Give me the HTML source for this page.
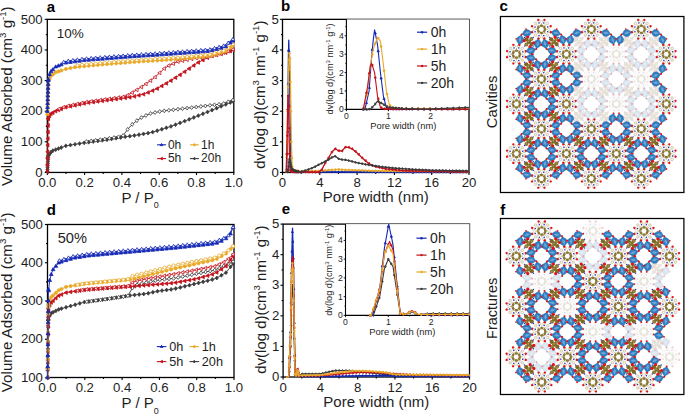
<!DOCTYPE html>
<html><head><meta charset="utf-8"><style>
html,body{margin:0;padding:0;background:#fff;width:685px;height:414px;overflow:hidden}
svg{display:block}
text{font-family:"Liberation Sans", sans-serif}
</style></head><body>
<svg width="685" height="414" viewBox="0 0 685 414" font-family='"Liberation Sans", sans-serif'>
<rect width="685" height="414" fill="#fff"/>
<rect x="47.3" y="19.35" width="186.5" height="153.1" fill="none" stroke="#000" stroke-width="1.3"/>
<line x1="47.30" y1="172.45" x2="47.30" y2="175.04999999999998" stroke="#000" stroke-width="1.105"/>
<line x1="84.60" y1="172.45" x2="84.60" y2="175.04999999999998" stroke="#000" stroke-width="1.105"/>
<line x1="121.90" y1="172.45" x2="121.90" y2="175.04999999999998" stroke="#000" stroke-width="1.105"/>
<line x1="159.20" y1="172.45" x2="159.20" y2="175.04999999999998" stroke="#000" stroke-width="1.105"/>
<line x1="196.50" y1="172.45" x2="196.50" y2="175.04999999999998" stroke="#000" stroke-width="1.105"/>
<line x1="233.80" y1="172.45" x2="233.80" y2="175.04999999999998" stroke="#000" stroke-width="1.105"/>
<line x1="65.95" y1="172.45" x2="65.95" y2="173.95" stroke="#000" stroke-width="1.105"/>
<line x1="103.25" y1="172.45" x2="103.25" y2="173.95" stroke="#000" stroke-width="1.105"/>
<line x1="140.55" y1="172.45" x2="140.55" y2="173.95" stroke="#000" stroke-width="1.105"/>
<line x1="177.85" y1="172.45" x2="177.85" y2="173.95" stroke="#000" stroke-width="1.105"/>
<line x1="215.15" y1="172.45" x2="215.15" y2="173.95" stroke="#000" stroke-width="1.105"/>
<line x1="44.699999999999996" y1="172.45" x2="47.3" y2="172.45" stroke="#000" stroke-width="1.105"/>
<line x1="44.699999999999996" y1="141.83" x2="47.3" y2="141.83" stroke="#000" stroke-width="1.105"/>
<line x1="44.699999999999996" y1="111.21" x2="47.3" y2="111.21" stroke="#000" stroke-width="1.105"/>
<line x1="44.699999999999996" y1="80.59" x2="47.3" y2="80.59" stroke="#000" stroke-width="1.105"/>
<line x1="44.699999999999996" y1="49.97" x2="47.3" y2="49.97" stroke="#000" stroke-width="1.105"/>
<line x1="44.699999999999996" y1="19.35" x2="47.3" y2="19.35" stroke="#000" stroke-width="1.105"/>
<line x1="45.8" y1="157.14" x2="47.3" y2="157.14" stroke="#000" stroke-width="1.105"/>
<line x1="45.8" y1="126.52" x2="47.3" y2="126.52" stroke="#000" stroke-width="1.105"/>
<line x1="45.8" y1="95.90" x2="47.3" y2="95.90" stroke="#000" stroke-width="1.105"/>
<line x1="45.8" y1="65.28" x2="47.3" y2="65.28" stroke="#000" stroke-width="1.105"/>
<line x1="45.8" y1="34.66" x2="47.3" y2="34.66" stroke="#000" stroke-width="1.105"/>
<text x="47.30" y="187.10" font-size="13.2" text-anchor="middle" font-weight="normal" fill="#1e1e1e" >0.0</text>
<text x="84.60" y="187.10" font-size="13.2" text-anchor="middle" font-weight="normal" fill="#1e1e1e" >0.2</text>
<text x="121.90" y="187.10" font-size="13.2" text-anchor="middle" font-weight="normal" fill="#1e1e1e" >0.4</text>
<text x="159.20" y="187.10" font-size="13.2" text-anchor="middle" font-weight="normal" fill="#1e1e1e" >0.6</text>
<text x="196.50" y="187.10" font-size="13.2" text-anchor="middle" font-weight="normal" fill="#1e1e1e" >0.8</text>
<text x="233.80" y="187.10" font-size="13.2" text-anchor="middle" font-weight="normal" fill="#1e1e1e" >1.0</text>
<text x="42.70" y="176.61" font-size="13.2" text-anchor="end" font-weight="normal" fill="#1e1e1e" >0</text>
<text x="42.70" y="145.99" font-size="13.2" text-anchor="end" font-weight="normal" fill="#1e1e1e" >100</text>
<text x="42.70" y="115.37" font-size="13.2" text-anchor="end" font-weight="normal" fill="#1e1e1e" >200</text>
<text x="42.70" y="84.75" font-size="13.2" text-anchor="end" font-weight="normal" fill="#1e1e1e" >300</text>
<text x="42.70" y="54.13" font-size="13.2" text-anchor="end" font-weight="normal" fill="#1e1e1e" >400</text>
<text x="42.70" y="23.51" font-size="13.2" text-anchor="end" font-weight="normal" fill="#1e1e1e" >500</text>
<clipPath id="clipa"><rect x="44.3" y="15.350000000000001" width="192.5" height="160.1"/></clipPath>
<g clip-path="url(#clipa)">
<polyline points="47.39,171.53 47.51,169.54 47.62,167.55 47.73,165.56 47.84,163.57 47.95,161.58 48.06,159.59 48.18,157.60 48.29,155.61 48.42,155.38 49.54,154.00 51.03,152.16 52.89,150.67 55.69,149.63 58.49,148.59 61.29,147.55 65.86,145.85 70.43,145.08 75.00,144.33 79.56,143.58 84.13,142.83 88.70,142.19 93.27,141.56 97.84,140.94 102.41,140.31 106.98,139.69 111.55,138.94 116.12,138.19 120.69,137.44 125.26,136.75 129.83,136.18 134.40,135.47 138.96,134.69 143.53,133.92 148.10,133.14 152.67,132.12 157.24,130.69 161.81,129.25 166.38,127.82 170.95,126.39 175.52,124.66 180.09,122.88 184.66,121.11 189.23,119.34 193.80,117.53 198.37,115.67 202.93,113.82 207.50,111.96 212.07,110.10 216.64,108.21 221.21,106.31 225.78,104.42 230.35,102.50 232.87,101.26" fill="none" stroke="#3c3c3c" stroke-width="0.9" stroke-linejoin="round" />
<polygon points="47.39,169.58 48.95,171.53 47.39,173.48 45.83,171.53" fill="#3c3c3c" stroke="#3c3c3c" stroke-width="0.8"/>
<polygon points="47.51,167.59 49.07,169.54 47.51,171.49 45.95,169.54" fill="#3c3c3c" stroke="#3c3c3c" stroke-width="0.8"/>
<polygon points="47.62,165.60 49.18,167.55 47.62,169.50 46.06,167.55" fill="#3c3c3c" stroke="#3c3c3c" stroke-width="0.8"/>
<polygon points="47.73,163.61 49.29,165.56 47.73,167.51 46.17,165.56" fill="#3c3c3c" stroke="#3c3c3c" stroke-width="0.8"/>
<polygon points="47.84,161.62 49.40,163.57 47.84,165.52 46.28,163.57" fill="#3c3c3c" stroke="#3c3c3c" stroke-width="0.8"/>
<polygon points="47.95,159.63 49.51,161.58 47.95,163.53 46.39,161.58" fill="#3c3c3c" stroke="#3c3c3c" stroke-width="0.8"/>
<polygon points="48.06,157.64 49.62,159.59 48.06,161.54 46.50,159.59" fill="#3c3c3c" stroke="#3c3c3c" stroke-width="0.8"/>
<polygon points="48.18,155.65 49.74,157.60 48.18,159.55 46.62,157.60" fill="#3c3c3c" stroke="#3c3c3c" stroke-width="0.8"/>
<polygon points="48.29,153.66 49.85,155.61 48.29,157.56 46.73,155.61" fill="#3c3c3c" stroke="#3c3c3c" stroke-width="0.8"/>
<polygon points="48.42,153.43 49.98,155.38 48.42,157.33 46.86,155.38" fill="#3c3c3c" stroke="#3c3c3c" stroke-width="0.8"/>
<polygon points="49.54,152.05 51.10,154.00 49.54,155.95 47.98,154.00" fill="#3c3c3c" stroke="#3c3c3c" stroke-width="0.8"/>
<polygon points="51.03,150.21 52.59,152.16 51.03,154.11 49.47,152.16" fill="#3c3c3c" stroke="#3c3c3c" stroke-width="0.8"/>
<polygon points="52.89,148.72 54.45,150.67 52.89,152.62 51.33,150.67" fill="#3c3c3c" stroke="#3c3c3c" stroke-width="0.8"/>
<polygon points="55.69,147.68 57.25,149.63 55.69,151.58 54.13,149.63" fill="#3c3c3c" stroke="#3c3c3c" stroke-width="0.8"/>
<polygon points="58.49,146.64 60.05,148.59 58.49,150.54 56.93,148.59" fill="#3c3c3c" stroke="#3c3c3c" stroke-width="0.8"/>
<polygon points="61.29,145.60 62.85,147.55 61.29,149.50 59.73,147.55" fill="#3c3c3c" stroke="#3c3c3c" stroke-width="0.8"/>
<polygon points="65.86,143.90 67.42,145.85 65.86,147.80 64.30,145.85" fill="#3c3c3c" stroke="#3c3c3c" stroke-width="0.8"/>
<polygon points="70.43,143.13 71.99,145.08 70.43,147.03 68.87,145.08" fill="#3c3c3c" stroke="#3c3c3c" stroke-width="0.8"/>
<polygon points="75.00,142.38 76.56,144.33 75.00,146.28 73.44,144.33" fill="#3c3c3c" stroke="#3c3c3c" stroke-width="0.8"/>
<polygon points="79.56,141.63 81.12,143.58 79.56,145.53 78.00,143.58" fill="#3c3c3c" stroke="#3c3c3c" stroke-width="0.8"/>
<polygon points="84.13,140.88 85.69,142.83 84.13,144.78 82.57,142.83" fill="#3c3c3c" stroke="#3c3c3c" stroke-width="0.8"/>
<polygon points="88.70,140.24 90.26,142.19 88.70,144.14 87.14,142.19" fill="#3c3c3c" stroke="#3c3c3c" stroke-width="0.8"/>
<polygon points="93.27,139.61 94.83,141.56 93.27,143.51 91.71,141.56" fill="#3c3c3c" stroke="#3c3c3c" stroke-width="0.8"/>
<polygon points="97.84,138.99 99.40,140.94 97.84,142.89 96.28,140.94" fill="#3c3c3c" stroke="#3c3c3c" stroke-width="0.8"/>
<polygon points="102.41,138.36 103.97,140.31 102.41,142.26 100.85,140.31" fill="#3c3c3c" stroke="#3c3c3c" stroke-width="0.8"/>
<polygon points="106.98,137.74 108.54,139.69 106.98,141.64 105.42,139.69" fill="#3c3c3c" stroke="#3c3c3c" stroke-width="0.8"/>
<polygon points="111.55,136.99 113.11,138.94 111.55,140.89 109.99,138.94" fill="#3c3c3c" stroke="#3c3c3c" stroke-width="0.8"/>
<polygon points="116.12,136.24 117.68,138.19 116.12,140.14 114.56,138.19" fill="#3c3c3c" stroke="#3c3c3c" stroke-width="0.8"/>
<polygon points="120.69,135.49 122.25,137.44 120.69,139.39 119.13,137.44" fill="#3c3c3c" stroke="#3c3c3c" stroke-width="0.8"/>
<polygon points="125.26,134.80 126.82,136.75 125.26,138.70 123.70,136.75" fill="#3c3c3c" stroke="#3c3c3c" stroke-width="0.8"/>
<polygon points="129.83,134.23 131.39,136.18 129.83,138.13 128.27,136.18" fill="#3c3c3c" stroke="#3c3c3c" stroke-width="0.8"/>
<polygon points="134.40,133.52 135.96,135.47 134.40,137.42 132.84,135.47" fill="#3c3c3c" stroke="#3c3c3c" stroke-width="0.8"/>
<polygon points="138.96,132.74 140.52,134.69 138.96,136.64 137.40,134.69" fill="#3c3c3c" stroke="#3c3c3c" stroke-width="0.8"/>
<polygon points="143.53,131.97 145.09,133.92 143.53,135.87 141.97,133.92" fill="#3c3c3c" stroke="#3c3c3c" stroke-width="0.8"/>
<polygon points="148.10,131.19 149.66,133.14 148.10,135.09 146.54,133.14" fill="#3c3c3c" stroke="#3c3c3c" stroke-width="0.8"/>
<polygon points="152.67,130.17 154.23,132.12 152.67,134.07 151.11,132.12" fill="#3c3c3c" stroke="#3c3c3c" stroke-width="0.8"/>
<polygon points="157.24,128.74 158.80,130.69 157.24,132.64 155.68,130.69" fill="#3c3c3c" stroke="#3c3c3c" stroke-width="0.8"/>
<polygon points="161.81,127.30 163.37,129.25 161.81,131.20 160.25,129.25" fill="#3c3c3c" stroke="#3c3c3c" stroke-width="0.8"/>
<polygon points="166.38,125.87 167.94,127.82 166.38,129.77 164.82,127.82" fill="#3c3c3c" stroke="#3c3c3c" stroke-width="0.8"/>
<polygon points="170.95,124.44 172.51,126.39 170.95,128.34 169.39,126.39" fill="#3c3c3c" stroke="#3c3c3c" stroke-width="0.8"/>
<polygon points="175.52,122.71 177.08,124.66 175.52,126.61 173.96,124.66" fill="#3c3c3c" stroke="#3c3c3c" stroke-width="0.8"/>
<polygon points="180.09,120.93 181.65,122.88 180.09,124.83 178.53,122.88" fill="#3c3c3c" stroke="#3c3c3c" stroke-width="0.8"/>
<polygon points="184.66,119.16 186.22,121.11 184.66,123.06 183.10,121.11" fill="#3c3c3c" stroke="#3c3c3c" stroke-width="0.8"/>
<polygon points="189.23,117.39 190.79,119.34 189.23,121.29 187.67,119.34" fill="#3c3c3c" stroke="#3c3c3c" stroke-width="0.8"/>
<polygon points="193.80,115.58 195.36,117.53 193.80,119.48 192.24,117.53" fill="#3c3c3c" stroke="#3c3c3c" stroke-width="0.8"/>
<polygon points="198.37,113.72 199.93,115.67 198.37,117.62 196.81,115.67" fill="#3c3c3c" stroke="#3c3c3c" stroke-width="0.8"/>
<polygon points="202.93,111.87 204.49,113.82 202.93,115.77 201.37,113.82" fill="#3c3c3c" stroke="#3c3c3c" stroke-width="0.8"/>
<polygon points="207.50,110.01 209.06,111.96 207.50,113.91 205.94,111.96" fill="#3c3c3c" stroke="#3c3c3c" stroke-width="0.8"/>
<polygon points="212.07,108.15 213.63,110.10 212.07,112.05 210.51,110.10" fill="#3c3c3c" stroke="#3c3c3c" stroke-width="0.8"/>
<polygon points="216.64,106.26 218.20,108.21 216.64,110.16 215.08,108.21" fill="#3c3c3c" stroke="#3c3c3c" stroke-width="0.8"/>
<polygon points="221.21,104.36 222.77,106.31 221.21,108.26 219.65,106.31" fill="#3c3c3c" stroke="#3c3c3c" stroke-width="0.8"/>
<polygon points="225.78,102.47 227.34,104.42 225.78,106.37 224.22,104.42" fill="#3c3c3c" stroke="#3c3c3c" stroke-width="0.8"/>
<polygon points="230.35,100.55 231.91,102.50 230.35,104.45 228.79,102.50" fill="#3c3c3c" stroke="#3c3c3c" stroke-width="0.8"/>
<polygon points="232.87,99.31 234.43,101.26 232.87,103.21 231.31,101.26" fill="#3c3c3c" stroke="#3c3c3c" stroke-width="0.8"/>
<polyline points="232.87,100.03 228.20,101.84 223.64,103.49 219.07,104.29 214.50,104.84 209.93,105.38 205.36,105.93 200.79,106.48 196.22,107.03 191.65,107.58 187.08,108.12 182.51,108.66 177.94,109.21 173.37,109.75 168.80,110.29 164.24,110.83 159.67,111.52 155.10,112.52 150.53,113.52 145.96,115.46 141.39,117.56 136.82,120.70 132.25,124.38 127.68,129.38 123.11,135.52 118.54,136.87 113.97,137.62 109.40,138.37 104.84,139.06 100.27,139.69 95.70,140.31 91.13,140.94 86.56,141.56" fill="none" stroke="#3c3c3c" stroke-width="0.9" stroke-linejoin="round" />
<polygon points="232.87,98.08 234.43,100.03 232.87,101.98 231.31,100.03" fill="#fff" stroke="#3c3c3c" stroke-width="0.8"/>
<polygon points="228.20,99.89 229.76,101.84 228.20,103.79 226.64,101.84" fill="#fff" stroke="#3c3c3c" stroke-width="0.8"/>
<polygon points="223.64,101.54 225.20,103.49 223.64,105.44 222.08,103.49" fill="#fff" stroke="#3c3c3c" stroke-width="0.8"/>
<polygon points="219.07,102.34 220.63,104.29 219.07,106.24 217.51,104.29" fill="#fff" stroke="#3c3c3c" stroke-width="0.8"/>
<polygon points="214.50,102.89 216.06,104.84 214.50,106.79 212.94,104.84" fill="#fff" stroke="#3c3c3c" stroke-width="0.8"/>
<polygon points="209.93,103.43 211.49,105.38 209.93,107.33 208.37,105.38" fill="#fff" stroke="#3c3c3c" stroke-width="0.8"/>
<polygon points="205.36,103.98 206.92,105.93 205.36,107.88 203.80,105.93" fill="#fff" stroke="#3c3c3c" stroke-width="0.8"/>
<polygon points="200.79,104.53 202.35,106.48 200.79,108.43 199.23,106.48" fill="#fff" stroke="#3c3c3c" stroke-width="0.8"/>
<polygon points="196.22,105.08 197.78,107.03 196.22,108.98 194.66,107.03" fill="#fff" stroke="#3c3c3c" stroke-width="0.8"/>
<polygon points="191.65,105.63 193.21,107.58 191.65,109.53 190.09,107.58" fill="#fff" stroke="#3c3c3c" stroke-width="0.8"/>
<polygon points="187.08,106.17 188.64,108.12 187.08,110.07 185.52,108.12" fill="#fff" stroke="#3c3c3c" stroke-width="0.8"/>
<polygon points="182.51,106.71 184.07,108.66 182.51,110.61 180.95,108.66" fill="#fff" stroke="#3c3c3c" stroke-width="0.8"/>
<polygon points="177.94,107.26 179.50,109.21 177.94,111.16 176.38,109.21" fill="#fff" stroke="#3c3c3c" stroke-width="0.8"/>
<polygon points="173.37,107.80 174.93,109.75 173.37,111.70 171.81,109.75" fill="#fff" stroke="#3c3c3c" stroke-width="0.8"/>
<polygon points="168.80,108.34 170.36,110.29 168.80,112.24 167.24,110.29" fill="#fff" stroke="#3c3c3c" stroke-width="0.8"/>
<polygon points="164.24,108.88 165.80,110.83 164.24,112.78 162.68,110.83" fill="#fff" stroke="#3c3c3c" stroke-width="0.8"/>
<polygon points="159.67,109.57 161.23,111.52 159.67,113.47 158.11,111.52" fill="#fff" stroke="#3c3c3c" stroke-width="0.8"/>
<polygon points="155.10,110.57 156.66,112.52 155.10,114.47 153.54,112.52" fill="#fff" stroke="#3c3c3c" stroke-width="0.8"/>
<polygon points="150.53,111.57 152.09,113.52 150.53,115.47 148.97,113.52" fill="#fff" stroke="#3c3c3c" stroke-width="0.8"/>
<polygon points="145.96,113.51 147.52,115.46 145.96,117.41 144.40,115.46" fill="#fff" stroke="#3c3c3c" stroke-width="0.8"/>
<polygon points="141.39,115.61 142.95,117.56 141.39,119.51 139.83,117.56" fill="#fff" stroke="#3c3c3c" stroke-width="0.8"/>
<polygon points="136.82,118.75 138.38,120.70 136.82,122.65 135.26,120.70" fill="#fff" stroke="#3c3c3c" stroke-width="0.8"/>
<polygon points="132.25,122.43 133.81,124.38 132.25,126.33 130.69,124.38" fill="#fff" stroke="#3c3c3c" stroke-width="0.8"/>
<polygon points="127.68,127.43 129.24,129.38 127.68,131.33 126.12,129.38" fill="#fff" stroke="#3c3c3c" stroke-width="0.8"/>
<polygon points="123.11,133.57 124.67,135.52 123.11,137.47 121.55,135.52" fill="#fff" stroke="#3c3c3c" stroke-width="0.8"/>
<polygon points="118.54,134.92 120.10,136.87 118.54,138.82 116.98,136.87" fill="#fff" stroke="#3c3c3c" stroke-width="0.8"/>
<polygon points="113.97,135.67 115.53,137.62 113.97,139.57 112.41,137.62" fill="#fff" stroke="#3c3c3c" stroke-width="0.8"/>
<polygon points="109.40,136.42 110.96,138.37 109.40,140.32 107.84,138.37" fill="#fff" stroke="#3c3c3c" stroke-width="0.8"/>
<polygon points="104.84,137.11 106.40,139.06 104.84,141.01 103.28,139.06" fill="#fff" stroke="#3c3c3c" stroke-width="0.8"/>
<polygon points="100.27,137.74 101.83,139.69 100.27,141.64 98.71,139.69" fill="#fff" stroke="#3c3c3c" stroke-width="0.8"/>
<polygon points="95.70,138.36 97.26,140.31 95.70,142.26 94.14,140.31" fill="#fff" stroke="#3c3c3c" stroke-width="0.8"/>
<polygon points="91.13,138.99 92.69,140.94 91.13,142.89 89.57,140.94" fill="#fff" stroke="#3c3c3c" stroke-width="0.8"/>
<polygon points="86.56,139.61 88.12,141.56 86.56,143.51 85.00,141.56" fill="#fff" stroke="#3c3c3c" stroke-width="0.8"/>
<polyline points="47.39,171.53 47.51,164.95 47.62,158.36 47.73,151.78 47.84,145.20 47.95,138.61 48.06,132.03 48.18,125.45 48.29,118.86 48.42,118.41 49.54,115.91 51.03,113.66 52.89,112.64 55.69,111.11 58.49,110.00 61.29,108.96 65.86,107.26 70.43,106.29 75.00,105.34 79.56,104.38 84.13,103.43 88.70,102.65 93.27,102.05 97.84,101.45 102.41,100.85 106.98,100.25 111.55,99.65 116.12,99.05 120.69,98.45 125.26,97.86 129.83,97.30 134.40,96.38 138.96,95.31 143.53,94.24 148.10,92.49 152.67,90.62 157.24,88.58 161.81,85.96 166.38,83.35 170.95,80.59 175.52,77.69 180.09,74.80 184.66,71.74 189.23,68.60 193.80,65.46 198.37,62.45 202.93,60.10 207.50,57.76 212.07,56.09 216.64,54.96 221.21,53.84 225.78,52.60 230.35,51.10 232.87,49.97" fill="none" stroke="#c4121c" stroke-width="0.9" stroke-linejoin="round" />
<polygon points="45.44,171.53 48.56,169.68 48.56,173.38" fill="#c4121c" stroke="#c4121c" stroke-width="0.8"/>
<polygon points="45.56,164.95 48.68,163.10 48.68,166.80" fill="#c4121c" stroke="#c4121c" stroke-width="0.8"/>
<polygon points="45.67,158.36 48.79,156.51 48.79,160.22" fill="#c4121c" stroke="#c4121c" stroke-width="0.8"/>
<polygon points="45.78,151.78 48.90,149.93 48.90,153.63" fill="#c4121c" stroke="#c4121c" stroke-width="0.8"/>
<polygon points="45.89,145.20 49.01,143.35 49.01,147.05" fill="#c4121c" stroke="#c4121c" stroke-width="0.8"/>
<polygon points="46.00,138.61 49.12,136.76 49.12,140.47" fill="#c4121c" stroke="#c4121c" stroke-width="0.8"/>
<polygon points="46.11,132.03 49.23,130.18 49.23,133.88" fill="#c4121c" stroke="#c4121c" stroke-width="0.8"/>
<polygon points="46.23,125.45 49.35,123.60 49.35,127.30" fill="#c4121c" stroke="#c4121c" stroke-width="0.8"/>
<polygon points="46.34,118.86 49.46,117.01 49.46,120.72" fill="#c4121c" stroke="#c4121c" stroke-width="0.8"/>
<polygon points="46.47,118.41 49.59,116.55 49.59,120.26" fill="#c4121c" stroke="#c4121c" stroke-width="0.8"/>
<polygon points="47.59,115.91 50.71,114.05 50.71,117.76" fill="#c4121c" stroke="#c4121c" stroke-width="0.8"/>
<polygon points="49.08,113.66 52.20,111.81 52.20,115.51" fill="#c4121c" stroke="#c4121c" stroke-width="0.8"/>
<polygon points="50.94,112.64 54.06,110.79 54.06,114.49" fill="#c4121c" stroke="#c4121c" stroke-width="0.8"/>
<polygon points="53.74,111.11 56.86,109.26 56.86,112.96" fill="#c4121c" stroke="#c4121c" stroke-width="0.8"/>
<polygon points="56.54,110.00 59.66,108.15 59.66,111.86" fill="#c4121c" stroke="#c4121c" stroke-width="0.8"/>
<polygon points="59.34,108.96 62.46,107.11 62.46,110.82" fill="#c4121c" stroke="#c4121c" stroke-width="0.8"/>
<polygon points="63.91,107.26 67.03,105.41 67.03,109.12" fill="#c4121c" stroke="#c4121c" stroke-width="0.8"/>
<polygon points="68.48,106.29 71.60,104.44 71.60,108.15" fill="#c4121c" stroke="#c4121c" stroke-width="0.8"/>
<polygon points="73.05,105.34 76.17,103.49 76.17,107.19" fill="#c4121c" stroke="#c4121c" stroke-width="0.8"/>
<polygon points="77.61,104.38 80.73,102.53 80.73,106.24" fill="#c4121c" stroke="#c4121c" stroke-width="0.8"/>
<polygon points="82.18,103.43 85.30,101.58 85.30,105.28" fill="#c4121c" stroke="#c4121c" stroke-width="0.8"/>
<polygon points="86.75,102.65 89.87,100.80 89.87,104.50" fill="#c4121c" stroke="#c4121c" stroke-width="0.8"/>
<polygon points="91.32,102.05 94.44,100.20 94.44,103.90" fill="#c4121c" stroke="#c4121c" stroke-width="0.8"/>
<polygon points="95.89,101.45 99.01,99.60 99.01,103.30" fill="#c4121c" stroke="#c4121c" stroke-width="0.8"/>
<polygon points="100.46,100.85 103.58,99.00 103.58,102.70" fill="#c4121c" stroke="#c4121c" stroke-width="0.8"/>
<polygon points="105.03,100.25 108.15,98.40 108.15,102.10" fill="#c4121c" stroke="#c4121c" stroke-width="0.8"/>
<polygon points="109.60,99.65 112.72,97.80 112.72,101.50" fill="#c4121c" stroke="#c4121c" stroke-width="0.8"/>
<polygon points="114.17,99.05 117.29,97.20 117.29,100.90" fill="#c4121c" stroke="#c4121c" stroke-width="0.8"/>
<polygon points="118.74,98.45 121.86,96.60 121.86,100.30" fill="#c4121c" stroke="#c4121c" stroke-width="0.8"/>
<polygon points="123.31,97.86 126.43,96.01 126.43,99.71" fill="#c4121c" stroke="#c4121c" stroke-width="0.8"/>
<polygon points="127.88,97.30 131.00,95.44 131.00,99.15" fill="#c4121c" stroke="#c4121c" stroke-width="0.8"/>
<polygon points="132.45,96.38 135.57,94.53 135.57,98.23" fill="#c4121c" stroke="#c4121c" stroke-width="0.8"/>
<polygon points="137.01,95.31 140.13,93.46 140.13,97.16" fill="#c4121c" stroke="#c4121c" stroke-width="0.8"/>
<polygon points="141.58,94.24 144.70,92.39 144.70,96.09" fill="#c4121c" stroke="#c4121c" stroke-width="0.8"/>
<polygon points="146.15,92.49 149.27,90.64 149.27,94.35" fill="#c4121c" stroke="#c4121c" stroke-width="0.8"/>
<polygon points="150.72,90.62 153.84,88.77 153.84,92.47" fill="#c4121c" stroke="#c4121c" stroke-width="0.8"/>
<polygon points="155.29,88.58 158.41,86.72 158.41,90.43" fill="#c4121c" stroke="#c4121c" stroke-width="0.8"/>
<polygon points="159.86,85.96 162.98,84.11 162.98,87.81" fill="#c4121c" stroke="#c4121c" stroke-width="0.8"/>
<polygon points="164.43,83.35 167.55,81.50 167.55,85.20" fill="#c4121c" stroke="#c4121c" stroke-width="0.8"/>
<polygon points="169.00,80.59 172.12,78.73 172.12,82.44" fill="#c4121c" stroke="#c4121c" stroke-width="0.8"/>
<polygon points="173.57,77.69 176.69,75.84 176.69,79.54" fill="#c4121c" stroke="#c4121c" stroke-width="0.8"/>
<polygon points="178.14,74.80 181.26,72.95 181.26,76.65" fill="#c4121c" stroke="#c4121c" stroke-width="0.8"/>
<polygon points="182.71,71.74 185.83,69.89 185.83,73.59" fill="#c4121c" stroke="#c4121c" stroke-width="0.8"/>
<polygon points="187.28,68.60 190.40,66.75 190.40,70.45" fill="#c4121c" stroke="#c4121c" stroke-width="0.8"/>
<polygon points="191.85,65.46 194.97,63.61 194.97,67.31" fill="#c4121c" stroke="#c4121c" stroke-width="0.8"/>
<polygon points="196.42,62.45 199.53,60.60 199.53,64.30" fill="#c4121c" stroke="#c4121c" stroke-width="0.8"/>
<polygon points="200.98,60.10 204.10,58.25 204.10,61.96" fill="#c4121c" stroke="#c4121c" stroke-width="0.8"/>
<polygon points="205.55,57.76 208.67,55.91 208.67,59.61" fill="#c4121c" stroke="#c4121c" stroke-width="0.8"/>
<polygon points="210.12,56.09 213.24,54.23 213.24,57.94" fill="#c4121c" stroke="#c4121c" stroke-width="0.8"/>
<polygon points="214.69,54.96 217.81,53.11 217.81,56.81" fill="#c4121c" stroke="#c4121c" stroke-width="0.8"/>
<polygon points="219.26,53.84 222.38,51.98 222.38,55.69" fill="#c4121c" stroke="#c4121c" stroke-width="0.8"/>
<polygon points="223.83,52.60 226.95,50.75 226.95,54.46" fill="#c4121c" stroke="#c4121c" stroke-width="0.8"/>
<polygon points="228.40,51.10 231.52,49.25 231.52,52.96" fill="#c4121c" stroke="#c4121c" stroke-width="0.8"/>
<polygon points="230.92,49.97 234.04,48.12 234.04,51.82" fill="#c4121c" stroke="#c4121c" stroke-width="0.8"/>
<polyline points="232.87,49.36 228.20,51.19 223.64,52.61 219.07,53.66 214.50,54.68 209.93,55.51 205.36,56.33 200.79,57.16 196.22,57.99 191.65,58.89 187.08,59.79 182.51,60.69 177.94,61.59 173.37,63.59 168.80,65.61 164.24,68.56 159.67,72.85 155.10,77.13 150.53,80.62 145.96,83.96 141.39,86.99 136.82,89.84 132.25,92.55 127.68,95.18 123.11,96.91 118.54,97.55 113.97,98.19 109.40,98.82 104.84,99.46 100.27,100.10 95.70,100.74 91.13,101.37 86.56,102.01 81.99,102.96 77.42,103.91 72.85,104.87 68.28,105.82 63.71,107.14 59.14,108.84" fill="none" stroke="#c4121c" stroke-width="0.9" stroke-linejoin="round" />
<polygon points="230.92,49.36 234.04,47.51 234.04,51.21" fill="#fff" stroke="#c4121c" stroke-width="0.8"/>
<polygon points="226.25,51.19 229.37,49.34 229.37,53.05" fill="#fff" stroke="#c4121c" stroke-width="0.8"/>
<polygon points="221.69,52.61 224.81,50.76 224.81,54.47" fill="#fff" stroke="#c4121c" stroke-width="0.8"/>
<polygon points="217.12,53.66 220.24,51.81 220.24,55.52" fill="#fff" stroke="#c4121c" stroke-width="0.8"/>
<polygon points="212.55,54.68 215.67,52.83 215.67,56.53" fill="#fff" stroke="#c4121c" stroke-width="0.8"/>
<polygon points="207.98,55.51 211.10,53.65 211.10,57.36" fill="#fff" stroke="#c4121c" stroke-width="0.8"/>
<polygon points="203.41,56.33 206.53,54.48 206.53,58.18" fill="#fff" stroke="#c4121c" stroke-width="0.8"/>
<polygon points="198.84,57.16 201.96,55.30 201.96,59.01" fill="#fff" stroke="#c4121c" stroke-width="0.8"/>
<polygon points="194.27,57.99 197.39,56.13 197.39,59.84" fill="#fff" stroke="#c4121c" stroke-width="0.8"/>
<polygon points="189.70,58.89 192.82,57.03 192.82,60.74" fill="#fff" stroke="#c4121c" stroke-width="0.8"/>
<polygon points="185.13,59.79 188.25,57.93 188.25,61.64" fill="#fff" stroke="#c4121c" stroke-width="0.8"/>
<polygon points="180.56,60.69 183.68,58.83 183.68,62.54" fill="#fff" stroke="#c4121c" stroke-width="0.8"/>
<polygon points="175.99,61.59 179.11,59.73 179.11,63.44" fill="#fff" stroke="#c4121c" stroke-width="0.8"/>
<polygon points="171.42,63.59 174.54,61.74 174.54,65.44" fill="#fff" stroke="#c4121c" stroke-width="0.8"/>
<polygon points="166.85,65.61 169.97,63.76 169.97,67.47" fill="#fff" stroke="#c4121c" stroke-width="0.8"/>
<polygon points="162.29,68.56 165.41,66.71 165.41,70.41" fill="#fff" stroke="#c4121c" stroke-width="0.8"/>
<polygon points="157.72,72.85 160.84,71.00 160.84,74.70" fill="#fff" stroke="#c4121c" stroke-width="0.8"/>
<polygon points="153.15,77.13 156.27,75.28 156.27,78.99" fill="#fff" stroke="#c4121c" stroke-width="0.8"/>
<polygon points="148.58,80.62 151.70,78.77 151.70,82.48" fill="#fff" stroke="#c4121c" stroke-width="0.8"/>
<polygon points="144.01,83.96 147.13,82.11 147.13,85.81" fill="#fff" stroke="#c4121c" stroke-width="0.8"/>
<polygon points="139.44,86.99 142.56,85.13 142.56,88.84" fill="#fff" stroke="#c4121c" stroke-width="0.8"/>
<polygon points="134.87,89.84 137.99,87.98 137.99,91.69" fill="#fff" stroke="#c4121c" stroke-width="0.8"/>
<polygon points="130.30,92.55 133.42,90.70 133.42,94.41" fill="#fff" stroke="#c4121c" stroke-width="0.8"/>
<polygon points="125.73,95.18 128.85,93.33 128.85,97.03" fill="#fff" stroke="#c4121c" stroke-width="0.8"/>
<polygon points="121.16,96.91 124.28,95.06 124.28,98.76" fill="#fff" stroke="#c4121c" stroke-width="0.8"/>
<polygon points="116.59,97.55 119.71,95.69 119.71,99.40" fill="#fff" stroke="#c4121c" stroke-width="0.8"/>
<polygon points="112.02,98.19 115.14,96.33 115.14,100.04" fill="#fff" stroke="#c4121c" stroke-width="0.8"/>
<polygon points="107.45,98.82 110.57,96.97 110.57,100.68" fill="#fff" stroke="#c4121c" stroke-width="0.8"/>
<polygon points="102.89,99.46 106.01,97.61 106.01,101.31" fill="#fff" stroke="#c4121c" stroke-width="0.8"/>
<polygon points="98.32,100.10 101.44,98.25 101.44,101.95" fill="#fff" stroke="#c4121c" stroke-width="0.8"/>
<polygon points="93.75,100.74 96.87,98.88 96.87,102.59" fill="#fff" stroke="#c4121c" stroke-width="0.8"/>
<polygon points="89.18,101.37 92.30,99.52 92.30,103.23" fill="#fff" stroke="#c4121c" stroke-width="0.8"/>
<polygon points="84.61,102.01 87.73,100.16 87.73,103.86" fill="#fff" stroke="#c4121c" stroke-width="0.8"/>
<polygon points="80.04,102.96 83.16,101.11 83.16,104.81" fill="#fff" stroke="#c4121c" stroke-width="0.8"/>
<polygon points="75.47,103.91 78.59,102.06 78.59,105.77" fill="#fff" stroke="#c4121c" stroke-width="0.8"/>
<polygon points="70.90,104.87 74.02,103.02 74.02,106.72" fill="#fff" stroke="#c4121c" stroke-width="0.8"/>
<polygon points="66.33,105.82 69.45,103.97 69.45,107.68" fill="#fff" stroke="#c4121c" stroke-width="0.8"/>
<polygon points="61.76,107.14 64.88,105.29 64.88,109.00" fill="#fff" stroke="#c4121c" stroke-width="0.8"/>
<polygon points="57.19,108.84 60.31,106.99 60.31,110.69" fill="#fff" stroke="#c4121c" stroke-width="0.8"/>
<polyline points="47.39,114.27 47.51,110.64 47.62,107.00 47.73,103.36 47.84,99.73 47.95,96.09 48.06,92.46 48.18,88.82 48.29,85.18 48.42,84.37 49.54,78.88 51.03,75.69 52.89,74.34 55.69,72.32 58.49,71.40 61.29,70.49 65.86,68.99 70.43,68.07 75.00,67.17 79.56,66.69 84.13,66.24 88.70,65.79 93.27,65.34 97.84,64.89 102.41,64.44 106.98,64.07 111.55,63.72 116.12,63.36 120.69,63.01 125.26,62.65 129.83,62.29 134.40,61.94 138.96,61.59 143.53,61.30 148.10,61.02 152.67,60.73 157.24,60.44 161.81,60.16 166.38,59.87 170.95,59.59 175.52,59.30 180.09,58.94 184.66,58.50 189.23,58.06 193.80,57.62 198.37,57.17 202.93,56.73 207.50,56.29 212.07,55.36 216.64,54.04 221.21,52.72 225.78,51.20 230.35,47.56 232.87,45.68" fill="none" stroke="#e8a92a" stroke-width="0.9" stroke-linejoin="round" />
<circle cx="47.39" cy="114.27" r="1.56" fill="#e8a92a" stroke="#e8a92a" stroke-width="0.8"/>
<circle cx="47.51" cy="110.64" r="1.56" fill="#e8a92a" stroke="#e8a92a" stroke-width="0.8"/>
<circle cx="47.62" cy="107.00" r="1.56" fill="#e8a92a" stroke="#e8a92a" stroke-width="0.8"/>
<circle cx="47.73" cy="103.36" r="1.56" fill="#e8a92a" stroke="#e8a92a" stroke-width="0.8"/>
<circle cx="47.84" cy="99.73" r="1.56" fill="#e8a92a" stroke="#e8a92a" stroke-width="0.8"/>
<circle cx="47.95" cy="96.09" r="1.56" fill="#e8a92a" stroke="#e8a92a" stroke-width="0.8"/>
<circle cx="48.06" cy="92.46" r="1.56" fill="#e8a92a" stroke="#e8a92a" stroke-width="0.8"/>
<circle cx="48.18" cy="88.82" r="1.56" fill="#e8a92a" stroke="#e8a92a" stroke-width="0.8"/>
<circle cx="48.29" cy="85.18" r="1.56" fill="#e8a92a" stroke="#e8a92a" stroke-width="0.8"/>
<circle cx="48.42" cy="84.37" r="1.56" fill="#e8a92a" stroke="#e8a92a" stroke-width="0.8"/>
<circle cx="49.54" cy="78.88" r="1.56" fill="#e8a92a" stroke="#e8a92a" stroke-width="0.8"/>
<circle cx="51.03" cy="75.69" r="1.56" fill="#e8a92a" stroke="#e8a92a" stroke-width="0.8"/>
<circle cx="52.89" cy="74.34" r="1.56" fill="#e8a92a" stroke="#e8a92a" stroke-width="0.8"/>
<circle cx="55.69" cy="72.32" r="1.56" fill="#e8a92a" stroke="#e8a92a" stroke-width="0.8"/>
<circle cx="58.49" cy="71.40" r="1.56" fill="#e8a92a" stroke="#e8a92a" stroke-width="0.8"/>
<circle cx="61.29" cy="70.49" r="1.56" fill="#e8a92a" stroke="#e8a92a" stroke-width="0.8"/>
<circle cx="65.86" cy="68.99" r="1.56" fill="#e8a92a" stroke="#e8a92a" stroke-width="0.8"/>
<circle cx="70.43" cy="68.07" r="1.56" fill="#e8a92a" stroke="#e8a92a" stroke-width="0.8"/>
<circle cx="75.00" cy="67.17" r="1.56" fill="#e8a92a" stroke="#e8a92a" stroke-width="0.8"/>
<circle cx="79.56" cy="66.69" r="1.56" fill="#e8a92a" stroke="#e8a92a" stroke-width="0.8"/>
<circle cx="84.13" cy="66.24" r="1.56" fill="#e8a92a" stroke="#e8a92a" stroke-width="0.8"/>
<circle cx="88.70" cy="65.79" r="1.56" fill="#e8a92a" stroke="#e8a92a" stroke-width="0.8"/>
<circle cx="93.27" cy="65.34" r="1.56" fill="#e8a92a" stroke="#e8a92a" stroke-width="0.8"/>
<circle cx="97.84" cy="64.89" r="1.56" fill="#e8a92a" stroke="#e8a92a" stroke-width="0.8"/>
<circle cx="102.41" cy="64.44" r="1.56" fill="#e8a92a" stroke="#e8a92a" stroke-width="0.8"/>
<circle cx="106.98" cy="64.07" r="1.56" fill="#e8a92a" stroke="#e8a92a" stroke-width="0.8"/>
<circle cx="111.55" cy="63.72" r="1.56" fill="#e8a92a" stroke="#e8a92a" stroke-width="0.8"/>
<circle cx="116.12" cy="63.36" r="1.56" fill="#e8a92a" stroke="#e8a92a" stroke-width="0.8"/>
<circle cx="120.69" cy="63.01" r="1.56" fill="#e8a92a" stroke="#e8a92a" stroke-width="0.8"/>
<circle cx="125.26" cy="62.65" r="1.56" fill="#e8a92a" stroke="#e8a92a" stroke-width="0.8"/>
<circle cx="129.83" cy="62.29" r="1.56" fill="#e8a92a" stroke="#e8a92a" stroke-width="0.8"/>
<circle cx="134.40" cy="61.94" r="1.56" fill="#e8a92a" stroke="#e8a92a" stroke-width="0.8"/>
<circle cx="138.96" cy="61.59" r="1.56" fill="#e8a92a" stroke="#e8a92a" stroke-width="0.8"/>
<circle cx="143.53" cy="61.30" r="1.56" fill="#e8a92a" stroke="#e8a92a" stroke-width="0.8"/>
<circle cx="148.10" cy="61.02" r="1.56" fill="#e8a92a" stroke="#e8a92a" stroke-width="0.8"/>
<circle cx="152.67" cy="60.73" r="1.56" fill="#e8a92a" stroke="#e8a92a" stroke-width="0.8"/>
<circle cx="157.24" cy="60.44" r="1.56" fill="#e8a92a" stroke="#e8a92a" stroke-width="0.8"/>
<circle cx="161.81" cy="60.16" r="1.56" fill="#e8a92a" stroke="#e8a92a" stroke-width="0.8"/>
<circle cx="166.38" cy="59.87" r="1.56" fill="#e8a92a" stroke="#e8a92a" stroke-width="0.8"/>
<circle cx="170.95" cy="59.59" r="1.56" fill="#e8a92a" stroke="#e8a92a" stroke-width="0.8"/>
<circle cx="175.52" cy="59.30" r="1.56" fill="#e8a92a" stroke="#e8a92a" stroke-width="0.8"/>
<circle cx="180.09" cy="58.94" r="1.56" fill="#e8a92a" stroke="#e8a92a" stroke-width="0.8"/>
<circle cx="184.66" cy="58.50" r="1.56" fill="#e8a92a" stroke="#e8a92a" stroke-width="0.8"/>
<circle cx="189.23" cy="58.06" r="1.56" fill="#e8a92a" stroke="#e8a92a" stroke-width="0.8"/>
<circle cx="193.80" cy="57.62" r="1.56" fill="#e8a92a" stroke="#e8a92a" stroke-width="0.8"/>
<circle cx="198.37" cy="57.17" r="1.56" fill="#e8a92a" stroke="#e8a92a" stroke-width="0.8"/>
<circle cx="202.93" cy="56.73" r="1.56" fill="#e8a92a" stroke="#e8a92a" stroke-width="0.8"/>
<circle cx="207.50" cy="56.29" r="1.56" fill="#e8a92a" stroke="#e8a92a" stroke-width="0.8"/>
<circle cx="212.07" cy="55.36" r="1.56" fill="#e8a92a" stroke="#e8a92a" stroke-width="0.8"/>
<circle cx="216.64" cy="54.04" r="1.56" fill="#e8a92a" stroke="#e8a92a" stroke-width="0.8"/>
<circle cx="221.21" cy="52.72" r="1.56" fill="#e8a92a" stroke="#e8a92a" stroke-width="0.8"/>
<circle cx="225.78" cy="51.20" r="1.56" fill="#e8a92a" stroke="#e8a92a" stroke-width="0.8"/>
<circle cx="230.35" cy="47.56" r="1.56" fill="#e8a92a" stroke="#e8a92a" stroke-width="0.8"/>
<circle cx="232.87" cy="45.68" r="1.56" fill="#e8a92a" stroke="#e8a92a" stroke-width="0.8"/>
<polyline points="232.87,44.15 228.20,47.74 223.64,50.48 219.07,51.81 214.50,53.13 209.93,54.45 205.36,54.97 200.79,55.41 196.22,55.85 191.65,56.29 187.08,56.73 182.51,57.17 177.94,57.62 173.37,57.90 168.80,58.19 164.24,58.48 159.67,58.76 155.10,59.05 150.53,59.33 145.96,59.62 141.39,59.91 136.82,60.22 132.25,60.57 127.68,60.93 123.11,61.29 118.54,61.64 113.97,62.00 109.40,62.35 104.84,62.71 100.27,63.12 95.70,63.57 91.13,64.02 86.56,64.47 81.99,64.92 77.42,65.37" fill="none" stroke="#e8a92a" stroke-width="0.9" stroke-linejoin="round" />
<circle cx="232.87" cy="44.15" r="1.56" fill="#fff" stroke="#e8a92a" stroke-width="0.8"/>
<circle cx="228.20" cy="47.74" r="1.56" fill="#fff" stroke="#e8a92a" stroke-width="0.8"/>
<circle cx="223.64" cy="50.48" r="1.56" fill="#fff" stroke="#e8a92a" stroke-width="0.8"/>
<circle cx="219.07" cy="51.81" r="1.56" fill="#fff" stroke="#e8a92a" stroke-width="0.8"/>
<circle cx="214.50" cy="53.13" r="1.56" fill="#fff" stroke="#e8a92a" stroke-width="0.8"/>
<circle cx="209.93" cy="54.45" r="1.56" fill="#fff" stroke="#e8a92a" stroke-width="0.8"/>
<circle cx="205.36" cy="54.97" r="1.56" fill="#fff" stroke="#e8a92a" stroke-width="0.8"/>
<circle cx="200.79" cy="55.41" r="1.56" fill="#fff" stroke="#e8a92a" stroke-width="0.8"/>
<circle cx="196.22" cy="55.85" r="1.56" fill="#fff" stroke="#e8a92a" stroke-width="0.8"/>
<circle cx="191.65" cy="56.29" r="1.56" fill="#fff" stroke="#e8a92a" stroke-width="0.8"/>
<circle cx="187.08" cy="56.73" r="1.56" fill="#fff" stroke="#e8a92a" stroke-width="0.8"/>
<circle cx="182.51" cy="57.17" r="1.56" fill="#fff" stroke="#e8a92a" stroke-width="0.8"/>
<circle cx="177.94" cy="57.62" r="1.56" fill="#fff" stroke="#e8a92a" stroke-width="0.8"/>
<circle cx="173.37" cy="57.90" r="1.56" fill="#fff" stroke="#e8a92a" stroke-width="0.8"/>
<circle cx="168.80" cy="58.19" r="1.56" fill="#fff" stroke="#e8a92a" stroke-width="0.8"/>
<circle cx="164.24" cy="58.48" r="1.56" fill="#fff" stroke="#e8a92a" stroke-width="0.8"/>
<circle cx="159.67" cy="58.76" r="1.56" fill="#fff" stroke="#e8a92a" stroke-width="0.8"/>
<circle cx="155.10" cy="59.05" r="1.56" fill="#fff" stroke="#e8a92a" stroke-width="0.8"/>
<circle cx="150.53" cy="59.33" r="1.56" fill="#fff" stroke="#e8a92a" stroke-width="0.8"/>
<circle cx="145.96" cy="59.62" r="1.56" fill="#fff" stroke="#e8a92a" stroke-width="0.8"/>
<circle cx="141.39" cy="59.91" r="1.56" fill="#fff" stroke="#e8a92a" stroke-width="0.8"/>
<circle cx="136.82" cy="60.22" r="1.56" fill="#fff" stroke="#e8a92a" stroke-width="0.8"/>
<circle cx="132.25" cy="60.57" r="1.56" fill="#fff" stroke="#e8a92a" stroke-width="0.8"/>
<circle cx="127.68" cy="60.93" r="1.56" fill="#fff" stroke="#e8a92a" stroke-width="0.8"/>
<circle cx="123.11" cy="61.29" r="1.56" fill="#fff" stroke="#e8a92a" stroke-width="0.8"/>
<circle cx="118.54" cy="61.64" r="1.56" fill="#fff" stroke="#e8a92a" stroke-width="0.8"/>
<circle cx="113.97" cy="62.00" r="1.56" fill="#fff" stroke="#e8a92a" stroke-width="0.8"/>
<circle cx="109.40" cy="62.35" r="1.56" fill="#fff" stroke="#e8a92a" stroke-width="0.8"/>
<circle cx="104.84" cy="62.71" r="1.56" fill="#fff" stroke="#e8a92a" stroke-width="0.8"/>
<circle cx="100.27" cy="63.12" r="1.56" fill="#fff" stroke="#e8a92a" stroke-width="0.8"/>
<circle cx="95.70" cy="63.57" r="1.56" fill="#fff" stroke="#e8a92a" stroke-width="0.8"/>
<circle cx="91.13" cy="64.02" r="1.56" fill="#fff" stroke="#e8a92a" stroke-width="0.8"/>
<circle cx="86.56" cy="64.47" r="1.56" fill="#fff" stroke="#e8a92a" stroke-width="0.8"/>
<circle cx="81.99" cy="64.92" r="1.56" fill="#fff" stroke="#e8a92a" stroke-width="0.8"/>
<circle cx="77.42" cy="65.37" r="1.56" fill="#fff" stroke="#e8a92a" stroke-width="0.8"/>
<polyline points="47.39,111.21 47.51,107.38 47.62,103.55 47.73,99.73 47.84,95.90 47.95,92.07 48.06,88.24 48.18,84.42 48.29,80.59 48.42,79.77 49.54,74.34 51.03,71.40 52.89,69.57 55.69,66.81 58.49,65.73 61.29,64.64 65.86,62.87 70.43,62.24 75.00,61.64 79.56,61.04 84.13,60.44 88.70,60.06 93.27,59.70 97.84,59.34 102.41,58.98 106.98,58.62 111.55,58.26 116.12,57.90 120.69,57.54 125.26,57.18 129.83,56.82 134.40,56.50 138.96,56.20 143.53,55.90 148.10,55.60 152.67,55.30 157.24,55.00 161.81,54.68 166.38,54.35 170.95,54.01 175.52,53.68 180.09,53.35 184.66,53.01 189.23,52.68 193.80,52.34 198.37,52.01 202.93,51.68 207.50,51.34 212.07,50.51 216.64,49.28 221.21,48.04 225.78,46.59 230.35,42.73 232.87,40.78" fill="none" stroke="#1428b4" stroke-width="0.9" stroke-linejoin="round" />
<polygon points="47.39,109.26 45.54,112.38 49.25,112.38" fill="#1428b4" stroke="#1428b4" stroke-width="0.8"/>
<polygon points="47.51,105.43 45.65,108.55 49.36,108.55" fill="#1428b4" stroke="#1428b4" stroke-width="0.8"/>
<polygon points="47.62,101.60 45.76,104.72 49.47,104.72" fill="#1428b4" stroke="#1428b4" stroke-width="0.8"/>
<polygon points="47.73,97.78 45.88,100.90 49.58,100.90" fill="#1428b4" stroke="#1428b4" stroke-width="0.8"/>
<polygon points="47.84,93.95 45.99,97.07 49.69,97.07" fill="#1428b4" stroke="#1428b4" stroke-width="0.8"/>
<polygon points="47.95,90.12 46.10,93.24 49.81,93.24" fill="#1428b4" stroke="#1428b4" stroke-width="0.8"/>
<polygon points="48.06,86.29 46.21,89.41 49.92,89.41" fill="#1428b4" stroke="#1428b4" stroke-width="0.8"/>
<polygon points="48.18,82.47 46.32,85.59 50.03,85.59" fill="#1428b4" stroke="#1428b4" stroke-width="0.8"/>
<polygon points="48.29,78.64 46.44,81.76 50.14,81.76" fill="#1428b4" stroke="#1428b4" stroke-width="0.8"/>
<polygon points="48.42,77.82 46.57,80.94 50.27,80.94" fill="#1428b4" stroke="#1428b4" stroke-width="0.8"/>
<polygon points="49.54,72.39 47.69,75.51 51.39,75.51" fill="#1428b4" stroke="#1428b4" stroke-width="0.8"/>
<polygon points="51.03,69.45 49.18,72.57 52.88,72.57" fill="#1428b4" stroke="#1428b4" stroke-width="0.8"/>
<polygon points="52.89,67.62 51.04,70.74 54.75,70.74" fill="#1428b4" stroke="#1428b4" stroke-width="0.8"/>
<polygon points="55.69,64.86 53.84,67.98 57.54,67.98" fill="#1428b4" stroke="#1428b4" stroke-width="0.8"/>
<polygon points="58.49,63.78 56.64,66.90 60.34,66.90" fill="#1428b4" stroke="#1428b4" stroke-width="0.8"/>
<polygon points="61.29,62.69 59.43,65.81 63.14,65.81" fill="#1428b4" stroke="#1428b4" stroke-width="0.8"/>
<polygon points="65.86,60.92 64.00,64.04 67.71,64.04" fill="#1428b4" stroke="#1428b4" stroke-width="0.8"/>
<polygon points="70.43,60.29 68.57,63.41 72.28,63.41" fill="#1428b4" stroke="#1428b4" stroke-width="0.8"/>
<polygon points="75.00,59.69 73.14,62.81 76.85,62.81" fill="#1428b4" stroke="#1428b4" stroke-width="0.8"/>
<polygon points="79.56,59.09 77.71,62.21 81.42,62.21" fill="#1428b4" stroke="#1428b4" stroke-width="0.8"/>
<polygon points="84.13,58.49 82.28,61.61 85.99,61.61" fill="#1428b4" stroke="#1428b4" stroke-width="0.8"/>
<polygon points="88.70,58.11 86.85,61.23 90.56,61.23" fill="#1428b4" stroke="#1428b4" stroke-width="0.8"/>
<polygon points="93.27,57.75 91.42,60.87 95.12,60.87" fill="#1428b4" stroke="#1428b4" stroke-width="0.8"/>
<polygon points="97.84,57.39 95.99,60.51 99.69,60.51" fill="#1428b4" stroke="#1428b4" stroke-width="0.8"/>
<polygon points="102.41,57.03 100.56,60.15 104.26,60.15" fill="#1428b4" stroke="#1428b4" stroke-width="0.8"/>
<polygon points="106.98,56.67 105.13,59.79 108.83,59.79" fill="#1428b4" stroke="#1428b4" stroke-width="0.8"/>
<polygon points="111.55,56.31 109.70,59.43 113.40,59.43" fill="#1428b4" stroke="#1428b4" stroke-width="0.8"/>
<polygon points="116.12,55.95 114.27,59.07 117.97,59.07" fill="#1428b4" stroke="#1428b4" stroke-width="0.8"/>
<polygon points="120.69,55.59 118.84,58.71 122.54,58.71" fill="#1428b4" stroke="#1428b4" stroke-width="0.8"/>
<polygon points="125.26,55.23 123.40,58.35 127.11,58.35" fill="#1428b4" stroke="#1428b4" stroke-width="0.8"/>
<polygon points="129.83,54.87 127.97,57.99 131.68,57.99" fill="#1428b4" stroke="#1428b4" stroke-width="0.8"/>
<polygon points="134.40,54.55 132.54,57.67 136.25,57.67" fill="#1428b4" stroke="#1428b4" stroke-width="0.8"/>
<polygon points="138.96,54.25 137.11,57.37 140.82,57.37" fill="#1428b4" stroke="#1428b4" stroke-width="0.8"/>
<polygon points="143.53,53.95 141.68,57.07 145.39,57.07" fill="#1428b4" stroke="#1428b4" stroke-width="0.8"/>
<polygon points="148.10,53.65 146.25,56.77 149.96,56.77" fill="#1428b4" stroke="#1428b4" stroke-width="0.8"/>
<polygon points="152.67,53.35 150.82,56.47 154.52,56.47" fill="#1428b4" stroke="#1428b4" stroke-width="0.8"/>
<polygon points="157.24,53.05 155.39,56.17 159.09,56.17" fill="#1428b4" stroke="#1428b4" stroke-width="0.8"/>
<polygon points="161.81,52.73 159.96,55.85 163.66,55.85" fill="#1428b4" stroke="#1428b4" stroke-width="0.8"/>
<polygon points="166.38,52.40 164.53,55.52 168.23,55.52" fill="#1428b4" stroke="#1428b4" stroke-width="0.8"/>
<polygon points="170.95,52.06 169.10,55.18 172.80,55.18" fill="#1428b4" stroke="#1428b4" stroke-width="0.8"/>
<polygon points="175.52,51.73 173.67,54.85 177.37,54.85" fill="#1428b4" stroke="#1428b4" stroke-width="0.8"/>
<polygon points="180.09,51.40 178.24,54.52 181.94,54.52" fill="#1428b4" stroke="#1428b4" stroke-width="0.8"/>
<polygon points="184.66,51.06 182.80,54.18 186.51,54.18" fill="#1428b4" stroke="#1428b4" stroke-width="0.8"/>
<polygon points="189.23,50.73 187.37,53.85 191.08,53.85" fill="#1428b4" stroke="#1428b4" stroke-width="0.8"/>
<polygon points="193.80,50.39 191.94,53.51 195.65,53.51" fill="#1428b4" stroke="#1428b4" stroke-width="0.8"/>
<polygon points="198.37,50.06 196.51,53.18 200.22,53.18" fill="#1428b4" stroke="#1428b4" stroke-width="0.8"/>
<polygon points="202.93,49.73 201.08,52.85 204.79,52.85" fill="#1428b4" stroke="#1428b4" stroke-width="0.8"/>
<polygon points="207.50,49.39 205.65,52.51 209.36,52.51" fill="#1428b4" stroke="#1428b4" stroke-width="0.8"/>
<polygon points="212.07,48.56 210.22,51.68 213.93,51.68" fill="#1428b4" stroke="#1428b4" stroke-width="0.8"/>
<polygon points="216.64,47.33 214.79,50.45 218.49,50.45" fill="#1428b4" stroke="#1428b4" stroke-width="0.8"/>
<polygon points="221.21,46.09 219.36,49.21 223.06,49.21" fill="#1428b4" stroke="#1428b4" stroke-width="0.8"/>
<polygon points="225.78,44.64 223.93,47.76 227.63,47.76" fill="#1428b4" stroke="#1428b4" stroke-width="0.8"/>
<polygon points="230.35,40.78 228.50,43.90 232.20,43.90" fill="#1428b4" stroke="#1428b4" stroke-width="0.8"/>
<polygon points="232.87,38.83 231.02,41.95 234.72,41.95" fill="#1428b4" stroke="#1428b4" stroke-width="0.8"/>
<polyline points="232.87,39.25 228.20,43.01 223.64,45.86 219.07,47.09 214.50,48.33 209.93,49.56 205.36,49.97 200.79,50.30 196.22,50.64 191.65,50.97 187.08,51.30 182.51,51.64 177.94,51.97 173.37,52.30 168.80,52.64 164.24,52.97 159.67,53.30 155.10,53.61 150.53,53.91 145.96,54.21 141.39,54.51 136.82,54.81 132.25,55.11 127.68,55.45 123.11,55.81 118.54,56.17 113.97,56.53 109.40,56.90 104.84,57.26 100.27,57.62 95.70,57.98 91.13,58.34 86.56,58.70 81.99,59.19 77.42,59.79 72.85,60.39 68.28,60.99 63.71,62.17" fill="none" stroke="#1428b4" stroke-width="0.9" stroke-linejoin="round" />
<polygon points="232.87,37.30 231.02,40.42 234.72,40.42" fill="#fff" stroke="#1428b4" stroke-width="0.8"/>
<polygon points="228.20,41.06 226.35,44.18 230.06,44.18" fill="#fff" stroke="#1428b4" stroke-width="0.8"/>
<polygon points="223.64,43.91 221.78,47.03 225.49,47.03" fill="#fff" stroke="#1428b4" stroke-width="0.8"/>
<polygon points="219.07,45.14 217.21,48.26 220.92,48.26" fill="#fff" stroke="#1428b4" stroke-width="0.8"/>
<polygon points="214.50,46.38 212.64,49.50 216.35,49.50" fill="#fff" stroke="#1428b4" stroke-width="0.8"/>
<polygon points="209.93,47.61 208.08,50.73 211.78,50.73" fill="#fff" stroke="#1428b4" stroke-width="0.8"/>
<polygon points="205.36,48.02 203.51,51.14 207.21,51.14" fill="#fff" stroke="#1428b4" stroke-width="0.8"/>
<polygon points="200.79,48.35 198.94,51.47 202.64,51.47" fill="#fff" stroke="#1428b4" stroke-width="0.8"/>
<polygon points="196.22,48.69 194.37,51.81 198.07,51.81" fill="#fff" stroke="#1428b4" stroke-width="0.8"/>
<polygon points="191.65,49.02 189.80,52.14 193.50,52.14" fill="#fff" stroke="#1428b4" stroke-width="0.8"/>
<polygon points="187.08,49.35 185.23,52.47 188.93,52.47" fill="#fff" stroke="#1428b4" stroke-width="0.8"/>
<polygon points="182.51,49.69 180.66,52.81 184.36,52.81" fill="#fff" stroke="#1428b4" stroke-width="0.8"/>
<polygon points="177.94,50.02 176.09,53.14 179.80,53.14" fill="#fff" stroke="#1428b4" stroke-width="0.8"/>
<polygon points="173.37,50.35 171.52,53.47 175.23,53.47" fill="#fff" stroke="#1428b4" stroke-width="0.8"/>
<polygon points="168.80,50.69 166.95,53.81 170.66,53.81" fill="#fff" stroke="#1428b4" stroke-width="0.8"/>
<polygon points="164.24,51.02 162.38,54.14 166.09,54.14" fill="#fff" stroke="#1428b4" stroke-width="0.8"/>
<polygon points="159.67,51.35 157.81,54.47 161.52,54.47" fill="#fff" stroke="#1428b4" stroke-width="0.8"/>
<polygon points="155.10,51.66 153.24,54.78 156.95,54.78" fill="#fff" stroke="#1428b4" stroke-width="0.8"/>
<polygon points="150.53,51.96 148.68,55.08 152.38,55.08" fill="#fff" stroke="#1428b4" stroke-width="0.8"/>
<polygon points="145.96,52.26 144.11,55.38 147.81,55.38" fill="#fff" stroke="#1428b4" stroke-width="0.8"/>
<polygon points="141.39,52.56 139.54,55.68 143.24,55.68" fill="#fff" stroke="#1428b4" stroke-width="0.8"/>
<polygon points="136.82,52.86 134.97,55.98 138.67,55.98" fill="#fff" stroke="#1428b4" stroke-width="0.8"/>
<polygon points="132.25,53.16 130.40,56.28 134.10,56.28" fill="#fff" stroke="#1428b4" stroke-width="0.8"/>
<polygon points="127.68,53.50 125.83,56.62 129.53,56.62" fill="#fff" stroke="#1428b4" stroke-width="0.8"/>
<polygon points="123.11,53.86 121.26,56.98 124.96,56.98" fill="#fff" stroke="#1428b4" stroke-width="0.8"/>
<polygon points="118.54,54.22 116.69,57.34 120.40,57.34" fill="#fff" stroke="#1428b4" stroke-width="0.8"/>
<polygon points="113.97,54.58 112.12,57.70 115.83,57.70" fill="#fff" stroke="#1428b4" stroke-width="0.8"/>
<polygon points="109.40,54.95 107.55,58.07 111.26,58.07" fill="#fff" stroke="#1428b4" stroke-width="0.8"/>
<polygon points="104.84,55.31 102.98,58.43 106.69,58.43" fill="#fff" stroke="#1428b4" stroke-width="0.8"/>
<polygon points="100.27,55.67 98.41,58.79 102.12,58.79" fill="#fff" stroke="#1428b4" stroke-width="0.8"/>
<polygon points="95.70,56.03 93.84,59.15 97.55,59.15" fill="#fff" stroke="#1428b4" stroke-width="0.8"/>
<polygon points="91.13,56.39 89.27,59.51 92.98,59.51" fill="#fff" stroke="#1428b4" stroke-width="0.8"/>
<polygon points="86.56,56.75 84.71,59.87 88.41,59.87" fill="#fff" stroke="#1428b4" stroke-width="0.8"/>
<polygon points="81.99,57.24 80.14,60.36 83.84,60.36" fill="#fff" stroke="#1428b4" stroke-width="0.8"/>
<polygon points="77.42,57.84 75.57,60.96 79.27,60.96" fill="#fff" stroke="#1428b4" stroke-width="0.8"/>
<polygon points="72.85,58.44 71.00,61.56 74.70,61.56" fill="#fff" stroke="#1428b4" stroke-width="0.8"/>
<polygon points="68.28,59.04 66.43,62.16 70.13,62.16" fill="#fff" stroke="#1428b4" stroke-width="0.8"/>
<polygon points="63.71,60.22 61.86,63.34 65.56,63.34" fill="#fff" stroke="#1428b4" stroke-width="0.8"/>
</g>
<line x1="157.10" y1="144.80" x2="166.00" y2="144.80" stroke="#1428b4" stroke-width="1.1"/>
<polygon points="161.55,143.40 160.22,145.64 162.88,145.64" fill="#1428b4" stroke="#1428b4" stroke-width="0.8"/>
<text x="167.90" y="148.90" font-size="12.0" text-anchor="start" font-weight="normal" fill="#1e1e1e" >0h</text>
<line x1="190.00" y1="144.80" x2="198.90" y2="144.80" stroke="#e8a92a" stroke-width="1.1"/>
<circle cx="194.45" cy="144.80" r="1.12" fill="#e8a92a" stroke="#e8a92a" stroke-width="0.8"/>
<text x="201.10" y="148.90" font-size="12.0" text-anchor="start" font-weight="normal" fill="#1e1e1e" >1h</text>
<line x1="157.10" y1="158.60" x2="166.00" y2="158.60" stroke="#c4121c" stroke-width="1.1"/>
<polygon points="160.15,158.60 162.39,157.27 162.39,159.93" fill="#c4121c" stroke="#c4121c" stroke-width="0.8"/>
<text x="167.90" y="162.40" font-size="12.0" text-anchor="start" font-weight="normal" fill="#1e1e1e" >5h</text>
<line x1="190.00" y1="158.60" x2="198.90" y2="158.60" stroke="#3c3c3c" stroke-width="1.1"/>
<polygon points="194.45,157.20 195.57,158.60 194.45,160.00 193.33,158.60" fill="#3c3c3c" stroke="#3c3c3c" stroke-width="0.8"/>
<text x="201.10" y="162.40" font-size="12.0" text-anchor="start" font-weight="normal" fill="#1e1e1e" >20h</text>
<text x="56.80" y="38.30" font-size="13.5" text-anchor="start" font-weight="normal" fill="#1e1e1e" >10%</text>
<text x="46.80" y="11.60" font-size="15.0" text-anchor="start" font-weight="bold" fill="#000" >a</text>
<text x="0" y="0" font-size="15.15" text-anchor="middle" fill="#1e1e1e" transform="translate(11.8,96.2) rotate(-90)">Volume Adsorbed (cm<tspan font-size="9.6" dy="-5.6">3</tspan><tspan dy="5.6"> g</tspan><tspan font-size="9.6" dy="-5.6">-1</tspan><tspan dy="5.6">)</tspan></text>
<text x="140.05" y="203.25" font-size="15" text-anchor="middle" fill="#1e1e1e">P / P<tspan font-size="9" dy="5.2">0</tspan></text>
<rect x="47.5" y="224.5" width="186.5" height="153.0" fill="none" stroke="#000" stroke-width="1.3"/>
<line x1="47.50" y1="377.5" x2="47.50" y2="380.1" stroke="#000" stroke-width="1.105"/>
<line x1="84.80" y1="377.5" x2="84.80" y2="380.1" stroke="#000" stroke-width="1.105"/>
<line x1="122.10" y1="377.5" x2="122.10" y2="380.1" stroke="#000" stroke-width="1.105"/>
<line x1="159.40" y1="377.5" x2="159.40" y2="380.1" stroke="#000" stroke-width="1.105"/>
<line x1="196.70" y1="377.5" x2="196.70" y2="380.1" stroke="#000" stroke-width="1.105"/>
<line x1="234.00" y1="377.5" x2="234.00" y2="380.1" stroke="#000" stroke-width="1.105"/>
<line x1="66.15" y1="377.5" x2="66.15" y2="379.0" stroke="#000" stroke-width="1.105"/>
<line x1="103.45" y1="377.5" x2="103.45" y2="379.0" stroke="#000" stroke-width="1.105"/>
<line x1="140.75" y1="377.5" x2="140.75" y2="379.0" stroke="#000" stroke-width="1.105"/>
<line x1="178.05" y1="377.5" x2="178.05" y2="379.0" stroke="#000" stroke-width="1.105"/>
<line x1="215.35" y1="377.5" x2="215.35" y2="379.0" stroke="#000" stroke-width="1.105"/>
<line x1="44.9" y1="377.50" x2="47.5" y2="377.50" stroke="#000" stroke-width="1.105"/>
<line x1="44.9" y1="339.25" x2="47.5" y2="339.25" stroke="#000" stroke-width="1.105"/>
<line x1="44.9" y1="301.00" x2="47.5" y2="301.00" stroke="#000" stroke-width="1.105"/>
<line x1="44.9" y1="262.75" x2="47.5" y2="262.75" stroke="#000" stroke-width="1.105"/>
<line x1="44.9" y1="224.50" x2="47.5" y2="224.50" stroke="#000" stroke-width="1.105"/>
<line x1="46.0" y1="358.38" x2="47.5" y2="358.38" stroke="#000" stroke-width="1.105"/>
<line x1="46.0" y1="320.12" x2="47.5" y2="320.12" stroke="#000" stroke-width="1.105"/>
<line x1="46.0" y1="281.88" x2="47.5" y2="281.88" stroke="#000" stroke-width="1.105"/>
<line x1="46.0" y1="243.62" x2="47.5" y2="243.62" stroke="#000" stroke-width="1.105"/>
<text x="47.50" y="392.15" font-size="13.2" text-anchor="middle" font-weight="normal" fill="#1e1e1e" >0.0</text>
<text x="84.80" y="392.15" font-size="13.2" text-anchor="middle" font-weight="normal" fill="#1e1e1e" >0.2</text>
<text x="122.10" y="392.15" font-size="13.2" text-anchor="middle" font-weight="normal" fill="#1e1e1e" >0.4</text>
<text x="159.40" y="392.15" font-size="13.2" text-anchor="middle" font-weight="normal" fill="#1e1e1e" >0.6</text>
<text x="196.70" y="392.15" font-size="13.2" text-anchor="middle" font-weight="normal" fill="#1e1e1e" >0.8</text>
<text x="234.00" y="392.15" font-size="13.2" text-anchor="middle" font-weight="normal" fill="#1e1e1e" >1.0</text>
<text x="42.90" y="381.66" font-size="13.2" text-anchor="end" font-weight="normal" fill="#1e1e1e" >100</text>
<text x="42.90" y="343.41" font-size="13.2" text-anchor="end" font-weight="normal" fill="#1e1e1e" >200</text>
<text x="42.90" y="305.16" font-size="13.2" text-anchor="end" font-weight="normal" fill="#1e1e1e" >300</text>
<text x="42.90" y="266.91" font-size="13.2" text-anchor="end" font-weight="normal" fill="#1e1e1e" >400</text>
<text x="42.90" y="228.66" font-size="13.2" text-anchor="end" font-weight="normal" fill="#1e1e1e" >500</text>
<clipPath id="clipd"><rect x="44.5" y="220.5" width="192.5" height="160.0"/></clipPath>
<g clip-path="url(#clipd)">
<polyline points="47.59,377.50 47.71,370.33 47.82,363.16 47.93,355.98 48.04,348.81 48.15,341.64 48.26,334.47 48.38,327.30 48.49,320.12 48.62,319.82 49.74,315.79 51.23,313.24 53.09,312.28 55.89,310.85 58.69,309.42 61.49,308.61 66.06,307.30 70.63,306.00 75.20,304.69 79.76,303.38 84.33,302.11 88.90,301.48 93.47,300.85 98.04,300.22 102.61,299.59 107.18,298.96 111.75,298.29 116.32,297.59 120.89,296.88 125.46,296.18 130.03,295.48 134.60,294.94 139.16,294.47 143.73,294.00 148.30,293.29 152.87,292.27 157.44,291.24 162.01,290.58 166.58,290.00 171.15,289.43 175.72,288.57 180.29,287.44 184.86,286.32 189.43,285.20 194.00,284.07 198.56,282.95 203.13,281.82 207.70,280.70 212.27,279.57 216.84,277.95 221.41,275.29 225.98,272.64 230.55,266.83 233.07,263.71" fill="none" stroke="#3c3c3c" stroke-width="0.9" stroke-linejoin="round" />
<polygon points="47.59,375.55 49.15,377.50 47.59,379.45 46.03,377.50" fill="#3c3c3c" stroke="#3c3c3c" stroke-width="0.8"/>
<polygon points="47.71,368.38 49.27,370.33 47.71,372.28 46.15,370.33" fill="#3c3c3c" stroke="#3c3c3c" stroke-width="0.8"/>
<polygon points="47.82,361.21 49.38,363.16 47.82,365.11 46.26,363.16" fill="#3c3c3c" stroke="#3c3c3c" stroke-width="0.8"/>
<polygon points="47.93,354.03 49.49,355.98 47.93,357.93 46.37,355.98" fill="#3c3c3c" stroke="#3c3c3c" stroke-width="0.8"/>
<polygon points="48.04,346.86 49.60,348.81 48.04,350.76 46.48,348.81" fill="#3c3c3c" stroke="#3c3c3c" stroke-width="0.8"/>
<polygon points="48.15,339.69 49.71,341.64 48.15,343.59 46.59,341.64" fill="#3c3c3c" stroke="#3c3c3c" stroke-width="0.8"/>
<polygon points="48.26,332.52 49.82,334.47 48.26,336.42 46.70,334.47" fill="#3c3c3c" stroke="#3c3c3c" stroke-width="0.8"/>
<polygon points="48.38,325.35 49.94,327.30 48.38,329.25 46.82,327.30" fill="#3c3c3c" stroke="#3c3c3c" stroke-width="0.8"/>
<polygon points="48.49,318.18 50.05,320.12 48.49,322.07 46.93,320.12" fill="#3c3c3c" stroke="#3c3c3c" stroke-width="0.8"/>
<polygon points="48.62,317.87 50.18,319.82 48.62,321.77 47.06,319.82" fill="#3c3c3c" stroke="#3c3c3c" stroke-width="0.8"/>
<polygon points="49.74,313.84 51.30,315.79 49.74,317.74 48.18,315.79" fill="#3c3c3c" stroke="#3c3c3c" stroke-width="0.8"/>
<polygon points="51.23,311.29 52.79,313.24 51.23,315.19 49.67,313.24" fill="#3c3c3c" stroke="#3c3c3c" stroke-width="0.8"/>
<polygon points="53.09,310.33 54.66,312.28 53.09,314.23 51.53,312.28" fill="#3c3c3c" stroke="#3c3c3c" stroke-width="0.8"/>
<polygon points="55.89,308.90 57.45,310.85 55.89,312.80 54.33,310.85" fill="#3c3c3c" stroke="#3c3c3c" stroke-width="0.8"/>
<polygon points="58.69,307.47 60.25,309.42 58.69,311.37 57.13,309.42" fill="#3c3c3c" stroke="#3c3c3c" stroke-width="0.8"/>
<polygon points="61.49,306.66 63.05,308.61 61.49,310.56 59.93,308.61" fill="#3c3c3c" stroke="#3c3c3c" stroke-width="0.8"/>
<polygon points="66.06,305.35 67.62,307.30 66.06,309.25 64.50,307.30" fill="#3c3c3c" stroke="#3c3c3c" stroke-width="0.8"/>
<polygon points="70.63,304.05 72.19,306.00 70.63,307.94 69.07,306.00" fill="#3c3c3c" stroke="#3c3c3c" stroke-width="0.8"/>
<polygon points="75.20,302.74 76.76,304.69 75.20,306.64 73.64,304.69" fill="#3c3c3c" stroke="#3c3c3c" stroke-width="0.8"/>
<polygon points="79.76,301.43 81.32,303.38 79.76,305.33 78.20,303.38" fill="#3c3c3c" stroke="#3c3c3c" stroke-width="0.8"/>
<polygon points="84.33,300.16 85.89,302.11 84.33,304.06 82.77,302.11" fill="#3c3c3c" stroke="#3c3c3c" stroke-width="0.8"/>
<polygon points="88.90,299.53 90.46,301.48 88.90,303.43 87.34,301.48" fill="#3c3c3c" stroke="#3c3c3c" stroke-width="0.8"/>
<polygon points="93.47,298.90 95.03,300.85 93.47,302.80 91.91,300.85" fill="#3c3c3c" stroke="#3c3c3c" stroke-width="0.8"/>
<polygon points="98.04,298.27 99.60,300.22 98.04,302.17 96.48,300.22" fill="#3c3c3c" stroke="#3c3c3c" stroke-width="0.8"/>
<polygon points="102.61,297.64 104.17,299.59 102.61,301.54 101.05,299.59" fill="#3c3c3c" stroke="#3c3c3c" stroke-width="0.8"/>
<polygon points="107.18,297.01 108.74,298.96 107.18,300.91 105.62,298.96" fill="#3c3c3c" stroke="#3c3c3c" stroke-width="0.8"/>
<polygon points="111.75,296.34 113.31,298.29 111.75,300.24 110.19,298.29" fill="#3c3c3c" stroke="#3c3c3c" stroke-width="0.8"/>
<polygon points="116.32,295.64 117.88,297.59 116.32,299.54 114.76,297.59" fill="#3c3c3c" stroke="#3c3c3c" stroke-width="0.8"/>
<polygon points="120.89,294.93 122.45,296.88 120.89,298.83 119.33,296.88" fill="#3c3c3c" stroke="#3c3c3c" stroke-width="0.8"/>
<polygon points="125.46,294.23 127.02,296.18 125.46,298.13 123.90,296.18" fill="#3c3c3c" stroke="#3c3c3c" stroke-width="0.8"/>
<polygon points="130.03,293.53 131.59,295.48 130.03,297.43 128.47,295.48" fill="#3c3c3c" stroke="#3c3c3c" stroke-width="0.8"/>
<polygon points="134.60,292.99 136.16,294.94 134.60,296.89 133.04,294.94" fill="#3c3c3c" stroke="#3c3c3c" stroke-width="0.8"/>
<polygon points="139.16,292.52 140.72,294.47 139.16,296.42 137.60,294.47" fill="#3c3c3c" stroke="#3c3c3c" stroke-width="0.8"/>
<polygon points="143.73,292.05 145.29,294.00 143.73,295.95 142.17,294.00" fill="#3c3c3c" stroke="#3c3c3c" stroke-width="0.8"/>
<polygon points="148.30,291.34 149.86,293.29 148.30,295.24 146.74,293.29" fill="#3c3c3c" stroke="#3c3c3c" stroke-width="0.8"/>
<polygon points="152.87,290.32 154.43,292.27 152.87,294.22 151.31,292.27" fill="#3c3c3c" stroke="#3c3c3c" stroke-width="0.8"/>
<polygon points="157.44,289.29 159.00,291.24 157.44,293.19 155.88,291.24" fill="#3c3c3c" stroke="#3c3c3c" stroke-width="0.8"/>
<polygon points="162.01,288.63 163.57,290.58 162.01,292.53 160.45,290.58" fill="#3c3c3c" stroke="#3c3c3c" stroke-width="0.8"/>
<polygon points="166.58,288.05 168.14,290.00 166.58,291.95 165.02,290.00" fill="#3c3c3c" stroke="#3c3c3c" stroke-width="0.8"/>
<polygon points="171.15,287.48 172.71,289.43 171.15,291.38 169.59,289.43" fill="#3c3c3c" stroke="#3c3c3c" stroke-width="0.8"/>
<polygon points="175.72,286.62 177.28,288.57 175.72,290.52 174.16,288.57" fill="#3c3c3c" stroke="#3c3c3c" stroke-width="0.8"/>
<polygon points="180.29,285.49 181.85,287.44 180.29,289.39 178.73,287.44" fill="#3c3c3c" stroke="#3c3c3c" stroke-width="0.8"/>
<polygon points="184.86,284.37 186.42,286.32 184.86,288.27 183.30,286.32" fill="#3c3c3c" stroke="#3c3c3c" stroke-width="0.8"/>
<polygon points="189.43,283.25 190.99,285.20 189.43,287.15 187.87,285.20" fill="#3c3c3c" stroke="#3c3c3c" stroke-width="0.8"/>
<polygon points="194.00,282.12 195.56,284.07 194.00,286.02 192.44,284.07" fill="#3c3c3c" stroke="#3c3c3c" stroke-width="0.8"/>
<polygon points="198.56,281.00 200.12,282.95 198.56,284.90 197.00,282.95" fill="#3c3c3c" stroke="#3c3c3c" stroke-width="0.8"/>
<polygon points="203.13,279.87 204.69,281.82 203.13,283.77 201.57,281.82" fill="#3c3c3c" stroke="#3c3c3c" stroke-width="0.8"/>
<polygon points="207.70,278.75 209.26,280.70 207.70,282.65 206.14,280.70" fill="#3c3c3c" stroke="#3c3c3c" stroke-width="0.8"/>
<polygon points="212.27,277.62 213.83,279.57 212.27,281.52 210.71,279.57" fill="#3c3c3c" stroke="#3c3c3c" stroke-width="0.8"/>
<polygon points="216.84,276.00 218.40,277.95 216.84,279.90 215.28,277.95" fill="#3c3c3c" stroke="#3c3c3c" stroke-width="0.8"/>
<polygon points="221.41,273.34 222.97,275.29 221.41,277.24 219.85,275.29" fill="#3c3c3c" stroke="#3c3c3c" stroke-width="0.8"/>
<polygon points="225.98,270.69 227.54,272.64 225.98,274.59 224.42,272.64" fill="#3c3c3c" stroke="#3c3c3c" stroke-width="0.8"/>
<polygon points="230.55,264.88 232.11,266.83 230.55,268.78 228.99,266.83" fill="#3c3c3c" stroke="#3c3c3c" stroke-width="0.8"/>
<polygon points="233.07,261.76 234.63,263.71 233.07,265.66 231.51,263.71" fill="#3c3c3c" stroke="#3c3c3c" stroke-width="0.8"/>
<polyline points="233.07,261.60 228.41,263.66 223.84,265.88 219.27,268.11 214.70,270.15 210.13,271.06 205.56,271.98 200.99,272.90 196.42,273.81 191.85,274.73 187.28,275.65 182.71,276.56 178.14,277.48 173.57,278.40 169.00,278.88 164.44,279.34 159.87,279.80 155.30,280.62 150.73,281.63 146.16,282.64 141.59,283.74 137.02,284.85 132.45,288.04 127.88,295.72 123.31,296.66 118.74,297.31 114.17,297.97 109.60,298.62 105.04,299.26 100.47,299.89 95.90,300.52 91.33,301.15 86.76,301.77" fill="none" stroke="#3c3c3c" stroke-width="0.9" stroke-linejoin="round" />
<polygon points="233.07,259.65 234.63,261.60 233.07,263.55 231.51,261.60" fill="#fff" stroke="#3c3c3c" stroke-width="0.8"/>
<polygon points="228.41,261.71 229.97,263.66 228.41,265.61 226.84,263.66" fill="#fff" stroke="#3c3c3c" stroke-width="0.8"/>
<polygon points="223.84,263.93 225.40,265.88 223.84,267.83 222.28,265.88" fill="#fff" stroke="#3c3c3c" stroke-width="0.8"/>
<polygon points="219.27,266.16 220.83,268.11 219.27,270.06 217.71,268.11" fill="#fff" stroke="#3c3c3c" stroke-width="0.8"/>
<polygon points="214.70,268.20 216.26,270.15 214.70,272.10 213.14,270.15" fill="#fff" stroke="#3c3c3c" stroke-width="0.8"/>
<polygon points="210.13,269.11 211.69,271.06 210.13,273.01 208.57,271.06" fill="#fff" stroke="#3c3c3c" stroke-width="0.8"/>
<polygon points="205.56,270.03 207.12,271.98 205.56,273.93 204.00,271.98" fill="#fff" stroke="#3c3c3c" stroke-width="0.8"/>
<polygon points="200.99,270.95 202.55,272.90 200.99,274.85 199.43,272.90" fill="#fff" stroke="#3c3c3c" stroke-width="0.8"/>
<polygon points="196.42,271.86 197.98,273.81 196.42,275.76 194.86,273.81" fill="#fff" stroke="#3c3c3c" stroke-width="0.8"/>
<polygon points="191.85,272.78 193.41,274.73 191.85,276.68 190.29,274.73" fill="#fff" stroke="#3c3c3c" stroke-width="0.8"/>
<polygon points="187.28,273.70 188.84,275.65 187.28,277.60 185.72,275.65" fill="#fff" stroke="#3c3c3c" stroke-width="0.8"/>
<polygon points="182.71,274.61 184.27,276.56 182.71,278.51 181.15,276.56" fill="#fff" stroke="#3c3c3c" stroke-width="0.8"/>
<polygon points="178.14,275.53 179.70,277.48 178.14,279.43 176.58,277.48" fill="#fff" stroke="#3c3c3c" stroke-width="0.8"/>
<polygon points="173.57,276.45 175.13,278.40 173.57,280.35 172.01,278.40" fill="#fff" stroke="#3c3c3c" stroke-width="0.8"/>
<polygon points="169.00,276.93 170.56,278.88 169.00,280.83 167.44,278.88" fill="#fff" stroke="#3c3c3c" stroke-width="0.8"/>
<polygon points="164.44,277.39 166.00,279.34 164.44,281.29 162.88,279.34" fill="#fff" stroke="#3c3c3c" stroke-width="0.8"/>
<polygon points="159.87,277.85 161.43,279.80 159.87,281.75 158.31,279.80" fill="#fff" stroke="#3c3c3c" stroke-width="0.8"/>
<polygon points="155.30,278.67 156.86,280.62 155.30,282.57 153.74,280.62" fill="#fff" stroke="#3c3c3c" stroke-width="0.8"/>
<polygon points="150.73,279.68 152.29,281.63 150.73,283.58 149.17,281.63" fill="#fff" stroke="#3c3c3c" stroke-width="0.8"/>
<polygon points="146.16,280.69 147.72,282.64 146.16,284.59 144.60,282.64" fill="#fff" stroke="#3c3c3c" stroke-width="0.8"/>
<polygon points="141.59,281.79 143.15,283.74 141.59,285.69 140.03,283.74" fill="#fff" stroke="#3c3c3c" stroke-width="0.8"/>
<polygon points="137.02,282.90 138.58,284.85 137.02,286.80 135.46,284.85" fill="#fff" stroke="#3c3c3c" stroke-width="0.8"/>
<polygon points="132.45,286.09 134.01,288.04 132.45,289.99 130.89,288.04" fill="#fff" stroke="#3c3c3c" stroke-width="0.8"/>
<polygon points="127.88,293.77 129.44,295.72 127.88,297.67 126.32,295.72" fill="#fff" stroke="#3c3c3c" stroke-width="0.8"/>
<polygon points="123.31,294.71 124.87,296.66 123.31,298.61 121.75,296.66" fill="#fff" stroke="#3c3c3c" stroke-width="0.8"/>
<polygon points="118.74,295.36 120.30,297.31 118.74,299.26 117.18,297.31" fill="#fff" stroke="#3c3c3c" stroke-width="0.8"/>
<polygon points="114.17,296.02 115.73,297.97 114.17,299.92 112.61,297.97" fill="#fff" stroke="#3c3c3c" stroke-width="0.8"/>
<polygon points="109.60,296.67 111.16,298.62 109.60,300.57 108.04,298.62" fill="#fff" stroke="#3c3c3c" stroke-width="0.8"/>
<polygon points="105.04,297.31 106.60,299.26 105.04,301.21 103.48,299.26" fill="#fff" stroke="#3c3c3c" stroke-width="0.8"/>
<polygon points="100.47,297.94 102.03,299.89 100.47,301.84 98.91,299.89" fill="#fff" stroke="#3c3c3c" stroke-width="0.8"/>
<polygon points="95.90,298.57 97.46,300.52 95.90,302.47 94.34,300.52" fill="#fff" stroke="#3c3c3c" stroke-width="0.8"/>
<polygon points="91.33,299.20 92.89,301.15 91.33,303.10 89.77,301.15" fill="#fff" stroke="#3c3c3c" stroke-width="0.8"/>
<polygon points="86.76,299.82 88.32,301.77 86.76,303.72 85.20,301.77" fill="#fff" stroke="#3c3c3c" stroke-width="0.8"/>
<polyline points="47.59,377.50 47.71,368.89 47.82,360.29 47.93,351.68 48.04,343.07 48.15,334.47 48.26,325.86 48.38,317.26 48.49,308.65 48.62,311.56 49.74,305.26 51.23,302.44 53.09,300.75 55.89,298.19 58.69,295.64 61.49,294.50 66.06,292.62 70.63,291.94 75.20,291.29 79.76,290.63 84.33,289.97 88.90,289.58 93.47,289.22 98.04,288.86 102.61,288.50 107.18,288.14 111.75,287.81 116.32,287.49 120.89,287.16 125.46,286.84 130.03,286.52 134.60,286.16 139.16,285.79 143.73,285.42 148.30,285.05 152.87,284.68 157.44,284.31 162.01,283.94 166.58,283.57 171.15,283.20 175.72,282.60 180.29,281.78 184.86,280.95 189.43,280.13 194.00,279.30 198.56,278.28 203.13,276.97 207.70,275.66 212.27,274.34 216.84,272.44 221.41,269.32 225.98,266.19 230.55,259.78 233.07,256.25" fill="none" stroke="#c4121c" stroke-width="0.9" stroke-linejoin="round" />
<polygon points="45.64,377.50 48.76,375.65 48.76,379.35" fill="#c4121c" stroke="#c4121c" stroke-width="0.8"/>
<polygon points="45.76,368.89 48.88,367.04 48.88,370.75" fill="#c4121c" stroke="#c4121c" stroke-width="0.8"/>
<polygon points="45.87,360.29 48.99,358.44 48.99,362.14" fill="#c4121c" stroke="#c4121c" stroke-width="0.8"/>
<polygon points="45.98,351.68 49.10,349.83 49.10,353.53" fill="#c4121c" stroke="#c4121c" stroke-width="0.8"/>
<polygon points="46.09,343.07 49.21,341.22 49.21,344.93" fill="#c4121c" stroke="#c4121c" stroke-width="0.8"/>
<polygon points="46.20,334.47 49.32,332.62 49.32,336.32" fill="#c4121c" stroke="#c4121c" stroke-width="0.8"/>
<polygon points="46.31,325.86 49.43,324.01 49.43,327.72" fill="#c4121c" stroke="#c4121c" stroke-width="0.8"/>
<polygon points="46.43,317.26 49.55,315.40 49.55,319.11" fill="#c4121c" stroke="#c4121c" stroke-width="0.8"/>
<polygon points="46.54,308.65 49.66,306.80 49.66,310.50" fill="#c4121c" stroke="#c4121c" stroke-width="0.8"/>
<polygon points="46.67,311.56 49.79,309.70 49.79,313.41" fill="#c4121c" stroke="#c4121c" stroke-width="0.8"/>
<polygon points="47.79,305.26 50.91,303.41 50.91,307.11" fill="#c4121c" stroke="#c4121c" stroke-width="0.8"/>
<polygon points="49.28,302.44 52.40,300.59 52.40,304.30" fill="#c4121c" stroke="#c4121c" stroke-width="0.8"/>
<polygon points="51.14,300.75 54.27,298.89 54.27,302.60" fill="#c4121c" stroke="#c4121c" stroke-width="0.8"/>
<polygon points="53.94,298.19 57.06,296.34 57.06,300.05" fill="#c4121c" stroke="#c4121c" stroke-width="0.8"/>
<polygon points="56.74,295.64 59.86,293.79 59.86,297.50" fill="#c4121c" stroke="#c4121c" stroke-width="0.8"/>
<polygon points="59.54,294.50 62.66,292.64 62.66,296.35" fill="#c4121c" stroke="#c4121c" stroke-width="0.8"/>
<polygon points="64.11,292.62 67.23,290.77 67.23,294.48" fill="#c4121c" stroke="#c4121c" stroke-width="0.8"/>
<polygon points="68.68,291.94 71.80,290.09 71.80,293.79" fill="#c4121c" stroke="#c4121c" stroke-width="0.8"/>
<polygon points="73.25,291.29 76.37,289.43 76.37,293.14" fill="#c4121c" stroke="#c4121c" stroke-width="0.8"/>
<polygon points="77.81,290.63 80.93,288.78 80.93,292.48" fill="#c4121c" stroke="#c4121c" stroke-width="0.8"/>
<polygon points="82.38,289.97 85.50,288.12 85.50,291.83" fill="#c4121c" stroke="#c4121c" stroke-width="0.8"/>
<polygon points="86.95,289.58 90.07,287.73 90.07,291.44" fill="#c4121c" stroke="#c4121c" stroke-width="0.8"/>
<polygon points="91.52,289.22 94.64,287.37 94.64,291.08" fill="#c4121c" stroke="#c4121c" stroke-width="0.8"/>
<polygon points="96.09,288.86 99.21,287.01 99.21,290.72" fill="#c4121c" stroke="#c4121c" stroke-width="0.8"/>
<polygon points="100.66,288.50 103.78,286.65 103.78,290.36" fill="#c4121c" stroke="#c4121c" stroke-width="0.8"/>
<polygon points="105.23,288.14 108.35,286.29 108.35,289.99" fill="#c4121c" stroke="#c4121c" stroke-width="0.8"/>
<polygon points="109.80,287.81 112.92,285.95 112.92,289.66" fill="#c4121c" stroke="#c4121c" stroke-width="0.8"/>
<polygon points="114.37,287.49 117.49,285.63 117.49,289.34" fill="#c4121c" stroke="#c4121c" stroke-width="0.8"/>
<polygon points="118.94,287.16 122.06,285.31 122.06,289.02" fill="#c4121c" stroke="#c4121c" stroke-width="0.8"/>
<polygon points="123.51,286.84 126.63,284.99 126.63,288.70" fill="#c4121c" stroke="#c4121c" stroke-width="0.8"/>
<polygon points="128.08,286.52 131.20,284.67 131.20,288.38" fill="#c4121c" stroke="#c4121c" stroke-width="0.8"/>
<polygon points="132.65,286.16 135.77,284.31 135.77,288.02" fill="#c4121c" stroke="#c4121c" stroke-width="0.8"/>
<polygon points="137.21,285.79 140.33,283.94 140.33,287.65" fill="#c4121c" stroke="#c4121c" stroke-width="0.8"/>
<polygon points="141.78,285.42 144.90,283.57 144.90,287.28" fill="#c4121c" stroke="#c4121c" stroke-width="0.8"/>
<polygon points="146.35,285.05 149.47,283.20 149.47,286.91" fill="#c4121c" stroke="#c4121c" stroke-width="0.8"/>
<polygon points="150.92,284.68 154.04,282.83 154.04,286.54" fill="#c4121c" stroke="#c4121c" stroke-width="0.8"/>
<polygon points="155.49,284.31 158.61,282.46 158.61,286.17" fill="#c4121c" stroke="#c4121c" stroke-width="0.8"/>
<polygon points="160.06,283.94 163.18,282.09 163.18,285.80" fill="#c4121c" stroke="#c4121c" stroke-width="0.8"/>
<polygon points="164.63,283.57 167.75,281.72 167.75,285.43" fill="#c4121c" stroke="#c4121c" stroke-width="0.8"/>
<polygon points="169.20,283.20 172.32,281.35 172.32,285.06" fill="#c4121c" stroke="#c4121c" stroke-width="0.8"/>
<polygon points="173.77,282.60 176.89,280.75 176.89,284.45" fill="#c4121c" stroke="#c4121c" stroke-width="0.8"/>
<polygon points="178.34,281.78 181.46,279.92 181.46,283.63" fill="#c4121c" stroke="#c4121c" stroke-width="0.8"/>
<polygon points="182.91,280.95 186.03,279.10 186.03,282.80" fill="#c4121c" stroke="#c4121c" stroke-width="0.8"/>
<polygon points="187.48,280.13 190.60,278.28 190.60,281.98" fill="#c4121c" stroke="#c4121c" stroke-width="0.8"/>
<polygon points="192.05,279.30 195.17,277.45 195.17,281.16" fill="#c4121c" stroke="#c4121c" stroke-width="0.8"/>
<polygon points="196.62,278.28 199.73,276.43 199.73,280.13" fill="#c4121c" stroke="#c4121c" stroke-width="0.8"/>
<polygon points="201.18,276.97 204.30,275.12 204.30,278.82" fill="#c4121c" stroke="#c4121c" stroke-width="0.8"/>
<polygon points="205.75,275.66 208.87,273.80 208.87,277.51" fill="#c4121c" stroke="#c4121c" stroke-width="0.8"/>
<polygon points="210.32,274.34 213.44,272.49 213.44,276.20" fill="#c4121c" stroke="#c4121c" stroke-width="0.8"/>
<polygon points="214.89,272.44 218.01,270.59 218.01,274.29" fill="#c4121c" stroke="#c4121c" stroke-width="0.8"/>
<polygon points="219.46,269.32 222.58,267.46 222.58,271.17" fill="#c4121c" stroke="#c4121c" stroke-width="0.8"/>
<polygon points="224.03,266.19 227.15,264.34 227.15,268.05" fill="#c4121c" stroke="#c4121c" stroke-width="0.8"/>
<polygon points="228.60,259.78 231.72,257.93 231.72,261.63" fill="#c4121c" stroke="#c4121c" stroke-width="0.8"/>
<polygon points="231.12,256.25 234.24,254.40 234.24,258.10" fill="#c4121c" stroke="#c4121c" stroke-width="0.8"/>
<polyline points="233.07,254.33 228.41,258.93 223.84,262.13 219.27,264.32 214.70,266.32 210.13,267.19 205.56,268.07 200.99,268.94 196.42,269.82 191.85,270.69 187.28,271.57 182.71,272.44 178.14,273.31 173.57,274.19 169.00,275.00 164.44,275.80 159.87,276.60 155.30,277.41 150.73,278.21 146.16,279.01 141.59,279.81 137.02,280.92 132.45,282.51 127.88,285.94 123.31,286.44 118.74,286.82 114.17,287.19 109.60,287.57 105.04,287.93 100.47,288.29 95.90,288.65 91.33,289.01 86.76,289.37 82.19,289.95 77.62,290.70" fill="none" stroke="#c4121c" stroke-width="0.9" stroke-linejoin="round" />
<polygon points="231.12,254.33 234.24,252.48 234.24,256.19" fill="#fff" stroke="#c4121c" stroke-width="0.8"/>
<polygon points="226.46,258.93 229.57,257.07 229.57,260.78" fill="#fff" stroke="#c4121c" stroke-width="0.8"/>
<polygon points="221.89,262.13 225.01,260.28 225.01,263.98" fill="#fff" stroke="#c4121c" stroke-width="0.8"/>
<polygon points="217.32,264.32 220.44,262.47 220.44,266.17" fill="#fff" stroke="#c4121c" stroke-width="0.8"/>
<polygon points="212.75,266.32 215.87,264.46 215.87,268.17" fill="#fff" stroke="#c4121c" stroke-width="0.8"/>
<polygon points="208.18,267.19 211.30,265.34 211.30,269.04" fill="#fff" stroke="#c4121c" stroke-width="0.8"/>
<polygon points="203.61,268.07 206.73,266.21 206.73,269.92" fill="#fff" stroke="#c4121c" stroke-width="0.8"/>
<polygon points="199.04,268.94 202.16,267.09 202.16,270.79" fill="#fff" stroke="#c4121c" stroke-width="0.8"/>
<polygon points="194.47,269.82 197.59,267.96 197.59,271.67" fill="#fff" stroke="#c4121c" stroke-width="0.8"/>
<polygon points="189.90,270.69 193.02,268.84 193.02,272.54" fill="#fff" stroke="#c4121c" stroke-width="0.8"/>
<polygon points="185.33,271.57 188.45,269.71 188.45,273.42" fill="#fff" stroke="#c4121c" stroke-width="0.8"/>
<polygon points="180.76,272.44 183.88,270.59 183.88,274.29" fill="#fff" stroke="#c4121c" stroke-width="0.8"/>
<polygon points="176.19,273.31 179.31,271.46 179.31,275.17" fill="#fff" stroke="#c4121c" stroke-width="0.8"/>
<polygon points="171.62,274.19 174.74,272.34 174.74,276.04" fill="#fff" stroke="#c4121c" stroke-width="0.8"/>
<polygon points="167.05,275.00 170.17,273.14 170.17,276.85" fill="#fff" stroke="#c4121c" stroke-width="0.8"/>
<polygon points="162.49,275.80 165.61,273.95 165.61,277.65" fill="#fff" stroke="#c4121c" stroke-width="0.8"/>
<polygon points="157.92,276.60 161.04,274.75 161.04,278.45" fill="#fff" stroke="#c4121c" stroke-width="0.8"/>
<polygon points="153.35,277.41 156.47,275.55 156.47,279.26" fill="#fff" stroke="#c4121c" stroke-width="0.8"/>
<polygon points="148.78,278.21 151.90,276.36 151.90,280.06" fill="#fff" stroke="#c4121c" stroke-width="0.8"/>
<polygon points="144.21,279.01 147.33,277.16 147.33,280.86" fill="#fff" stroke="#c4121c" stroke-width="0.8"/>
<polygon points="139.64,279.81 142.76,277.96 142.76,281.67" fill="#fff" stroke="#c4121c" stroke-width="0.8"/>
<polygon points="135.07,280.92 138.19,279.07 138.19,282.77" fill="#fff" stroke="#c4121c" stroke-width="0.8"/>
<polygon points="130.50,282.51 133.62,280.65 133.62,284.36" fill="#fff" stroke="#c4121c" stroke-width="0.8"/>
<polygon points="125.93,285.94 129.05,284.09 129.05,287.79" fill="#fff" stroke="#c4121c" stroke-width="0.8"/>
<polygon points="121.36,286.44 124.48,284.59 124.48,288.29" fill="#fff" stroke="#c4121c" stroke-width="0.8"/>
<polygon points="116.79,286.82 119.91,284.96 119.91,288.67" fill="#fff" stroke="#c4121c" stroke-width="0.8"/>
<polygon points="112.22,287.19 115.34,285.34 115.34,289.04" fill="#fff" stroke="#c4121c" stroke-width="0.8"/>
<polygon points="107.65,287.57 110.77,285.71 110.77,289.42" fill="#fff" stroke="#c4121c" stroke-width="0.8"/>
<polygon points="103.09,287.93 106.21,286.08 106.21,289.78" fill="#fff" stroke="#c4121c" stroke-width="0.8"/>
<polygon points="98.52,288.29 101.64,286.44 101.64,290.14" fill="#fff" stroke="#c4121c" stroke-width="0.8"/>
<polygon points="93.95,288.65 97.07,286.80 97.07,290.50" fill="#fff" stroke="#c4121c" stroke-width="0.8"/>
<polygon points="89.38,289.01 92.50,287.16 92.50,290.86" fill="#fff" stroke="#c4121c" stroke-width="0.8"/>
<polygon points="84.81,289.37 87.93,287.52 87.93,291.22" fill="#fff" stroke="#c4121c" stroke-width="0.8"/>
<polygon points="80.24,289.95 83.36,288.10 83.36,291.81" fill="#fff" stroke="#c4121c" stroke-width="0.8"/>
<polygon points="75.67,290.70 78.79,288.85 78.79,292.56" fill="#fff" stroke="#c4121c" stroke-width="0.8"/>
<polyline points="47.59,377.50 47.71,368.42 47.82,359.33 47.93,350.25 48.04,341.16 48.15,332.08 48.26,322.99 48.38,313.91 48.49,304.82 48.62,307.04 49.74,300.07 51.23,297.09 53.09,295.39 55.89,292.84 58.69,290.29 61.49,289.00 66.06,286.89 70.63,286.11 75.20,285.36 79.76,284.61 84.33,283.86 88.90,283.40 93.47,282.97 98.04,282.53 102.61,282.10 107.18,281.67 111.75,281.26 116.32,280.86 120.89,280.45 125.46,280.05 130.03,279.65 134.60,278.64 139.16,277.49 143.73,276.34 148.30,275.19 152.87,274.04 157.44,272.89 162.01,271.74 166.58,270.58 171.15,269.43 175.72,268.36 180.29,267.36 184.86,266.36 189.43,265.36 194.00,264.36 198.56,263.36 203.13,262.36 207.70,261.36 212.27,260.36 216.84,258.82 221.41,256.17 225.98,253.51 230.55,249.08 233.07,246.69" fill="none" stroke="#e8a92a" stroke-width="0.9" stroke-linejoin="round" />
<circle cx="47.59" cy="377.50" r="1.56" fill="#e8a92a" stroke="#e8a92a" stroke-width="0.8"/>
<circle cx="47.71" cy="368.42" r="1.56" fill="#e8a92a" stroke="#e8a92a" stroke-width="0.8"/>
<circle cx="47.82" cy="359.33" r="1.56" fill="#e8a92a" stroke="#e8a92a" stroke-width="0.8"/>
<circle cx="47.93" cy="350.25" r="1.56" fill="#e8a92a" stroke="#e8a92a" stroke-width="0.8"/>
<circle cx="48.04" cy="341.16" r="1.56" fill="#e8a92a" stroke="#e8a92a" stroke-width="0.8"/>
<circle cx="48.15" cy="332.08" r="1.56" fill="#e8a92a" stroke="#e8a92a" stroke-width="0.8"/>
<circle cx="48.26" cy="322.99" r="1.56" fill="#e8a92a" stroke="#e8a92a" stroke-width="0.8"/>
<circle cx="48.38" cy="313.91" r="1.56" fill="#e8a92a" stroke="#e8a92a" stroke-width="0.8"/>
<circle cx="48.49" cy="304.82" r="1.56" fill="#e8a92a" stroke="#e8a92a" stroke-width="0.8"/>
<circle cx="48.62" cy="307.04" r="1.56" fill="#e8a92a" stroke="#e8a92a" stroke-width="0.8"/>
<circle cx="49.74" cy="300.07" r="1.56" fill="#e8a92a" stroke="#e8a92a" stroke-width="0.8"/>
<circle cx="51.23" cy="297.09" r="1.56" fill="#e8a92a" stroke="#e8a92a" stroke-width="0.8"/>
<circle cx="53.09" cy="295.39" r="1.56" fill="#e8a92a" stroke="#e8a92a" stroke-width="0.8"/>
<circle cx="55.89" cy="292.84" r="1.56" fill="#e8a92a" stroke="#e8a92a" stroke-width="0.8"/>
<circle cx="58.69" cy="290.29" r="1.56" fill="#e8a92a" stroke="#e8a92a" stroke-width="0.8"/>
<circle cx="61.49" cy="289.00" r="1.56" fill="#e8a92a" stroke="#e8a92a" stroke-width="0.8"/>
<circle cx="66.06" cy="286.89" r="1.56" fill="#e8a92a" stroke="#e8a92a" stroke-width="0.8"/>
<circle cx="70.63" cy="286.11" r="1.56" fill="#e8a92a" stroke="#e8a92a" stroke-width="0.8"/>
<circle cx="75.20" cy="285.36" r="1.56" fill="#e8a92a" stroke="#e8a92a" stroke-width="0.8"/>
<circle cx="79.76" cy="284.61" r="1.56" fill="#e8a92a" stroke="#e8a92a" stroke-width="0.8"/>
<circle cx="84.33" cy="283.86" r="1.56" fill="#e8a92a" stroke="#e8a92a" stroke-width="0.8"/>
<circle cx="88.90" cy="283.40" r="1.56" fill="#e8a92a" stroke="#e8a92a" stroke-width="0.8"/>
<circle cx="93.47" cy="282.97" r="1.56" fill="#e8a92a" stroke="#e8a92a" stroke-width="0.8"/>
<circle cx="98.04" cy="282.53" r="1.56" fill="#e8a92a" stroke="#e8a92a" stroke-width="0.8"/>
<circle cx="102.61" cy="282.10" r="1.56" fill="#e8a92a" stroke="#e8a92a" stroke-width="0.8"/>
<circle cx="107.18" cy="281.67" r="1.56" fill="#e8a92a" stroke="#e8a92a" stroke-width="0.8"/>
<circle cx="111.75" cy="281.26" r="1.56" fill="#e8a92a" stroke="#e8a92a" stroke-width="0.8"/>
<circle cx="116.32" cy="280.86" r="1.56" fill="#e8a92a" stroke="#e8a92a" stroke-width="0.8"/>
<circle cx="120.89" cy="280.45" r="1.56" fill="#e8a92a" stroke="#e8a92a" stroke-width="0.8"/>
<circle cx="125.46" cy="280.05" r="1.56" fill="#e8a92a" stroke="#e8a92a" stroke-width="0.8"/>
<circle cx="130.03" cy="279.65" r="1.56" fill="#e8a92a" stroke="#e8a92a" stroke-width="0.8"/>
<circle cx="134.60" cy="278.64" r="1.56" fill="#e8a92a" stroke="#e8a92a" stroke-width="0.8"/>
<circle cx="139.16" cy="277.49" r="1.56" fill="#e8a92a" stroke="#e8a92a" stroke-width="0.8"/>
<circle cx="143.73" cy="276.34" r="1.56" fill="#e8a92a" stroke="#e8a92a" stroke-width="0.8"/>
<circle cx="148.30" cy="275.19" r="1.56" fill="#e8a92a" stroke="#e8a92a" stroke-width="0.8"/>
<circle cx="152.87" cy="274.04" r="1.56" fill="#e8a92a" stroke="#e8a92a" stroke-width="0.8"/>
<circle cx="157.44" cy="272.89" r="1.56" fill="#e8a92a" stroke="#e8a92a" stroke-width="0.8"/>
<circle cx="162.01" cy="271.74" r="1.56" fill="#e8a92a" stroke="#e8a92a" stroke-width="0.8"/>
<circle cx="166.58" cy="270.58" r="1.56" fill="#e8a92a" stroke="#e8a92a" stroke-width="0.8"/>
<circle cx="171.15" cy="269.43" r="1.56" fill="#e8a92a" stroke="#e8a92a" stroke-width="0.8"/>
<circle cx="175.72" cy="268.36" r="1.56" fill="#e8a92a" stroke="#e8a92a" stroke-width="0.8"/>
<circle cx="180.29" cy="267.36" r="1.56" fill="#e8a92a" stroke="#e8a92a" stroke-width="0.8"/>
<circle cx="184.86" cy="266.36" r="1.56" fill="#e8a92a" stroke="#e8a92a" stroke-width="0.8"/>
<circle cx="189.43" cy="265.36" r="1.56" fill="#e8a92a" stroke="#e8a92a" stroke-width="0.8"/>
<circle cx="194.00" cy="264.36" r="1.56" fill="#e8a92a" stroke="#e8a92a" stroke-width="0.8"/>
<circle cx="198.56" cy="263.36" r="1.56" fill="#e8a92a" stroke="#e8a92a" stroke-width="0.8"/>
<circle cx="203.13" cy="262.36" r="1.56" fill="#e8a92a" stroke="#e8a92a" stroke-width="0.8"/>
<circle cx="207.70" cy="261.36" r="1.56" fill="#e8a92a" stroke="#e8a92a" stroke-width="0.8"/>
<circle cx="212.27" cy="260.36" r="1.56" fill="#e8a92a" stroke="#e8a92a" stroke-width="0.8"/>
<circle cx="216.84" cy="258.82" r="1.56" fill="#e8a92a" stroke="#e8a92a" stroke-width="0.8"/>
<circle cx="221.41" cy="256.17" r="1.56" fill="#e8a92a" stroke="#e8a92a" stroke-width="0.8"/>
<circle cx="225.98" cy="253.51" r="1.56" fill="#e8a92a" stroke="#e8a92a" stroke-width="0.8"/>
<circle cx="230.55" cy="249.08" r="1.56" fill="#e8a92a" stroke="#e8a92a" stroke-width="0.8"/>
<circle cx="233.07" cy="246.69" r="1.56" fill="#e8a92a" stroke="#e8a92a" stroke-width="0.8"/>
<polyline points="233.07,246.11 228.41,250.25 223.84,253.33 219.27,255.52 214.70,257.52 210.13,258.39 205.56,259.27 200.99,260.14 196.42,261.02 191.85,261.89 187.28,262.77 182.71,263.64 178.14,264.52 173.57,265.39 169.00,266.56 164.44,267.74 159.87,268.91 155.30,270.09 150.73,271.27 146.16,272.45 141.59,273.63 137.02,274.61 132.45,275.95 127.88,279.07 123.31,279.65 118.74,280.12 114.17,280.58 109.60,281.05 105.04,281.49 100.47,281.92 95.90,282.35 91.33,282.79 86.76,283.22 82.19,283.89 77.62,284.73" fill="none" stroke="#e8a92a" stroke-width="0.9" stroke-linejoin="round" />
<circle cx="233.07" cy="246.11" r="1.56" fill="#fff" stroke="#e8a92a" stroke-width="0.8"/>
<circle cx="228.41" cy="250.25" r="1.56" fill="#fff" stroke="#e8a92a" stroke-width="0.8"/>
<circle cx="223.84" cy="253.33" r="1.56" fill="#fff" stroke="#e8a92a" stroke-width="0.8"/>
<circle cx="219.27" cy="255.52" r="1.56" fill="#fff" stroke="#e8a92a" stroke-width="0.8"/>
<circle cx="214.70" cy="257.52" r="1.56" fill="#fff" stroke="#e8a92a" stroke-width="0.8"/>
<circle cx="210.13" cy="258.39" r="1.56" fill="#fff" stroke="#e8a92a" stroke-width="0.8"/>
<circle cx="205.56" cy="259.27" r="1.56" fill="#fff" stroke="#e8a92a" stroke-width="0.8"/>
<circle cx="200.99" cy="260.14" r="1.56" fill="#fff" stroke="#e8a92a" stroke-width="0.8"/>
<circle cx="196.42" cy="261.02" r="1.56" fill="#fff" stroke="#e8a92a" stroke-width="0.8"/>
<circle cx="191.85" cy="261.89" r="1.56" fill="#fff" stroke="#e8a92a" stroke-width="0.8"/>
<circle cx="187.28" cy="262.77" r="1.56" fill="#fff" stroke="#e8a92a" stroke-width="0.8"/>
<circle cx="182.71" cy="263.64" r="1.56" fill="#fff" stroke="#e8a92a" stroke-width="0.8"/>
<circle cx="178.14" cy="264.52" r="1.56" fill="#fff" stroke="#e8a92a" stroke-width="0.8"/>
<circle cx="173.57" cy="265.39" r="1.56" fill="#fff" stroke="#e8a92a" stroke-width="0.8"/>
<circle cx="169.00" cy="266.56" r="1.56" fill="#fff" stroke="#e8a92a" stroke-width="0.8"/>
<circle cx="164.44" cy="267.74" r="1.56" fill="#fff" stroke="#e8a92a" stroke-width="0.8"/>
<circle cx="159.87" cy="268.91" r="1.56" fill="#fff" stroke="#e8a92a" stroke-width="0.8"/>
<circle cx="155.30" cy="270.09" r="1.56" fill="#fff" stroke="#e8a92a" stroke-width="0.8"/>
<circle cx="150.73" cy="271.27" r="1.56" fill="#fff" stroke="#e8a92a" stroke-width="0.8"/>
<circle cx="146.16" cy="272.45" r="1.56" fill="#fff" stroke="#e8a92a" stroke-width="0.8"/>
<circle cx="141.59" cy="273.63" r="1.56" fill="#fff" stroke="#e8a92a" stroke-width="0.8"/>
<circle cx="137.02" cy="274.61" r="1.56" fill="#fff" stroke="#e8a92a" stroke-width="0.8"/>
<circle cx="132.45" cy="275.95" r="1.56" fill="#fff" stroke="#e8a92a" stroke-width="0.8"/>
<circle cx="127.88" cy="279.07" r="1.56" fill="#fff" stroke="#e8a92a" stroke-width="0.8"/>
<circle cx="123.31" cy="279.65" r="1.56" fill="#fff" stroke="#e8a92a" stroke-width="0.8"/>
<circle cx="118.74" cy="280.12" r="1.56" fill="#fff" stroke="#e8a92a" stroke-width="0.8"/>
<circle cx="114.17" cy="280.58" r="1.56" fill="#fff" stroke="#e8a92a" stroke-width="0.8"/>
<circle cx="109.60" cy="281.05" r="1.56" fill="#fff" stroke="#e8a92a" stroke-width="0.8"/>
<circle cx="105.04" cy="281.49" r="1.56" fill="#fff" stroke="#e8a92a" stroke-width="0.8"/>
<circle cx="100.47" cy="281.92" r="1.56" fill="#fff" stroke="#e8a92a" stroke-width="0.8"/>
<circle cx="95.90" cy="282.35" r="1.56" fill="#fff" stroke="#e8a92a" stroke-width="0.8"/>
<circle cx="91.33" cy="282.79" r="1.56" fill="#fff" stroke="#e8a92a" stroke-width="0.8"/>
<circle cx="86.76" cy="283.22" r="1.56" fill="#fff" stroke="#e8a92a" stroke-width="0.8"/>
<circle cx="82.19" cy="283.89" r="1.56" fill="#fff" stroke="#e8a92a" stroke-width="0.8"/>
<circle cx="77.62" cy="284.73" r="1.56" fill="#fff" stroke="#e8a92a" stroke-width="0.8"/>
<polyline points="47.59,377.50 47.71,366.50 47.82,355.51 47.93,344.51 48.04,333.51 48.15,322.52 48.26,311.52 48.38,300.52 48.49,289.52 48.62,290.67 49.74,280.29 51.23,274.36 53.09,269.50 55.89,266.12 58.69,262.75 61.49,261.89 66.06,260.48 70.63,259.08 75.20,257.92 79.76,257.21 84.33,256.51 88.90,255.83 93.47,255.40 98.04,254.98 102.61,254.55 107.18,254.13 111.75,253.72 116.32,253.31 120.89,252.91 125.46,252.51 130.03,252.11 134.60,251.70 139.16,251.29 143.73,250.88 148.30,250.47 152.87,250.06 157.44,249.65 162.01,249.24 166.58,248.83 171.15,248.42 175.72,247.96 180.29,247.46 184.86,246.96 189.43,246.46 194.00,245.96 198.56,245.46 203.13,244.96 207.70,244.46 212.27,243.96 216.84,243.01 221.41,241.14 225.98,238.55 230.55,233.74 233.07,227.36" fill="none" stroke="#1428b4" stroke-width="0.9" stroke-linejoin="round" />
<polygon points="47.59,375.55 45.74,378.67 49.45,378.67" fill="#1428b4" stroke="#1428b4" stroke-width="0.8"/>
<polygon points="47.71,364.55 45.85,367.67 49.56,367.67" fill="#1428b4" stroke="#1428b4" stroke-width="0.8"/>
<polygon points="47.82,353.56 45.96,356.68 49.67,356.68" fill="#1428b4" stroke="#1428b4" stroke-width="0.8"/>
<polygon points="47.93,342.56 46.08,345.68 49.78,345.68" fill="#1428b4" stroke="#1428b4" stroke-width="0.8"/>
<polygon points="48.04,331.56 46.19,334.68 49.89,334.68" fill="#1428b4" stroke="#1428b4" stroke-width="0.8"/>
<polygon points="48.15,320.57 46.30,323.69 50.01,323.69" fill="#1428b4" stroke="#1428b4" stroke-width="0.8"/>
<polygon points="48.26,309.57 46.41,312.69 50.12,312.69" fill="#1428b4" stroke="#1428b4" stroke-width="0.8"/>
<polygon points="48.38,298.57 46.52,301.69 50.23,301.69" fill="#1428b4" stroke="#1428b4" stroke-width="0.8"/>
<polygon points="48.49,287.57 46.64,290.69 50.34,290.69" fill="#1428b4" stroke="#1428b4" stroke-width="0.8"/>
<polygon points="48.62,288.72 46.77,291.84 50.47,291.84" fill="#1428b4" stroke="#1428b4" stroke-width="0.8"/>
<polygon points="49.74,278.34 47.89,281.46 51.59,281.46" fill="#1428b4" stroke="#1428b4" stroke-width="0.8"/>
<polygon points="51.23,272.41 49.38,275.53 53.08,275.53" fill="#1428b4" stroke="#1428b4" stroke-width="0.8"/>
<polygon points="53.09,267.55 51.24,270.67 54.95,270.67" fill="#1428b4" stroke="#1428b4" stroke-width="0.8"/>
<polygon points="55.89,264.18 54.04,267.30 57.74,267.30" fill="#1428b4" stroke="#1428b4" stroke-width="0.8"/>
<polygon points="58.69,260.80 56.84,263.92 60.54,263.92" fill="#1428b4" stroke="#1428b4" stroke-width="0.8"/>
<polygon points="61.49,259.94 59.63,263.06 63.34,263.06" fill="#1428b4" stroke="#1428b4" stroke-width="0.8"/>
<polygon points="66.06,258.53 64.20,261.65 67.91,261.65" fill="#1428b4" stroke="#1428b4" stroke-width="0.8"/>
<polygon points="70.63,257.13 68.77,260.25 72.48,260.25" fill="#1428b4" stroke="#1428b4" stroke-width="0.8"/>
<polygon points="75.20,255.97 73.34,259.09 77.05,259.09" fill="#1428b4" stroke="#1428b4" stroke-width="0.8"/>
<polygon points="79.76,255.26 77.91,258.38 81.62,258.38" fill="#1428b4" stroke="#1428b4" stroke-width="0.8"/>
<polygon points="84.33,254.56 82.48,257.68 86.19,257.68" fill="#1428b4" stroke="#1428b4" stroke-width="0.8"/>
<polygon points="88.90,253.88 87.05,257.00 90.76,257.00" fill="#1428b4" stroke="#1428b4" stroke-width="0.8"/>
<polygon points="93.47,253.45 91.62,256.57 95.32,256.57" fill="#1428b4" stroke="#1428b4" stroke-width="0.8"/>
<polygon points="98.04,253.03 96.19,256.15 99.89,256.15" fill="#1428b4" stroke="#1428b4" stroke-width="0.8"/>
<polygon points="102.61,252.60 100.76,255.72 104.46,255.72" fill="#1428b4" stroke="#1428b4" stroke-width="0.8"/>
<polygon points="107.18,252.18 105.33,255.30 109.03,255.30" fill="#1428b4" stroke="#1428b4" stroke-width="0.8"/>
<polygon points="111.75,251.77 109.90,254.89 113.60,254.89" fill="#1428b4" stroke="#1428b4" stroke-width="0.8"/>
<polygon points="116.32,251.37 114.47,254.48 118.17,254.48" fill="#1428b4" stroke="#1428b4" stroke-width="0.8"/>
<polygon points="120.89,250.96 119.04,254.08 122.74,254.08" fill="#1428b4" stroke="#1428b4" stroke-width="0.8"/>
<polygon points="125.46,250.56 123.60,253.68 127.31,253.68" fill="#1428b4" stroke="#1428b4" stroke-width="0.8"/>
<polygon points="130.03,250.16 128.17,253.28 131.88,253.28" fill="#1428b4" stroke="#1428b4" stroke-width="0.8"/>
<polygon points="134.60,249.75 132.74,252.87 136.45,252.87" fill="#1428b4" stroke="#1428b4" stroke-width="0.8"/>
<polygon points="139.16,249.34 137.31,252.46 141.02,252.46" fill="#1428b4" stroke="#1428b4" stroke-width="0.8"/>
<polygon points="143.73,248.93 141.88,252.05 145.59,252.05" fill="#1428b4" stroke="#1428b4" stroke-width="0.8"/>
<polygon points="148.30,248.52 146.45,251.64 150.16,251.64" fill="#1428b4" stroke="#1428b4" stroke-width="0.8"/>
<polygon points="152.87,248.11 151.02,251.23 154.72,251.23" fill="#1428b4" stroke="#1428b4" stroke-width="0.8"/>
<polygon points="157.44,247.70 155.59,250.82 159.29,250.82" fill="#1428b4" stroke="#1428b4" stroke-width="0.8"/>
<polygon points="162.01,247.29 160.16,250.41 163.86,250.41" fill="#1428b4" stroke="#1428b4" stroke-width="0.8"/>
<polygon points="166.58,246.88 164.73,250.00 168.43,250.00" fill="#1428b4" stroke="#1428b4" stroke-width="0.8"/>
<polygon points="171.15,246.47 169.30,249.59 173.00,249.59" fill="#1428b4" stroke="#1428b4" stroke-width="0.8"/>
<polygon points="175.72,246.01 173.87,249.13 177.57,249.13" fill="#1428b4" stroke="#1428b4" stroke-width="0.8"/>
<polygon points="180.29,245.51 178.44,248.63 182.14,248.63" fill="#1428b4" stroke="#1428b4" stroke-width="0.8"/>
<polygon points="184.86,245.01 183.00,248.13 186.71,248.13" fill="#1428b4" stroke="#1428b4" stroke-width="0.8"/>
<polygon points="189.43,244.51 187.57,247.63 191.28,247.63" fill="#1428b4" stroke="#1428b4" stroke-width="0.8"/>
<polygon points="194.00,244.01 192.14,247.13 195.85,247.13" fill="#1428b4" stroke="#1428b4" stroke-width="0.8"/>
<polygon points="198.56,243.51 196.71,246.63 200.42,246.63" fill="#1428b4" stroke="#1428b4" stroke-width="0.8"/>
<polygon points="203.13,243.01 201.28,246.13 204.99,246.13" fill="#1428b4" stroke="#1428b4" stroke-width="0.8"/>
<polygon points="207.70,242.51 205.85,245.63 209.56,245.63" fill="#1428b4" stroke="#1428b4" stroke-width="0.8"/>
<polygon points="212.27,242.01 210.42,245.13 214.13,245.13" fill="#1428b4" stroke="#1428b4" stroke-width="0.8"/>
<polygon points="216.84,241.06 214.99,244.18 218.69,244.18" fill="#1428b4" stroke="#1428b4" stroke-width="0.8"/>
<polygon points="221.41,239.19 219.56,242.31 223.26,242.31" fill="#1428b4" stroke="#1428b4" stroke-width="0.8"/>
<polygon points="225.98,236.60 224.13,239.72 227.83,239.72" fill="#1428b4" stroke="#1428b4" stroke-width="0.8"/>
<polygon points="230.55,231.79 228.70,234.91 232.40,234.91" fill="#1428b4" stroke="#1428b4" stroke-width="0.8"/>
<polygon points="233.07,225.41 231.22,228.53 234.92,228.53" fill="#1428b4" stroke="#1428b4" stroke-width="0.8"/>
<polyline points="233.07,227.36 228.41,235.59 223.84,238.23 219.27,240.11 214.70,241.78 210.13,242.28 205.56,242.78 200.99,243.28 196.42,243.78 191.85,244.28 187.28,244.78 182.71,245.28 178.14,245.78 173.57,246.28 169.00,246.70 164.44,247.11 159.87,247.52 155.30,247.93 150.73,248.34 146.16,248.75 141.59,249.16 137.02,249.57 132.45,249.98 127.88,250.39 123.31,250.79 118.74,251.19 114.17,251.59 109.60,251.99 105.04,252.41 100.47,252.84 95.90,253.27 91.33,253.69 86.76,254.23 82.19,254.93 77.62,255.63 73.05,256.42 68.48,257.83 63.91,259.23 59.34,260.64" fill="none" stroke="#1428b4" stroke-width="0.9" stroke-linejoin="round" />
<polygon points="233.07,225.41 231.22,228.53 234.92,228.53" fill="#fff" stroke="#1428b4" stroke-width="0.8"/>
<polygon points="228.41,233.64 226.55,236.76 230.26,236.76" fill="#fff" stroke="#1428b4" stroke-width="0.8"/>
<polygon points="223.84,236.28 221.98,239.40 225.69,239.40" fill="#fff" stroke="#1428b4" stroke-width="0.8"/>
<polygon points="219.27,238.16 217.41,241.28 221.12,241.28" fill="#fff" stroke="#1428b4" stroke-width="0.8"/>
<polygon points="214.70,239.83 212.84,242.95 216.55,242.95" fill="#fff" stroke="#1428b4" stroke-width="0.8"/>
<polygon points="210.13,240.33 208.28,243.45 211.98,243.45" fill="#fff" stroke="#1428b4" stroke-width="0.8"/>
<polygon points="205.56,240.83 203.71,243.95 207.41,243.95" fill="#fff" stroke="#1428b4" stroke-width="0.8"/>
<polygon points="200.99,241.33 199.14,244.45 202.84,244.45" fill="#fff" stroke="#1428b4" stroke-width="0.8"/>
<polygon points="196.42,241.83 194.57,244.95 198.27,244.95" fill="#fff" stroke="#1428b4" stroke-width="0.8"/>
<polygon points="191.85,242.33 190.00,245.45 193.70,245.45" fill="#fff" stroke="#1428b4" stroke-width="0.8"/>
<polygon points="187.28,242.83 185.43,245.95 189.13,245.95" fill="#fff" stroke="#1428b4" stroke-width="0.8"/>
<polygon points="182.71,243.33 180.86,246.45 184.56,246.45" fill="#fff" stroke="#1428b4" stroke-width="0.8"/>
<polygon points="178.14,243.83 176.29,246.95 180.00,246.95" fill="#fff" stroke="#1428b4" stroke-width="0.8"/>
<polygon points="173.57,244.33 171.72,247.45 175.43,247.45" fill="#fff" stroke="#1428b4" stroke-width="0.8"/>
<polygon points="169.00,244.75 167.15,247.87 170.86,247.87" fill="#fff" stroke="#1428b4" stroke-width="0.8"/>
<polygon points="164.44,245.16 162.58,248.28 166.29,248.28" fill="#fff" stroke="#1428b4" stroke-width="0.8"/>
<polygon points="159.87,245.57 158.01,248.69 161.72,248.69" fill="#fff" stroke="#1428b4" stroke-width="0.8"/>
<polygon points="155.30,245.98 153.44,249.10 157.15,249.10" fill="#fff" stroke="#1428b4" stroke-width="0.8"/>
<polygon points="150.73,246.39 148.88,249.51 152.58,249.51" fill="#fff" stroke="#1428b4" stroke-width="0.8"/>
<polygon points="146.16,246.80 144.31,249.92 148.01,249.92" fill="#fff" stroke="#1428b4" stroke-width="0.8"/>
<polygon points="141.59,247.21 139.74,250.33 143.44,250.33" fill="#fff" stroke="#1428b4" stroke-width="0.8"/>
<polygon points="137.02,247.62 135.17,250.74 138.87,250.74" fill="#fff" stroke="#1428b4" stroke-width="0.8"/>
<polygon points="132.45,248.03 130.60,251.15 134.30,251.15" fill="#fff" stroke="#1428b4" stroke-width="0.8"/>
<polygon points="127.88,248.44 126.03,251.56 129.73,251.56" fill="#fff" stroke="#1428b4" stroke-width="0.8"/>
<polygon points="123.31,248.84 121.46,251.96 125.16,251.96" fill="#fff" stroke="#1428b4" stroke-width="0.8"/>
<polygon points="118.74,249.24 116.89,252.36 120.60,252.36" fill="#fff" stroke="#1428b4" stroke-width="0.8"/>
<polygon points="114.17,249.64 112.32,252.76 116.03,252.76" fill="#fff" stroke="#1428b4" stroke-width="0.8"/>
<polygon points="109.60,250.04 107.75,253.16 111.46,253.16" fill="#fff" stroke="#1428b4" stroke-width="0.8"/>
<polygon points="105.04,250.46 103.18,253.58 106.89,253.58" fill="#fff" stroke="#1428b4" stroke-width="0.8"/>
<polygon points="100.47,250.89 98.61,254.01 102.32,254.01" fill="#fff" stroke="#1428b4" stroke-width="0.8"/>
<polygon points="95.90,251.32 94.04,254.44 97.75,254.44" fill="#fff" stroke="#1428b4" stroke-width="0.8"/>
<polygon points="91.33,251.74 89.47,254.86 93.18,254.86" fill="#fff" stroke="#1428b4" stroke-width="0.8"/>
<polygon points="86.76,252.28 84.91,255.40 88.61,255.40" fill="#fff" stroke="#1428b4" stroke-width="0.8"/>
<polygon points="82.19,252.98 80.34,256.10 84.04,256.10" fill="#fff" stroke="#1428b4" stroke-width="0.8"/>
<polygon points="77.62,253.68 75.77,256.80 79.47,256.80" fill="#fff" stroke="#1428b4" stroke-width="0.8"/>
<polygon points="73.05,254.47 71.20,257.59 74.90,257.59" fill="#fff" stroke="#1428b4" stroke-width="0.8"/>
<polygon points="68.48,255.88 66.63,259.00 70.33,259.00" fill="#fff" stroke="#1428b4" stroke-width="0.8"/>
<polygon points="63.91,257.28 62.06,260.40 65.76,260.40" fill="#fff" stroke="#1428b4" stroke-width="0.8"/>
<polygon points="59.34,258.69 57.49,261.81 61.20,261.81" fill="#fff" stroke="#1428b4" stroke-width="0.8"/>
</g>
<line x1="156.80" y1="346.60" x2="166.40" y2="346.60" stroke="#1428b4" stroke-width="1.1"/>
<polygon points="161.60,345.20 160.27,347.44 162.93,347.44" fill="#1428b4" stroke="#1428b4" stroke-width="0.8"/>
<text x="169.30" y="351.10" font-size="12.7" text-anchor="start" font-weight="normal" fill="#1e1e1e" >0h</text>
<line x1="189.50" y1="346.60" x2="199.10" y2="346.60" stroke="#e8a92a" stroke-width="1.1"/>
<circle cx="194.30" cy="346.60" r="1.12" fill="#e8a92a" stroke="#e8a92a" stroke-width="0.8"/>
<text x="201.80" y="351.10" font-size="12.7" text-anchor="start" font-weight="normal" fill="#1e1e1e" >1h</text>
<line x1="156.80" y1="361.60" x2="166.40" y2="361.60" stroke="#c4121c" stroke-width="1.1"/>
<polygon points="160.20,361.60 162.44,360.27 162.44,362.93" fill="#c4121c" stroke="#c4121c" stroke-width="0.8"/>
<text x="169.30" y="366.00" font-size="12.7" text-anchor="start" font-weight="normal" fill="#1e1e1e" >5h</text>
<line x1="189.50" y1="361.60" x2="199.10" y2="361.60" stroke="#3c3c3c" stroke-width="1.1"/>
<polygon points="194.30,360.20 195.42,361.60 194.30,363.00 193.18,361.60" fill="#3c3c3c" stroke="#3c3c3c" stroke-width="0.8"/>
<text x="201.80" y="366.00" font-size="12.7" text-anchor="start" font-weight="normal" fill="#1e1e1e" >20h</text>
<text x="57.70" y="243.30" font-size="14.6" text-anchor="start" font-weight="normal" fill="#1e1e1e" >50%</text>
<text x="46.80" y="214.80" font-size="15.0" text-anchor="start" font-weight="bold" fill="#000" >d</text>
<text x="0" y="0" font-size="15.15" text-anchor="middle" fill="#1e1e1e" transform="translate(11.8,302.3) rotate(-90)">Volume Adsorbed (cm<tspan font-size="9.6" dy="-5.6">3</tspan><tspan dy="5.6"> g</tspan><tspan font-size="9.6" dy="-5.6">-1</tspan><tspan dy="5.6">)</tspan></text>
<text x="140.25" y="408.30" font-size="15" text-anchor="middle" fill="#1e1e1e">P / P<tspan font-size="9" dy="5.2">0</tspan></text>
<rect x="282.5" y="19.35" width="186.5" height="153.1" fill="none" stroke="#000" stroke-width="1.3"/>
<line x1="282.50" y1="172.45" x2="282.50" y2="175.04999999999998" stroke="#000" stroke-width="1.105"/>
<line x1="319.80" y1="172.45" x2="319.80" y2="175.04999999999998" stroke="#000" stroke-width="1.105"/>
<line x1="357.10" y1="172.45" x2="357.10" y2="175.04999999999998" stroke="#000" stroke-width="1.105"/>
<line x1="394.40" y1="172.45" x2="394.40" y2="175.04999999999998" stroke="#000" stroke-width="1.105"/>
<line x1="431.70" y1="172.45" x2="431.70" y2="175.04999999999998" stroke="#000" stroke-width="1.105"/>
<line x1="469.00" y1="172.45" x2="469.00" y2="175.04999999999998" stroke="#000" stroke-width="1.105"/>
<line x1="301.15" y1="172.45" x2="301.15" y2="173.95" stroke="#000" stroke-width="1.105"/>
<line x1="338.45" y1="172.45" x2="338.45" y2="173.95" stroke="#000" stroke-width="1.105"/>
<line x1="375.75" y1="172.45" x2="375.75" y2="173.95" stroke="#000" stroke-width="1.105"/>
<line x1="413.05" y1="172.45" x2="413.05" y2="173.95" stroke="#000" stroke-width="1.105"/>
<line x1="450.35" y1="172.45" x2="450.35" y2="173.95" stroke="#000" stroke-width="1.105"/>
<line x1="279.9" y1="172.45" x2="282.5" y2="172.45" stroke="#000" stroke-width="1.105"/>
<line x1="279.9" y1="141.83" x2="282.5" y2="141.83" stroke="#000" stroke-width="1.105"/>
<line x1="279.9" y1="111.21" x2="282.5" y2="111.21" stroke="#000" stroke-width="1.105"/>
<line x1="279.9" y1="80.59" x2="282.5" y2="80.59" stroke="#000" stroke-width="1.105"/>
<line x1="279.9" y1="49.97" x2="282.5" y2="49.97" stroke="#000" stroke-width="1.105"/>
<line x1="279.9" y1="19.35" x2="282.5" y2="19.35" stroke="#000" stroke-width="1.105"/>
<line x1="281.0" y1="157.14" x2="282.5" y2="157.14" stroke="#000" stroke-width="1.105"/>
<line x1="281.0" y1="126.52" x2="282.5" y2="126.52" stroke="#000" stroke-width="1.105"/>
<line x1="281.0" y1="95.90" x2="282.5" y2="95.90" stroke="#000" stroke-width="1.105"/>
<line x1="281.0" y1="65.28" x2="282.5" y2="65.28" stroke="#000" stroke-width="1.105"/>
<line x1="281.0" y1="34.66" x2="282.5" y2="34.66" stroke="#000" stroke-width="1.105"/>
<text x="282.50" y="187.15" font-size="13.2" text-anchor="middle" font-weight="normal" fill="#1e1e1e" >0</text>
<text x="319.80" y="187.15" font-size="13.2" text-anchor="middle" font-weight="normal" fill="#1e1e1e" >4</text>
<text x="357.10" y="187.15" font-size="13.2" text-anchor="middle" font-weight="normal" fill="#1e1e1e" >8</text>
<text x="394.40" y="187.15" font-size="13.2" text-anchor="middle" font-weight="normal" fill="#1e1e1e" >12</text>
<text x="431.70" y="187.15" font-size="13.2" text-anchor="middle" font-weight="normal" fill="#1e1e1e" >16</text>
<text x="469.00" y="187.15" font-size="13.2" text-anchor="middle" font-weight="normal" fill="#1e1e1e" >20</text>
<text x="278.80" y="176.61" font-size="13.2" text-anchor="end" font-weight="normal" fill="#1e1e1e" >0</text>
<text x="278.80" y="145.99" font-size="13.2" text-anchor="end" font-weight="normal" fill="#1e1e1e" >1</text>
<text x="278.80" y="115.37" font-size="13.2" text-anchor="end" font-weight="normal" fill="#1e1e1e" >2</text>
<text x="278.80" y="84.75" font-size="13.2" text-anchor="end" font-weight="normal" fill="#1e1e1e" >3</text>
<text x="278.80" y="54.13" font-size="13.2" text-anchor="end" font-weight="normal" fill="#1e1e1e" >4</text>
<text x="278.80" y="23.51" font-size="13.2" text-anchor="end" font-weight="normal" fill="#1e1e1e" >5</text>
<clipPath id="clipb"><rect x="282.5" y="19.35" width="186.5" height="155.1"/></clipPath>
<g clip-path="url(#clipb)">
<polyline points="285.30,172.45 285.76,172.45 286.23,172.45 286.60,172.45 286.70,169.33 287.16,153.71 287.54,141.22 287.63,131.62 288.10,83.65 288.10,83.65 288.47,55.48 288.56,50.38 288.75,40.17 289.03,50.93 289.40,65.28 289.49,72.02 289.96,105.70 290.05,112.43 290.43,134.48 290.71,151.02 290.89,156.27 291.36,169.39 291.82,170.61 292.29,171.84 292.76,171.84 293.22,171.84 293.69,171.84 294.16,171.84 294.62,171.84 295.09,171.84 295.56,171.84 296.02,171.84 296.49,171.84 296.95,171.85 297.42,171.85 297.89,171.85 298.35,171.85 301.71,171.85 305.07,171.86 308.42,171.87 311.78,171.87 315.14,171.88 318.49,171.88 321.85,171.89 325.21,171.89 328.57,171.90 331.92,171.91 335.28,171.91 338.64,171.92 341.99,171.92 345.35,171.93 348.71,171.94 352.06,171.94 355.42,171.95 358.78,171.95 362.14,171.96 365.49,171.96 368.85,171.97 372.21,171.98 375.56,171.98 378.92,171.99 382.28,171.99 385.63,172.00 388.99,172.01 392.35,172.01 395.71,172.02 399.06,172.02 402.42,172.03 405.78,172.03 409.13,172.04 412.49,172.05 415.85,172.05 419.20,172.06 422.56,172.06 425.92,172.07 429.28,172.07 432.63,172.08 435.99,172.09 439.35,172.09 442.70,172.10 446.06,172.10 449.42,172.11 452.77,172.12 456.13,172.12 459.49,172.13 462.85,172.13 466.20,172.14 469.56,172.14" fill="none" stroke="#1428b4" stroke-width="1.3" stroke-linejoin="round" />
<polygon points="286.70,168.18 285.60,170.02 287.79,170.02" fill="#1428b4" stroke="#1428b4" stroke-width="0.8"/>
<polygon points="287.16,152.56 286.07,154.40 288.25,154.40" fill="#1428b4" stroke="#1428b4" stroke-width="0.8"/>
<polygon points="287.63,130.47 286.54,132.31 288.72,132.31" fill="#1428b4" stroke="#1428b4" stroke-width="0.8"/>
<polygon points="288.10,82.50 287.00,84.34 289.19,84.34" fill="#1428b4" stroke="#1428b4" stroke-width="0.8"/>
<polygon points="288.56,49.23 287.47,51.07 289.65,51.07" fill="#1428b4" stroke="#1428b4" stroke-width="0.8"/>
<polygon points="289.03,49.78 287.94,51.62 290.12,51.62" fill="#1428b4" stroke="#1428b4" stroke-width="0.8"/>
<polygon points="289.49,70.87 288.40,72.71 290.59,72.71" fill="#1428b4" stroke="#1428b4" stroke-width="0.8"/>
<polygon points="289.96,104.55 288.87,106.39 291.05,106.39" fill="#1428b4" stroke="#1428b4" stroke-width="0.8"/>
<polygon points="290.43,133.33 289.33,135.17 291.52,135.17" fill="#1428b4" stroke="#1428b4" stroke-width="0.8"/>
<polygon points="290.89,155.12 289.80,156.96 291.98,156.96" fill="#1428b4" stroke="#1428b4" stroke-width="0.8"/>
<polygon points="291.36,168.24 290.27,170.08 292.45,170.08" fill="#1428b4" stroke="#1428b4" stroke-width="0.8"/>
<polygon points="291.82,169.46 290.73,171.30 292.92,171.30" fill="#1428b4" stroke="#1428b4" stroke-width="0.8"/>
<polygon points="292.29,170.69 291.20,172.53 293.38,172.53" fill="#1428b4" stroke="#1428b4" stroke-width="0.8"/>
<polygon points="292.76,170.69 291.67,172.53 293.85,172.53" fill="#1428b4" stroke="#1428b4" stroke-width="0.8"/>
<polygon points="293.22,170.69 292.13,172.53 294.32,172.53" fill="#1428b4" stroke="#1428b4" stroke-width="0.8"/>
<polygon points="293.69,170.69 292.60,172.53 294.78,172.53" fill="#1428b4" stroke="#1428b4" stroke-width="0.8"/>
<polygon points="294.16,170.69 293.06,172.53 295.25,172.53" fill="#1428b4" stroke="#1428b4" stroke-width="0.8"/>
<polygon points="294.62,170.69 293.53,172.53 295.71,172.53" fill="#1428b4" stroke="#1428b4" stroke-width="0.8"/>
<polygon points="295.09,170.69 294.00,172.53 296.18,172.53" fill="#1428b4" stroke="#1428b4" stroke-width="0.8"/>
<polygon points="295.56,170.69 294.46,172.53 296.65,172.53" fill="#1428b4" stroke="#1428b4" stroke-width="0.8"/>
<polygon points="296.02,170.69 294.93,172.53 297.11,172.53" fill="#1428b4" stroke="#1428b4" stroke-width="0.8"/>
<polygon points="296.49,170.69 295.40,172.53 297.58,172.53" fill="#1428b4" stroke="#1428b4" stroke-width="0.8"/>
<polygon points="296.95,170.70 295.86,172.54 298.05,172.54" fill="#1428b4" stroke="#1428b4" stroke-width="0.8"/>
<polygon points="297.42,170.70 296.33,172.54 298.51,172.54" fill="#1428b4" stroke="#1428b4" stroke-width="0.8"/>
<polygon points="297.89,170.70 296.79,172.54 298.98,172.54" fill="#1428b4" stroke="#1428b4" stroke-width="0.8"/>
<polygon points="298.35,170.70 297.26,172.54 299.44,172.54" fill="#1428b4" stroke="#1428b4" stroke-width="0.8"/>
<polygon points="301.71,170.70 300.62,172.54 302.80,172.54" fill="#1428b4" stroke="#1428b4" stroke-width="0.8"/>
<polygon points="305.07,170.71 303.97,172.55 306.16,172.55" fill="#1428b4" stroke="#1428b4" stroke-width="0.8"/>
<polygon points="308.42,170.72 307.33,172.56 309.52,172.56" fill="#1428b4" stroke="#1428b4" stroke-width="0.8"/>
<polygon points="311.78,170.72 310.69,172.56 312.87,172.56" fill="#1428b4" stroke="#1428b4" stroke-width="0.8"/>
<polygon points="315.14,170.73 314.05,172.57 316.23,172.57" fill="#1428b4" stroke="#1428b4" stroke-width="0.8"/>
<polygon points="318.49,170.73 317.40,172.57 319.59,172.57" fill="#1428b4" stroke="#1428b4" stroke-width="0.8"/>
<polygon points="321.85,170.74 320.76,172.58 322.94,172.58" fill="#1428b4" stroke="#1428b4" stroke-width="0.8"/>
<polygon points="325.21,170.74 324.12,172.58 326.30,172.58" fill="#1428b4" stroke="#1428b4" stroke-width="0.8"/>
<polygon points="328.57,170.75 327.47,172.59 329.66,172.59" fill="#1428b4" stroke="#1428b4" stroke-width="0.8"/>
<polygon points="331.92,170.76 330.83,172.60 333.01,172.60" fill="#1428b4" stroke="#1428b4" stroke-width="0.8"/>
<polygon points="335.28,170.76 334.19,172.60 336.37,172.60" fill="#1428b4" stroke="#1428b4" stroke-width="0.8"/>
<polygon points="338.64,170.77 337.54,172.61 339.73,172.61" fill="#1428b4" stroke="#1428b4" stroke-width="0.8"/>
<polygon points="341.99,170.77 340.90,172.61 343.09,172.61" fill="#1428b4" stroke="#1428b4" stroke-width="0.8"/>
<polygon points="345.35,170.78 344.26,172.62 346.44,172.62" fill="#1428b4" stroke="#1428b4" stroke-width="0.8"/>
<polygon points="348.71,170.79 347.62,172.63 349.80,172.63" fill="#1428b4" stroke="#1428b4" stroke-width="0.8"/>
<polygon points="352.06,170.79 350.97,172.63 353.16,172.63" fill="#1428b4" stroke="#1428b4" stroke-width="0.8"/>
<polygon points="355.42,170.80 354.33,172.64 356.51,172.64" fill="#1428b4" stroke="#1428b4" stroke-width="0.8"/>
<polygon points="358.78,170.80 357.69,172.64 359.87,172.64" fill="#1428b4" stroke="#1428b4" stroke-width="0.8"/>
<polygon points="362.14,170.81 361.04,172.65 363.23,172.65" fill="#1428b4" stroke="#1428b4" stroke-width="0.8"/>
<polygon points="365.49,170.81 364.40,172.65 366.58,172.65" fill="#1428b4" stroke="#1428b4" stroke-width="0.8"/>
<polygon points="368.85,170.82 367.76,172.66 369.94,172.66" fill="#1428b4" stroke="#1428b4" stroke-width="0.8"/>
<polygon points="372.21,170.83 371.11,172.67 373.30,172.67" fill="#1428b4" stroke="#1428b4" stroke-width="0.8"/>
<polygon points="375.56,170.83 374.47,172.67 376.66,172.67" fill="#1428b4" stroke="#1428b4" stroke-width="0.8"/>
<polygon points="378.92,170.84 377.83,172.68 380.01,172.68" fill="#1428b4" stroke="#1428b4" stroke-width="0.8"/>
<polygon points="382.28,170.84 381.19,172.68 383.37,172.68" fill="#1428b4" stroke="#1428b4" stroke-width="0.8"/>
<polygon points="385.63,170.85 384.54,172.69 386.73,172.69" fill="#1428b4" stroke="#1428b4" stroke-width="0.8"/>
<polygon points="388.99,170.86 387.90,172.70 390.08,172.70" fill="#1428b4" stroke="#1428b4" stroke-width="0.8"/>
<polygon points="392.35,170.86 391.26,172.70 393.44,172.70" fill="#1428b4" stroke="#1428b4" stroke-width="0.8"/>
<polygon points="395.71,170.87 394.61,172.71 396.80,172.71" fill="#1428b4" stroke="#1428b4" stroke-width="0.8"/>
<polygon points="399.06,170.87 397.97,172.71 400.15,172.71" fill="#1428b4" stroke="#1428b4" stroke-width="0.8"/>
<polygon points="402.42,170.88 401.33,172.72 403.51,172.72" fill="#1428b4" stroke="#1428b4" stroke-width="0.8"/>
<polygon points="405.78,170.88 404.68,172.72 406.87,172.72" fill="#1428b4" stroke="#1428b4" stroke-width="0.8"/>
<polygon points="409.13,170.89 408.04,172.73 410.23,172.73" fill="#1428b4" stroke="#1428b4" stroke-width="0.8"/>
<polygon points="412.49,170.90 411.40,172.74 413.58,172.74" fill="#1428b4" stroke="#1428b4" stroke-width="0.8"/>
<polygon points="415.85,170.90 414.75,172.74 416.94,172.74" fill="#1428b4" stroke="#1428b4" stroke-width="0.8"/>
<polygon points="419.20,170.91 418.11,172.75 420.30,172.75" fill="#1428b4" stroke="#1428b4" stroke-width="0.8"/>
<polygon points="422.56,170.91 421.47,172.75 423.65,172.75" fill="#1428b4" stroke="#1428b4" stroke-width="0.8"/>
<polygon points="425.92,170.92 424.83,172.76 427.01,172.76" fill="#1428b4" stroke="#1428b4" stroke-width="0.8"/>
<polygon points="429.28,170.92 428.18,172.76 430.37,172.76" fill="#1428b4" stroke="#1428b4" stroke-width="0.8"/>
<polygon points="432.63,170.93 431.54,172.77 433.72,172.77" fill="#1428b4" stroke="#1428b4" stroke-width="0.8"/>
<polygon points="435.99,170.94 434.90,172.78 437.08,172.78" fill="#1428b4" stroke="#1428b4" stroke-width="0.8"/>
<polygon points="439.35,170.94 438.25,172.78 440.44,172.78" fill="#1428b4" stroke="#1428b4" stroke-width="0.8"/>
<polygon points="442.70,170.95 441.61,172.79 443.80,172.79" fill="#1428b4" stroke="#1428b4" stroke-width="0.8"/>
<polygon points="446.06,170.95 444.97,172.79 447.15,172.79" fill="#1428b4" stroke="#1428b4" stroke-width="0.8"/>
<polygon points="449.42,170.96 448.33,172.80 450.51,172.80" fill="#1428b4" stroke="#1428b4" stroke-width="0.8"/>
<polygon points="452.77,170.97 451.68,172.81 453.87,172.81" fill="#1428b4" stroke="#1428b4" stroke-width="0.8"/>
<polygon points="456.13,170.97 455.04,172.81 457.22,172.81" fill="#1428b4" stroke="#1428b4" stroke-width="0.8"/>
<polygon points="459.49,170.98 458.40,172.82 460.58,172.82" fill="#1428b4" stroke="#1428b4" stroke-width="0.8"/>
<polygon points="462.85,170.98 461.75,172.82 463.94,172.82" fill="#1428b4" stroke="#1428b4" stroke-width="0.8"/>
<polygon points="466.20,170.99 465.11,172.83 467.29,172.83" fill="#1428b4" stroke="#1428b4" stroke-width="0.8"/>
<polygon points="469.56,170.99 468.47,172.83 470.65,172.83" fill="#1428b4" stroke="#1428b4" stroke-width="0.8"/>
<polyline points="285.30,172.45 285.76,172.45 286.23,172.45 286.70,157.14 287.16,141.83 287.63,111.21 287.82,98.96 288.10,87.15 288.47,71.40 288.56,69.51 289.03,60.01 289.40,52.42 289.49,53.38 289.96,58.19 290.05,59.16 290.43,81.90 290.71,98.96 290.89,111.21 291.36,141.83 291.82,158.23 292.01,164.79 292.29,166.75 292.76,170.00 293.22,170.23 293.69,170.46 294.16,170.69 294.62,170.92 295.09,170.94 295.56,170.96 296.02,170.98 296.49,171.01 296.95,171.03 297.42,171.05 297.89,171.07 298.35,171.09 301.71,171.22 305.07,171.16 308.42,171.11 311.78,171.05 315.14,171.00 318.49,170.94 321.85,170.72 325.21,170.39 328.57,170.06 331.92,169.82 335.28,169.60 338.64,169.40 341.99,169.62 345.35,169.84 348.71,170.03 352.06,170.14 355.42,170.25 358.78,170.36 362.14,170.47 365.49,170.58 368.85,170.69 372.21,170.80 375.56,170.91 378.92,170.94 382.28,170.96 385.63,170.98 388.99,171.01 392.35,171.03 395.71,171.05 399.06,171.07 402.42,171.09 405.78,171.12 409.13,171.14 412.49,171.16 415.85,171.18 419.20,171.20 422.56,171.23 425.92,171.25 429.28,171.27 432.63,171.29 435.99,171.31 439.35,171.34 442.70,171.36 446.06,171.38 449.42,171.40 452.77,171.42 456.13,171.45 459.49,171.47 462.85,171.49 466.20,171.51 469.56,171.53" fill="none" stroke="#e8a92a" stroke-width="1.3" stroke-linejoin="round" />
<circle cx="286.70" cy="157.14" r="0.92" fill="#e8a92a" stroke="#e8a92a" stroke-width="0.8"/>
<circle cx="287.16" cy="141.83" r="0.92" fill="#e8a92a" stroke="#e8a92a" stroke-width="0.8"/>
<circle cx="287.63" cy="111.21" r="0.92" fill="#e8a92a" stroke="#e8a92a" stroke-width="0.8"/>
<circle cx="288.10" cy="87.15" r="0.92" fill="#e8a92a" stroke="#e8a92a" stroke-width="0.8"/>
<circle cx="288.56" cy="69.51" r="0.92" fill="#e8a92a" stroke="#e8a92a" stroke-width="0.8"/>
<circle cx="289.03" cy="60.01" r="0.92" fill="#e8a92a" stroke="#e8a92a" stroke-width="0.8"/>
<circle cx="289.49" cy="53.38" r="0.92" fill="#e8a92a" stroke="#e8a92a" stroke-width="0.8"/>
<circle cx="289.96" cy="58.19" r="0.92" fill="#e8a92a" stroke="#e8a92a" stroke-width="0.8"/>
<circle cx="290.43" cy="81.90" r="0.92" fill="#e8a92a" stroke="#e8a92a" stroke-width="0.8"/>
<circle cx="290.89" cy="111.21" r="0.92" fill="#e8a92a" stroke="#e8a92a" stroke-width="0.8"/>
<circle cx="291.36" cy="141.83" r="0.92" fill="#e8a92a" stroke="#e8a92a" stroke-width="0.8"/>
<circle cx="291.82" cy="158.23" r="0.92" fill="#e8a92a" stroke="#e8a92a" stroke-width="0.8"/>
<circle cx="292.29" cy="166.75" r="0.92" fill="#e8a92a" stroke="#e8a92a" stroke-width="0.8"/>
<circle cx="292.76" cy="170.00" r="0.92" fill="#e8a92a" stroke="#e8a92a" stroke-width="0.8"/>
<circle cx="293.22" cy="170.23" r="0.92" fill="#e8a92a" stroke="#e8a92a" stroke-width="0.8"/>
<circle cx="293.69" cy="170.46" r="0.92" fill="#e8a92a" stroke="#e8a92a" stroke-width="0.8"/>
<circle cx="294.16" cy="170.69" r="0.92" fill="#e8a92a" stroke="#e8a92a" stroke-width="0.8"/>
<circle cx="294.62" cy="170.92" r="0.92" fill="#e8a92a" stroke="#e8a92a" stroke-width="0.8"/>
<circle cx="295.09" cy="170.94" r="0.92" fill="#e8a92a" stroke="#e8a92a" stroke-width="0.8"/>
<circle cx="295.56" cy="170.96" r="0.92" fill="#e8a92a" stroke="#e8a92a" stroke-width="0.8"/>
<circle cx="296.02" cy="170.98" r="0.92" fill="#e8a92a" stroke="#e8a92a" stroke-width="0.8"/>
<circle cx="296.49" cy="171.01" r="0.92" fill="#e8a92a" stroke="#e8a92a" stroke-width="0.8"/>
<circle cx="296.95" cy="171.03" r="0.92" fill="#e8a92a" stroke="#e8a92a" stroke-width="0.8"/>
<circle cx="297.42" cy="171.05" r="0.92" fill="#e8a92a" stroke="#e8a92a" stroke-width="0.8"/>
<circle cx="297.89" cy="171.07" r="0.92" fill="#e8a92a" stroke="#e8a92a" stroke-width="0.8"/>
<circle cx="298.35" cy="171.09" r="0.92" fill="#e8a92a" stroke="#e8a92a" stroke-width="0.8"/>
<circle cx="301.71" cy="171.22" r="0.92" fill="#e8a92a" stroke="#e8a92a" stroke-width="0.8"/>
<circle cx="305.07" cy="171.16" r="0.92" fill="#e8a92a" stroke="#e8a92a" stroke-width="0.8"/>
<circle cx="308.42" cy="171.11" r="0.92" fill="#e8a92a" stroke="#e8a92a" stroke-width="0.8"/>
<circle cx="311.78" cy="171.05" r="0.92" fill="#e8a92a" stroke="#e8a92a" stroke-width="0.8"/>
<circle cx="315.14" cy="171.00" r="0.92" fill="#e8a92a" stroke="#e8a92a" stroke-width="0.8"/>
<circle cx="318.49" cy="170.94" r="0.92" fill="#e8a92a" stroke="#e8a92a" stroke-width="0.8"/>
<circle cx="321.85" cy="170.72" r="0.92" fill="#e8a92a" stroke="#e8a92a" stroke-width="0.8"/>
<circle cx="325.21" cy="170.39" r="0.92" fill="#e8a92a" stroke="#e8a92a" stroke-width="0.8"/>
<circle cx="328.57" cy="170.06" r="0.92" fill="#e8a92a" stroke="#e8a92a" stroke-width="0.8"/>
<circle cx="331.92" cy="169.82" r="0.92" fill="#e8a92a" stroke="#e8a92a" stroke-width="0.8"/>
<circle cx="335.28" cy="169.60" r="0.92" fill="#e8a92a" stroke="#e8a92a" stroke-width="0.8"/>
<circle cx="338.64" cy="169.40" r="0.92" fill="#e8a92a" stroke="#e8a92a" stroke-width="0.8"/>
<circle cx="341.99" cy="169.62" r="0.92" fill="#e8a92a" stroke="#e8a92a" stroke-width="0.8"/>
<circle cx="345.35" cy="169.84" r="0.92" fill="#e8a92a" stroke="#e8a92a" stroke-width="0.8"/>
<circle cx="348.71" cy="170.03" r="0.92" fill="#e8a92a" stroke="#e8a92a" stroke-width="0.8"/>
<circle cx="352.06" cy="170.14" r="0.92" fill="#e8a92a" stroke="#e8a92a" stroke-width="0.8"/>
<circle cx="355.42" cy="170.25" r="0.92" fill="#e8a92a" stroke="#e8a92a" stroke-width="0.8"/>
<circle cx="358.78" cy="170.36" r="0.92" fill="#e8a92a" stroke="#e8a92a" stroke-width="0.8"/>
<circle cx="362.14" cy="170.47" r="0.92" fill="#e8a92a" stroke="#e8a92a" stroke-width="0.8"/>
<circle cx="365.49" cy="170.58" r="0.92" fill="#e8a92a" stroke="#e8a92a" stroke-width="0.8"/>
<circle cx="368.85" cy="170.69" r="0.92" fill="#e8a92a" stroke="#e8a92a" stroke-width="0.8"/>
<circle cx="372.21" cy="170.80" r="0.92" fill="#e8a92a" stroke="#e8a92a" stroke-width="0.8"/>
<circle cx="375.56" cy="170.91" r="0.92" fill="#e8a92a" stroke="#e8a92a" stroke-width="0.8"/>
<circle cx="378.92" cy="170.94" r="0.92" fill="#e8a92a" stroke="#e8a92a" stroke-width="0.8"/>
<circle cx="382.28" cy="170.96" r="0.92" fill="#e8a92a" stroke="#e8a92a" stroke-width="0.8"/>
<circle cx="385.63" cy="170.98" r="0.92" fill="#e8a92a" stroke="#e8a92a" stroke-width="0.8"/>
<circle cx="388.99" cy="171.01" r="0.92" fill="#e8a92a" stroke="#e8a92a" stroke-width="0.8"/>
<circle cx="392.35" cy="171.03" r="0.92" fill="#e8a92a" stroke="#e8a92a" stroke-width="0.8"/>
<circle cx="395.71" cy="171.05" r="0.92" fill="#e8a92a" stroke="#e8a92a" stroke-width="0.8"/>
<circle cx="399.06" cy="171.07" r="0.92" fill="#e8a92a" stroke="#e8a92a" stroke-width="0.8"/>
<circle cx="402.42" cy="171.09" r="0.92" fill="#e8a92a" stroke="#e8a92a" stroke-width="0.8"/>
<circle cx="405.78" cy="171.12" r="0.92" fill="#e8a92a" stroke="#e8a92a" stroke-width="0.8"/>
<circle cx="409.13" cy="171.14" r="0.92" fill="#e8a92a" stroke="#e8a92a" stroke-width="0.8"/>
<circle cx="412.49" cy="171.16" r="0.92" fill="#e8a92a" stroke="#e8a92a" stroke-width="0.8"/>
<circle cx="415.85" cy="171.18" r="0.92" fill="#e8a92a" stroke="#e8a92a" stroke-width="0.8"/>
<circle cx="419.20" cy="171.20" r="0.92" fill="#e8a92a" stroke="#e8a92a" stroke-width="0.8"/>
<circle cx="422.56" cy="171.23" r="0.92" fill="#e8a92a" stroke="#e8a92a" stroke-width="0.8"/>
<circle cx="425.92" cy="171.25" r="0.92" fill="#e8a92a" stroke="#e8a92a" stroke-width="0.8"/>
<circle cx="429.28" cy="171.27" r="0.92" fill="#e8a92a" stroke="#e8a92a" stroke-width="0.8"/>
<circle cx="432.63" cy="171.29" r="0.92" fill="#e8a92a" stroke="#e8a92a" stroke-width="0.8"/>
<circle cx="435.99" cy="171.31" r="0.92" fill="#e8a92a" stroke="#e8a92a" stroke-width="0.8"/>
<circle cx="439.35" cy="171.34" r="0.92" fill="#e8a92a" stroke="#e8a92a" stroke-width="0.8"/>
<circle cx="442.70" cy="171.36" r="0.92" fill="#e8a92a" stroke="#e8a92a" stroke-width="0.8"/>
<circle cx="446.06" cy="171.38" r="0.92" fill="#e8a92a" stroke="#e8a92a" stroke-width="0.8"/>
<circle cx="449.42" cy="171.40" r="0.92" fill="#e8a92a" stroke="#e8a92a" stroke-width="0.8"/>
<circle cx="452.77" cy="171.42" r="0.92" fill="#e8a92a" stroke="#e8a92a" stroke-width="0.8"/>
<circle cx="456.13" cy="171.45" r="0.92" fill="#e8a92a" stroke="#e8a92a" stroke-width="0.8"/>
<circle cx="459.49" cy="171.47" r="0.92" fill="#e8a92a" stroke="#e8a92a" stroke-width="0.8"/>
<circle cx="462.85" cy="171.49" r="0.92" fill="#e8a92a" stroke="#e8a92a" stroke-width="0.8"/>
<circle cx="466.20" cy="171.51" r="0.92" fill="#e8a92a" stroke="#e8a92a" stroke-width="0.8"/>
<circle cx="469.56" cy="171.53" r="0.92" fill="#e8a92a" stroke="#e8a92a" stroke-width="0.8"/>
<polyline points="285.30,172.45 285.76,172.45 286.23,172.45 286.70,154.08 287.16,135.71 287.63,109.46 287.82,98.96 288.10,95.90 288.10,95.90 288.56,106.84 288.75,111.21 289.03,128.27 289.40,151.02 289.49,153.64 289.96,166.76 290.05,169.39 290.43,170.34 290.89,171.53 290.89,171.53 291.36,171.56 291.82,171.58 292.29,171.61 292.76,171.63 293.22,171.66 293.69,171.68 294.16,171.71 294.62,171.74 295.09,171.76 295.56,171.79 296.02,171.81 296.49,171.84 296.49,171.84 296.95,171.84 297.42,171.85 297.89,171.86 298.35,171.86 301.71,171.91 305.07,171.95 308.42,171.99 311.78,172.04 315.14,172.08 318.49,172.13 321.85,169.65 325.21,162.89 328.57,157.89 331.92,152.00 335.28,148.78 338.64,150.75 341.99,150.96 345.35,147.16 348.71,147.34 352.06,148.78 355.42,151.44 358.78,154.51 362.14,157.87 365.49,160.69 368.85,163.48 372.21,165.41 375.56,166.57 378.92,167.31 382.28,168.10 385.63,168.83 388.99,169.16 392.35,169.49 395.71,169.82 399.06,170.15 402.42,170.48 405.78,170.66 409.13,170.73 412.49,170.80 415.85,170.88 419.20,170.95 422.56,171.03 425.92,171.10 429.28,171.17 432.63,171.24 435.99,171.30 439.35,171.35 442.70,171.41 446.06,171.46 449.42,171.52 452.77,171.57 456.13,171.63 459.49,171.68 462.85,171.74 466.20,171.79 469.56,171.84" fill="none" stroke="#c4121c" stroke-width="1.3" stroke-linejoin="round" />
<polygon points="285.55,154.08 287.39,152.99 287.39,155.17" fill="#c4121c" stroke="#c4121c" stroke-width="0.8"/>
<polygon points="286.01,135.71 287.85,134.61 287.85,136.80" fill="#c4121c" stroke="#c4121c" stroke-width="0.8"/>
<polygon points="286.48,109.46 288.32,108.37 288.32,110.55" fill="#c4121c" stroke="#c4121c" stroke-width="0.8"/>
<polygon points="286.95,95.90 288.79,94.81 288.79,96.99" fill="#c4121c" stroke="#c4121c" stroke-width="0.8"/>
<polygon points="287.41,106.84 289.25,105.74 289.25,107.93" fill="#c4121c" stroke="#c4121c" stroke-width="0.8"/>
<polygon points="287.88,128.27 289.72,127.18 289.72,129.36" fill="#c4121c" stroke="#c4121c" stroke-width="0.8"/>
<polygon points="288.34,153.64 290.18,152.55 290.18,154.73" fill="#c4121c" stroke="#c4121c" stroke-width="0.8"/>
<polygon points="288.81,166.76 290.65,165.67 290.65,167.86" fill="#c4121c" stroke="#c4121c" stroke-width="0.8"/>
<polygon points="289.28,170.34 291.12,169.25 291.12,171.43" fill="#c4121c" stroke="#c4121c" stroke-width="0.8"/>
<polygon points="289.74,171.53 291.58,170.44 291.58,172.62" fill="#c4121c" stroke="#c4121c" stroke-width="0.8"/>
<polygon points="290.21,171.56 292.05,170.46 292.05,172.65" fill="#c4121c" stroke="#c4121c" stroke-width="0.8"/>
<polygon points="290.68,171.58 292.51,170.49 292.51,172.67" fill="#c4121c" stroke="#c4121c" stroke-width="0.8"/>
<polygon points="291.14,171.61 292.98,170.52 292.98,172.70" fill="#c4121c" stroke="#c4121c" stroke-width="0.8"/>
<polygon points="291.61,171.63 293.45,170.54 293.45,172.73" fill="#c4121c" stroke="#c4121c" stroke-width="0.8"/>
<polygon points="292.07,171.66 293.91,170.57 293.91,172.75" fill="#c4121c" stroke="#c4121c" stroke-width="0.8"/>
<polygon points="292.54,171.68 294.38,170.59 294.38,172.78" fill="#c4121c" stroke="#c4121c" stroke-width="0.8"/>
<polygon points="293.01,171.71 294.85,170.62 294.85,172.80" fill="#c4121c" stroke="#c4121c" stroke-width="0.8"/>
<polygon points="293.47,171.74 295.31,170.64 295.31,172.83" fill="#c4121c" stroke="#c4121c" stroke-width="0.8"/>
<polygon points="293.94,171.76 295.78,170.67 295.78,172.85" fill="#c4121c" stroke="#c4121c" stroke-width="0.8"/>
<polygon points="294.41,171.79 296.25,170.69 296.25,172.88" fill="#c4121c" stroke="#c4121c" stroke-width="0.8"/>
<polygon points="294.87,171.81 296.71,170.72 296.71,172.90" fill="#c4121c" stroke="#c4121c" stroke-width="0.8"/>
<polygon points="295.34,171.84 297.18,170.75 297.18,172.93" fill="#c4121c" stroke="#c4121c" stroke-width="0.8"/>
<polygon points="295.80,171.84 297.64,170.75 297.64,172.94" fill="#c4121c" stroke="#c4121c" stroke-width="0.8"/>
<polygon points="296.27,171.85 298.11,170.76 298.11,172.94" fill="#c4121c" stroke="#c4121c" stroke-width="0.8"/>
<polygon points="296.74,171.86 298.58,170.76 298.58,172.95" fill="#c4121c" stroke="#c4121c" stroke-width="0.8"/>
<polygon points="297.20,171.86 299.04,170.77 299.04,172.95" fill="#c4121c" stroke="#c4121c" stroke-width="0.8"/>
<polygon points="300.56,171.91 302.40,170.81 302.40,173.00" fill="#c4121c" stroke="#c4121c" stroke-width="0.8"/>
<polygon points="303.92,171.95 305.76,170.86 305.76,173.04" fill="#c4121c" stroke="#c4121c" stroke-width="0.8"/>
<polygon points="307.27,171.99 309.11,170.90 309.11,173.09" fill="#c4121c" stroke="#c4121c" stroke-width="0.8"/>
<polygon points="310.63,172.04 312.47,170.95 312.47,173.13" fill="#c4121c" stroke="#c4121c" stroke-width="0.8"/>
<polygon points="313.99,172.08 315.83,170.99 315.83,173.18" fill="#c4121c" stroke="#c4121c" stroke-width="0.8"/>
<polygon points="317.34,172.13 319.18,171.03 319.18,173.22" fill="#c4121c" stroke="#c4121c" stroke-width="0.8"/>
<polygon points="320.70,169.65 322.54,168.56 322.54,170.74" fill="#c4121c" stroke="#c4121c" stroke-width="0.8"/>
<polygon points="324.06,162.89 325.90,161.80 325.90,163.98" fill="#c4121c" stroke="#c4121c" stroke-width="0.8"/>
<polygon points="327.42,157.89 329.26,156.80 329.26,158.98" fill="#c4121c" stroke="#c4121c" stroke-width="0.8"/>
<polygon points="330.77,152.00 332.61,150.91 332.61,153.09" fill="#c4121c" stroke="#c4121c" stroke-width="0.8"/>
<polygon points="334.13,148.78 335.97,147.69 335.97,149.87" fill="#c4121c" stroke="#c4121c" stroke-width="0.8"/>
<polygon points="337.49,150.75 339.33,149.65 339.33,151.84" fill="#c4121c" stroke="#c4121c" stroke-width="0.8"/>
<polygon points="340.84,150.96 342.68,149.87 342.68,152.06" fill="#c4121c" stroke="#c4121c" stroke-width="0.8"/>
<polygon points="344.20,147.16 346.04,146.07 346.04,148.25" fill="#c4121c" stroke="#c4121c" stroke-width="0.8"/>
<polygon points="347.56,147.34 349.40,146.25 349.40,148.43" fill="#c4121c" stroke="#c4121c" stroke-width="0.8"/>
<polygon points="350.91,148.78 352.75,147.69 352.75,149.87" fill="#c4121c" stroke="#c4121c" stroke-width="0.8"/>
<polygon points="354.27,151.44 356.11,150.35 356.11,152.53" fill="#c4121c" stroke="#c4121c" stroke-width="0.8"/>
<polygon points="357.63,154.51 359.47,153.42 359.47,155.60" fill="#c4121c" stroke="#c4121c" stroke-width="0.8"/>
<polygon points="360.99,157.87 362.83,156.78 362.83,158.96" fill="#c4121c" stroke="#c4121c" stroke-width="0.8"/>
<polygon points="364.34,160.69 366.18,159.60 366.18,161.78" fill="#c4121c" stroke="#c4121c" stroke-width="0.8"/>
<polygon points="367.70,163.48 369.54,162.39 369.54,164.57" fill="#c4121c" stroke="#c4121c" stroke-width="0.8"/>
<polygon points="371.06,165.41 372.90,164.31 372.90,166.50" fill="#c4121c" stroke="#c4121c" stroke-width="0.8"/>
<polygon points="374.41,166.57 376.25,165.48 376.25,167.66" fill="#c4121c" stroke="#c4121c" stroke-width="0.8"/>
<polygon points="377.77,167.31 379.61,166.22 379.61,168.40" fill="#c4121c" stroke="#c4121c" stroke-width="0.8"/>
<polygon points="381.13,168.10 382.97,167.00 382.97,169.19" fill="#c4121c" stroke="#c4121c" stroke-width="0.8"/>
<polygon points="384.48,168.83 386.32,167.74 386.32,169.92" fill="#c4121c" stroke="#c4121c" stroke-width="0.8"/>
<polygon points="387.84,169.16 389.68,168.07 389.68,170.25" fill="#c4121c" stroke="#c4121c" stroke-width="0.8"/>
<polygon points="391.20,169.49 393.04,168.40 393.04,170.58" fill="#c4121c" stroke="#c4121c" stroke-width="0.8"/>
<polygon points="394.56,169.82 396.40,168.73 396.40,170.92" fill="#c4121c" stroke="#c4121c" stroke-width="0.8"/>
<polygon points="397.91,170.15 399.75,169.06 399.75,171.25" fill="#c4121c" stroke="#c4121c" stroke-width="0.8"/>
<polygon points="401.27,170.48 403.11,169.39 403.11,171.58" fill="#c4121c" stroke="#c4121c" stroke-width="0.8"/>
<polygon points="404.63,170.66 406.47,169.57 406.47,171.75" fill="#c4121c" stroke="#c4121c" stroke-width="0.8"/>
<polygon points="407.98,170.73 409.82,169.64 409.82,171.82" fill="#c4121c" stroke="#c4121c" stroke-width="0.8"/>
<polygon points="411.34,170.80 413.18,169.71 413.18,171.90" fill="#c4121c" stroke="#c4121c" stroke-width="0.8"/>
<polygon points="414.70,170.88 416.54,169.79 416.54,171.97" fill="#c4121c" stroke="#c4121c" stroke-width="0.8"/>
<polygon points="418.05,170.95 419.89,169.86 419.89,172.04" fill="#c4121c" stroke="#c4121c" stroke-width="0.8"/>
<polygon points="421.41,171.03 423.25,169.93 423.25,172.12" fill="#c4121c" stroke="#c4121c" stroke-width="0.8"/>
<polygon points="424.77,171.10 426.61,170.01 426.61,172.19" fill="#c4121c" stroke="#c4121c" stroke-width="0.8"/>
<polygon points="428.13,171.17 429.97,170.08 429.97,172.26" fill="#c4121c" stroke="#c4121c" stroke-width="0.8"/>
<polygon points="431.48,171.24 433.32,170.15 433.32,172.33" fill="#c4121c" stroke="#c4121c" stroke-width="0.8"/>
<polygon points="434.84,171.30 436.68,170.20 436.68,172.39" fill="#c4121c" stroke="#c4121c" stroke-width="0.8"/>
<polygon points="438.20,171.35 440.04,170.26 440.04,172.44" fill="#c4121c" stroke="#c4121c" stroke-width="0.8"/>
<polygon points="441.55,171.41 443.39,170.31 443.39,172.50" fill="#c4121c" stroke="#c4121c" stroke-width="0.8"/>
<polygon points="444.91,171.46 446.75,170.37 446.75,172.55" fill="#c4121c" stroke="#c4121c" stroke-width="0.8"/>
<polygon points="448.27,171.52 450.11,170.42 450.11,172.61" fill="#c4121c" stroke="#c4121c" stroke-width="0.8"/>
<polygon points="451.62,171.57 453.46,170.48 453.46,172.66" fill="#c4121c" stroke="#c4121c" stroke-width="0.8"/>
<polygon points="454.98,171.63 456.82,170.53 456.82,172.72" fill="#c4121c" stroke="#c4121c" stroke-width="0.8"/>
<polygon points="458.34,171.68 460.18,170.59 460.18,172.77" fill="#c4121c" stroke="#c4121c" stroke-width="0.8"/>
<polygon points="461.70,171.74 463.54,170.64 463.54,172.83" fill="#c4121c" stroke="#c4121c" stroke-width="0.8"/>
<polygon points="465.05,171.79 466.89,170.70 466.89,172.88" fill="#c4121c" stroke="#c4121c" stroke-width="0.8"/>
<polygon points="468.41,171.84 470.25,170.75 470.25,172.93" fill="#c4121c" stroke="#c4121c" stroke-width="0.8"/>
<polyline points="285.30,172.45 285.76,172.45 286.23,172.45 286.70,172.45 287.16,172.45 287.63,172.01 287.82,171.84 288.10,169.72 288.56,166.20 288.75,164.79 289.03,162.17 289.40,158.67 289.49,159.03 289.96,160.84 290.43,162.65 290.43,162.65 290.89,164.84 291.36,167.03 291.73,168.78 291.82,168.84 292.29,169.17 292.76,169.50 293.22,169.83 293.69,170.15 294.16,170.48 294.34,170.61 294.62,170.70 295.09,170.84 295.56,170.97 296.02,171.11 296.49,171.25 296.95,171.39 297.42,171.53 297.89,171.64 298.35,171.75 301.71,171.61 305.07,170.54 308.42,169.40 311.78,168.19 315.14,166.68 318.49,164.85 321.85,163.09 325.21,161.43 328.57,159.60 331.92,157.46 335.28,156.19 338.64,158.78 341.99,159.53 345.35,159.84 348.71,160.58 352.06,161.44 355.42,162.30 358.78,163.04 362.14,163.70 365.49,164.36 368.85,164.96 372.21,165.46 375.56,165.96 378.92,166.47 382.28,166.87 385.63,167.23 388.99,167.59 392.35,167.94 395.71,168.25 399.06,168.47 402.42,168.69 405.78,168.91 409.13,169.13 412.49,169.35 415.85,169.53 419.20,169.69 422.56,169.86 425.92,170.02 429.28,170.19 432.63,170.32 435.99,170.38 439.35,170.43 442.70,170.49 446.06,170.54 449.42,170.60 452.77,170.65 456.13,170.71 459.49,170.76 462.85,170.82 466.20,170.87 469.56,170.92" fill="none" stroke="#3c3c3c" stroke-width="1.3" stroke-linejoin="round" />
<polygon points="287.63,170.86 288.55,172.01 287.63,173.16 286.71,172.01" fill="#3c3c3c" stroke="#3c3c3c" stroke-width="0.8"/>
<polygon points="288.10,168.57 289.02,169.72 288.10,170.87 287.18,169.72" fill="#3c3c3c" stroke="#3c3c3c" stroke-width="0.8"/>
<polygon points="288.56,165.05 289.48,166.20 288.56,167.35 287.64,166.20" fill="#3c3c3c" stroke="#3c3c3c" stroke-width="0.8"/>
<polygon points="289.03,161.02 289.95,162.17 289.03,163.32 288.11,162.17" fill="#3c3c3c" stroke="#3c3c3c" stroke-width="0.8"/>
<polygon points="289.49,157.88 290.41,159.03 289.49,160.18 288.57,159.03" fill="#3c3c3c" stroke="#3c3c3c" stroke-width="0.8"/>
<polygon points="289.96,159.69 290.88,160.84 289.96,161.99 289.04,160.84" fill="#3c3c3c" stroke="#3c3c3c" stroke-width="0.8"/>
<polygon points="290.43,161.50 291.35,162.65 290.43,163.80 289.51,162.65" fill="#3c3c3c" stroke="#3c3c3c" stroke-width="0.8"/>
<polygon points="290.89,163.69 291.81,164.84 290.89,165.99 289.97,164.84" fill="#3c3c3c" stroke="#3c3c3c" stroke-width="0.8"/>
<polygon points="291.36,165.88 292.28,167.03 291.36,168.18 290.44,167.03" fill="#3c3c3c" stroke="#3c3c3c" stroke-width="0.8"/>
<polygon points="291.82,167.69 292.75,168.84 291.82,169.99 290.90,168.84" fill="#3c3c3c" stroke="#3c3c3c" stroke-width="0.8"/>
<polygon points="292.29,168.02 293.21,169.17 292.29,170.32 291.37,169.17" fill="#3c3c3c" stroke="#3c3c3c" stroke-width="0.8"/>
<polygon points="292.76,168.35 293.68,169.50 292.76,170.65 291.84,169.50" fill="#3c3c3c" stroke="#3c3c3c" stroke-width="0.8"/>
<polygon points="293.22,168.68 294.14,169.83 293.22,170.98 292.30,169.83" fill="#3c3c3c" stroke="#3c3c3c" stroke-width="0.8"/>
<polygon points="293.69,169.00 294.61,170.15 293.69,171.30 292.77,170.15" fill="#3c3c3c" stroke="#3c3c3c" stroke-width="0.8"/>
<polygon points="294.16,169.33 295.08,170.48 294.16,171.63 293.24,170.48" fill="#3c3c3c" stroke="#3c3c3c" stroke-width="0.8"/>
<polygon points="294.62,169.55 295.54,170.70 294.62,171.85 293.70,170.70" fill="#3c3c3c" stroke="#3c3c3c" stroke-width="0.8"/>
<polygon points="295.09,169.69 296.01,170.84 295.09,171.99 294.17,170.84" fill="#3c3c3c" stroke="#3c3c3c" stroke-width="0.8"/>
<polygon points="295.56,169.82 296.48,170.97 295.56,172.12 294.63,170.97" fill="#3c3c3c" stroke="#3c3c3c" stroke-width="0.8"/>
<polygon points="296.02,169.96 296.94,171.11 296.02,172.26 295.10,171.11" fill="#3c3c3c" stroke="#3c3c3c" stroke-width="0.8"/>
<polygon points="296.49,170.10 297.41,171.25 296.49,172.40 295.57,171.25" fill="#3c3c3c" stroke="#3c3c3c" stroke-width="0.8"/>
<polygon points="296.95,170.24 297.87,171.39 296.95,172.54 296.03,171.39" fill="#3c3c3c" stroke="#3c3c3c" stroke-width="0.8"/>
<polygon points="297.42,170.38 298.34,171.53 297.42,172.68 296.50,171.53" fill="#3c3c3c" stroke="#3c3c3c" stroke-width="0.8"/>
<polygon points="297.89,170.49 298.81,171.64 297.89,172.79 296.97,171.64" fill="#3c3c3c" stroke="#3c3c3c" stroke-width="0.8"/>
<polygon points="298.35,170.60 299.27,171.75 298.35,172.90 297.43,171.75" fill="#3c3c3c" stroke="#3c3c3c" stroke-width="0.8"/>
<polygon points="301.71,170.46 302.63,171.61 301.71,172.76 300.79,171.61" fill="#3c3c3c" stroke="#3c3c3c" stroke-width="0.8"/>
<polygon points="305.07,169.39 305.99,170.54 305.07,171.69 304.15,170.54" fill="#3c3c3c" stroke="#3c3c3c" stroke-width="0.8"/>
<polygon points="308.42,168.25 309.34,169.40 308.42,170.55 307.50,169.40" fill="#3c3c3c" stroke="#3c3c3c" stroke-width="0.8"/>
<polygon points="311.78,167.04 312.70,168.19 311.78,169.34 310.86,168.19" fill="#3c3c3c" stroke="#3c3c3c" stroke-width="0.8"/>
<polygon points="315.14,165.53 316.06,166.68 315.14,167.83 314.22,166.68" fill="#3c3c3c" stroke="#3c3c3c" stroke-width="0.8"/>
<polygon points="318.49,163.70 319.41,164.85 318.49,166.00 317.57,164.85" fill="#3c3c3c" stroke="#3c3c3c" stroke-width="0.8"/>
<polygon points="321.85,161.94 322.77,163.09 321.85,164.24 320.93,163.09" fill="#3c3c3c" stroke="#3c3c3c" stroke-width="0.8"/>
<polygon points="325.21,160.28 326.13,161.43 325.21,162.58 324.29,161.43" fill="#3c3c3c" stroke="#3c3c3c" stroke-width="0.8"/>
<polygon points="328.57,158.45 329.49,159.60 328.57,160.75 327.65,159.60" fill="#3c3c3c" stroke="#3c3c3c" stroke-width="0.8"/>
<polygon points="331.92,156.31 332.84,157.46 331.92,158.61 331.00,157.46" fill="#3c3c3c" stroke="#3c3c3c" stroke-width="0.8"/>
<polygon points="335.28,155.04 336.20,156.19 335.28,157.34 334.36,156.19" fill="#3c3c3c" stroke="#3c3c3c" stroke-width="0.8"/>
<polygon points="338.64,157.63 339.56,158.78 338.64,159.93 337.72,158.78" fill="#3c3c3c" stroke="#3c3c3c" stroke-width="0.8"/>
<polygon points="341.99,158.38 342.91,159.53 341.99,160.68 341.07,159.53" fill="#3c3c3c" stroke="#3c3c3c" stroke-width="0.8"/>
<polygon points="345.35,158.69 346.27,159.84 345.35,160.99 344.43,159.84" fill="#3c3c3c" stroke="#3c3c3c" stroke-width="0.8"/>
<polygon points="348.71,159.43 349.63,160.58 348.71,161.73 347.79,160.58" fill="#3c3c3c" stroke="#3c3c3c" stroke-width="0.8"/>
<polygon points="352.06,160.29 352.98,161.44 352.06,162.59 351.14,161.44" fill="#3c3c3c" stroke="#3c3c3c" stroke-width="0.8"/>
<polygon points="355.42,161.15 356.34,162.30 355.42,163.45 354.50,162.30" fill="#3c3c3c" stroke="#3c3c3c" stroke-width="0.8"/>
<polygon points="358.78,161.89 359.70,163.04 358.78,164.19 357.86,163.04" fill="#3c3c3c" stroke="#3c3c3c" stroke-width="0.8"/>
<polygon points="362.14,162.55 363.06,163.70 362.14,164.85 361.22,163.70" fill="#3c3c3c" stroke="#3c3c3c" stroke-width="0.8"/>
<polygon points="365.49,163.21 366.41,164.36 365.49,165.51 364.57,164.36" fill="#3c3c3c" stroke="#3c3c3c" stroke-width="0.8"/>
<polygon points="368.85,163.81 369.77,164.96 368.85,166.11 367.93,164.96" fill="#3c3c3c" stroke="#3c3c3c" stroke-width="0.8"/>
<polygon points="372.21,164.31 373.13,165.46 372.21,166.61 371.29,165.46" fill="#3c3c3c" stroke="#3c3c3c" stroke-width="0.8"/>
<polygon points="375.56,164.81 376.48,165.96 375.56,167.11 374.64,165.96" fill="#3c3c3c" stroke="#3c3c3c" stroke-width="0.8"/>
<polygon points="378.92,165.32 379.84,166.47 378.92,167.62 378.00,166.47" fill="#3c3c3c" stroke="#3c3c3c" stroke-width="0.8"/>
<polygon points="382.28,165.72 383.20,166.87 382.28,168.02 381.36,166.87" fill="#3c3c3c" stroke="#3c3c3c" stroke-width="0.8"/>
<polygon points="385.63,166.08 386.55,167.23 385.63,168.38 384.71,167.23" fill="#3c3c3c" stroke="#3c3c3c" stroke-width="0.8"/>
<polygon points="388.99,166.44 389.91,167.59 388.99,168.74 388.07,167.59" fill="#3c3c3c" stroke="#3c3c3c" stroke-width="0.8"/>
<polygon points="392.35,166.79 393.27,167.94 392.35,169.09 391.43,167.94" fill="#3c3c3c" stroke="#3c3c3c" stroke-width="0.8"/>
<polygon points="395.71,167.10 396.63,168.25 395.71,169.40 394.79,168.25" fill="#3c3c3c" stroke="#3c3c3c" stroke-width="0.8"/>
<polygon points="399.06,167.32 399.98,168.47 399.06,169.62 398.14,168.47" fill="#3c3c3c" stroke="#3c3c3c" stroke-width="0.8"/>
<polygon points="402.42,167.54 403.34,168.69 402.42,169.84 401.50,168.69" fill="#3c3c3c" stroke="#3c3c3c" stroke-width="0.8"/>
<polygon points="405.78,167.76 406.70,168.91 405.78,170.06 404.86,168.91" fill="#3c3c3c" stroke="#3c3c3c" stroke-width="0.8"/>
<polygon points="409.13,167.98 410.05,169.13 409.13,170.28 408.21,169.13" fill="#3c3c3c" stroke="#3c3c3c" stroke-width="0.8"/>
<polygon points="412.49,168.20 413.41,169.35 412.49,170.50 411.57,169.35" fill="#3c3c3c" stroke="#3c3c3c" stroke-width="0.8"/>
<polygon points="415.85,168.38 416.77,169.53 415.85,170.68 414.93,169.53" fill="#3c3c3c" stroke="#3c3c3c" stroke-width="0.8"/>
<polygon points="419.20,168.54 420.12,169.69 419.20,170.84 418.28,169.69" fill="#3c3c3c" stroke="#3c3c3c" stroke-width="0.8"/>
<polygon points="422.56,168.71 423.48,169.86 422.56,171.01 421.64,169.86" fill="#3c3c3c" stroke="#3c3c3c" stroke-width="0.8"/>
<polygon points="425.92,168.87 426.84,170.02 425.92,171.17 425.00,170.02" fill="#3c3c3c" stroke="#3c3c3c" stroke-width="0.8"/>
<polygon points="429.28,169.04 430.20,170.19 429.28,171.34 428.36,170.19" fill="#3c3c3c" stroke="#3c3c3c" stroke-width="0.8"/>
<polygon points="432.63,169.17 433.55,170.32 432.63,171.47 431.71,170.32" fill="#3c3c3c" stroke="#3c3c3c" stroke-width="0.8"/>
<polygon points="435.99,169.23 436.91,170.38 435.99,171.53 435.07,170.38" fill="#3c3c3c" stroke="#3c3c3c" stroke-width="0.8"/>
<polygon points="439.35,169.28 440.27,170.43 439.35,171.58 438.43,170.43" fill="#3c3c3c" stroke="#3c3c3c" stroke-width="0.8"/>
<polygon points="442.70,169.34 443.62,170.49 442.70,171.64 441.78,170.49" fill="#3c3c3c" stroke="#3c3c3c" stroke-width="0.8"/>
<polygon points="446.06,169.39 446.98,170.54 446.06,171.69 445.14,170.54" fill="#3c3c3c" stroke="#3c3c3c" stroke-width="0.8"/>
<polygon points="449.42,169.45 450.34,170.60 449.42,171.75 448.50,170.60" fill="#3c3c3c" stroke="#3c3c3c" stroke-width="0.8"/>
<polygon points="452.77,169.50 453.69,170.65 452.77,171.80 451.85,170.65" fill="#3c3c3c" stroke="#3c3c3c" stroke-width="0.8"/>
<polygon points="456.13,169.56 457.05,170.71 456.13,171.86 455.21,170.71" fill="#3c3c3c" stroke="#3c3c3c" stroke-width="0.8"/>
<polygon points="459.49,169.61 460.41,170.76 459.49,171.91 458.57,170.76" fill="#3c3c3c" stroke="#3c3c3c" stroke-width="0.8"/>
<polygon points="462.85,169.67 463.77,170.82 462.85,171.97 461.93,170.82" fill="#3c3c3c" stroke="#3c3c3c" stroke-width="0.8"/>
<polygon points="466.20,169.72 467.12,170.87 466.20,172.02 465.28,170.87" fill="#3c3c3c" stroke="#3c3c3c" stroke-width="0.8"/>
<polygon points="469.56,169.77 470.48,170.92 469.56,172.07 468.64,170.92" fill="#3c3c3c" stroke="#3c3c3c" stroke-width="0.8"/>
</g>
<rect x="346.4" y="19.35" width="122.60000000000002" height="90.05000000000001" fill="#fff"/>
<path d="M346.4,19.35 V109.4 H469.0" fill="none" stroke="#000" stroke-width="1.1"/>
<line x1="344.59999999999997" y1="109.40" x2="346.4" y2="109.40" stroke="#000" stroke-width="0.9"/>
<text x="343.80" y="112.40" font-size="8.6" text-anchor="end" font-weight="normal" fill="#1e1e1e" >0</text>
<line x1="344.59999999999997" y1="91.00" x2="346.4" y2="91.00" stroke="#000" stroke-width="0.9"/>
<text x="343.80" y="94.00" font-size="8.6" text-anchor="end" font-weight="normal" fill="#1e1e1e" >1</text>
<line x1="344.59999999999997" y1="72.60" x2="346.4" y2="72.60" stroke="#000" stroke-width="0.9"/>
<text x="343.80" y="75.60" font-size="8.6" text-anchor="end" font-weight="normal" fill="#1e1e1e" >2</text>
<line x1="344.59999999999997" y1="54.20" x2="346.4" y2="54.20" stroke="#000" stroke-width="0.9"/>
<text x="343.80" y="57.20" font-size="8.6" text-anchor="end" font-weight="normal" fill="#1e1e1e" >3</text>
<line x1="344.59999999999997" y1="35.80" x2="346.4" y2="35.80" stroke="#000" stroke-width="0.9"/>
<text x="343.80" y="38.80" font-size="8.6" text-anchor="end" font-weight="normal" fill="#1e1e1e" >4</text>
<line x1="345.4" y1="100.20" x2="346.4" y2="100.20" stroke="#000" stroke-width="0.9"/>
<line x1="345.4" y1="81.80" x2="346.4" y2="81.80" stroke="#000" stroke-width="0.9"/>
<line x1="345.4" y1="63.40" x2="346.4" y2="63.40" stroke="#000" stroke-width="0.9"/>
<line x1="345.4" y1="45.00" x2="346.4" y2="45.00" stroke="#000" stroke-width="0.9"/>
<line x1="345.4" y1="26.60" x2="346.4" y2="26.60" stroke="#000" stroke-width="0.9"/>
<line x1="346.40" y1="109.4" x2="346.40" y2="111.2" stroke="#000" stroke-width="0.9"/>
<text x="346.40" y="118.80" font-size="8.6" text-anchor="middle" font-weight="normal" fill="#1e1e1e" >0</text>
<line x1="388.50" y1="109.4" x2="388.50" y2="111.2" stroke="#000" stroke-width="0.9"/>
<text x="388.50" y="118.80" font-size="8.6" text-anchor="middle" font-weight="normal" fill="#1e1e1e" >1</text>
<line x1="430.60" y1="109.4" x2="430.60" y2="111.2" stroke="#000" stroke-width="0.9"/>
<text x="430.60" y="118.80" font-size="8.6" text-anchor="middle" font-weight="normal" fill="#1e1e1e" >2</text>
<line x1="367.45" y1="109.4" x2="367.45" y2="110.4" stroke="#000" stroke-width="0.9"/>
<line x1="409.55" y1="109.4" x2="409.55" y2="110.4" stroke="#000" stroke-width="0.9"/>
<line x1="451.65" y1="109.4" x2="451.65" y2="110.4" stroke="#000" stroke-width="0.9"/>
<clipPath id="iclipb"><rect x="346.4" y="19.35" width="122.60000000000002" height="91.55000000000001"/></clipPath>
<g clip-path="url(#iclipb)">
<polyline points="363.45,109.40 364.92,109.40 366.40,102.83 367.87,96.26 369.13,90.63 369.34,87.75 370.82,67.57 371.66,56.04 372.29,49.69 373.34,39.11 373.76,36.05 374.61,29.91 375.24,33.15 376.71,40.69 377.55,45.00 378.19,51.07 379.66,65.24 380.50,73.34 381.13,78.30 382.61,89.90 383.45,96.52 384.08,98.89 385.55,104.41 386.39,107.56 387.03,107.78 388.50,108.30 389.97,108.81 390.60,109.03 391.45,109.03 392.92,109.03 394.39,109.03 395.87,109.03 397.34,109.03 398.81,109.03 400.29,109.03 401.76,109.03 403.24,109.03 406.18,109.04 409.13,109.04 412.08,109.04 415.02,109.04 417.97,109.04 420.92,109.04 423.86,109.04 426.81,109.04 429.76,109.04 432.70,109.04 435.65,109.04 438.60,109.04 441.55,109.04 444.49,109.04 447.44,109.05 450.39,109.05 453.33,109.05 456.28,109.05 459.23,109.05 462.17,109.05 465.12,109.05 468.07,109.05 471.02,109.05" fill="none" stroke="#1428b4" stroke-width="1.1" stroke-linejoin="round" />
<polygon points="363.45,108.20 362.31,110.12 364.59,110.12" fill="#1428b4" stroke="#1428b4" stroke-width="0.8"/>
<polygon points="366.40,101.63 365.26,103.55 367.54,103.55" fill="#1428b4" stroke="#1428b4" stroke-width="0.8"/>
<polygon points="369.34,86.55 368.20,88.47 370.48,88.47" fill="#1428b4" stroke="#1428b4" stroke-width="0.8"/>
<polygon points="372.29,48.49 371.15,50.41 373.43,50.41" fill="#1428b4" stroke="#1428b4" stroke-width="0.8"/>
<polygon points="375.24,31.95 374.10,33.87 376.38,33.87" fill="#1428b4" stroke="#1428b4" stroke-width="0.8"/>
<polygon points="378.19,49.87 377.05,51.79 379.33,51.79" fill="#1428b4" stroke="#1428b4" stroke-width="0.8"/>
<polygon points="381.13,77.10 379.99,79.02 382.27,79.02" fill="#1428b4" stroke="#1428b4" stroke-width="0.8"/>
<polygon points="384.08,97.69 382.94,99.61 385.22,99.61" fill="#1428b4" stroke="#1428b4" stroke-width="0.8"/>
<polygon points="387.03,106.58 385.89,108.50 388.17,108.50" fill="#1428b4" stroke="#1428b4" stroke-width="0.8"/>
<polygon points="389.97,107.61 388.83,109.53 391.11,109.53" fill="#1428b4" stroke="#1428b4" stroke-width="0.8"/>
<polygon points="392.92,107.83 391.78,109.75 394.06,109.75" fill="#1428b4" stroke="#1428b4" stroke-width="0.8"/>
<polygon points="395.87,107.83 394.73,109.75 397.01,109.75" fill="#1428b4" stroke="#1428b4" stroke-width="0.8"/>
<polygon points="398.81,107.83 397.67,109.75 399.95,109.75" fill="#1428b4" stroke="#1428b4" stroke-width="0.8"/>
<polygon points="401.76,107.83 400.62,109.75 402.90,109.75" fill="#1428b4" stroke="#1428b4" stroke-width="0.8"/>
<polygon points="406.18,107.84 405.04,109.76 407.32,109.76" fill="#1428b4" stroke="#1428b4" stroke-width="0.8"/>
<polygon points="412.08,107.84 410.94,109.76 413.22,109.76" fill="#1428b4" stroke="#1428b4" stroke-width="0.8"/>
<polygon points="417.97,107.84 416.83,109.76 419.11,109.76" fill="#1428b4" stroke="#1428b4" stroke-width="0.8"/>
<polygon points="423.86,107.84 422.72,109.76 425.00,109.76" fill="#1428b4" stroke="#1428b4" stroke-width="0.8"/>
<polygon points="429.76,107.84 428.62,109.76 430.90,109.76" fill="#1428b4" stroke="#1428b4" stroke-width="0.8"/>
<polygon points="435.65,107.84 434.51,109.76 436.79,109.76" fill="#1428b4" stroke="#1428b4" stroke-width="0.8"/>
<polygon points="441.55,107.84 440.41,109.76 442.69,109.76" fill="#1428b4" stroke="#1428b4" stroke-width="0.8"/>
<polygon points="447.44,107.85 446.30,109.77 448.58,109.77" fill="#1428b4" stroke="#1428b4" stroke-width="0.8"/>
<polygon points="453.33,107.85 452.19,109.77 454.47,109.77" fill="#1428b4" stroke="#1428b4" stroke-width="0.8"/>
<polygon points="459.23,107.85 458.09,109.77 460.37,109.77" fill="#1428b4" stroke="#1428b4" stroke-width="0.8"/>
<polygon points="465.12,107.85 463.98,109.77 466.26,109.77" fill="#1428b4" stroke="#1428b4" stroke-width="0.8"/>
<polygon points="471.02,107.85 469.88,109.77 472.16,109.77" fill="#1428b4" stroke="#1428b4" stroke-width="0.8"/>
<polyline points="363.24,109.40 363.45,108.48 364.92,102.04 366.40,95.60 367.45,91.00 367.87,87.32 369.34,74.44 370.40,65.24 370.82,62.87 372.29,54.59 373.34,48.68 373.76,47.54 375.24,43.55 376.71,39.55 377.55,37.27 378.19,38.14 379.66,40.16 380.50,41.32 381.13,46.45 382.61,58.41 383.45,65.24 384.08,70.76 385.55,83.64 386.39,91.00 387.03,93.96 388.50,100.86 389.34,104.80 389.97,105.39 391.45,106.76 392.71,107.93 392.92,107.94 394.39,108.04 395.87,108.14 397.34,108.23 398.81,108.33 400.29,108.42 401.13,108.48 401.76,108.48 403.24,108.49 406.18,108.51 409.13,108.53 412.08,108.55 415.02,108.57 417.97,108.59 420.92,108.60 423.86,108.62 426.81,108.64 429.76,108.66 430.60,108.66 432.70,108.66 435.65,108.65 438.60,108.65 441.55,108.64 444.49,108.63 447.44,108.63 450.39,108.62 453.33,108.61 456.28,108.61 459.23,108.60 462.17,108.59 465.12,108.59 468.07,108.58 471.02,108.58" fill="none" stroke="#e8a92a" stroke-width="1.1" stroke-linejoin="round" />
<circle cx="363.45" cy="108.48" r="0.96" fill="#e8a92a" stroke="#e8a92a" stroke-width="0.8"/>
<circle cx="366.40" cy="95.60" r="0.96" fill="#e8a92a" stroke="#e8a92a" stroke-width="0.8"/>
<circle cx="369.34" cy="74.44" r="0.96" fill="#e8a92a" stroke="#e8a92a" stroke-width="0.8"/>
<circle cx="372.29" cy="54.59" r="0.96" fill="#e8a92a" stroke="#e8a92a" stroke-width="0.8"/>
<circle cx="375.24" cy="43.55" r="0.96" fill="#e8a92a" stroke="#e8a92a" stroke-width="0.8"/>
<circle cx="378.19" cy="38.14" r="0.96" fill="#e8a92a" stroke="#e8a92a" stroke-width="0.8"/>
<circle cx="381.13" cy="46.45" r="0.96" fill="#e8a92a" stroke="#e8a92a" stroke-width="0.8"/>
<circle cx="384.08" cy="70.76" r="0.96" fill="#e8a92a" stroke="#e8a92a" stroke-width="0.8"/>
<circle cx="387.03" cy="93.96" r="0.96" fill="#e8a92a" stroke="#e8a92a" stroke-width="0.8"/>
<circle cx="389.97" cy="105.39" r="0.96" fill="#e8a92a" stroke="#e8a92a" stroke-width="0.8"/>
<circle cx="392.92" cy="107.94" r="0.96" fill="#e8a92a" stroke="#e8a92a" stroke-width="0.8"/>
<circle cx="395.87" cy="108.14" r="0.96" fill="#e8a92a" stroke="#e8a92a" stroke-width="0.8"/>
<circle cx="398.81" cy="108.33" r="0.96" fill="#e8a92a" stroke="#e8a92a" stroke-width="0.8"/>
<circle cx="401.76" cy="108.48" r="0.96" fill="#e8a92a" stroke="#e8a92a" stroke-width="0.8"/>
<circle cx="406.18" cy="108.51" r="0.96" fill="#e8a92a" stroke="#e8a92a" stroke-width="0.8"/>
<circle cx="412.08" cy="108.55" r="0.96" fill="#e8a92a" stroke="#e8a92a" stroke-width="0.8"/>
<circle cx="417.97" cy="108.59" r="0.96" fill="#e8a92a" stroke="#e8a92a" stroke-width="0.8"/>
<circle cx="423.86" cy="108.62" r="0.96" fill="#e8a92a" stroke="#e8a92a" stroke-width="0.8"/>
<circle cx="429.76" cy="108.66" r="0.96" fill="#e8a92a" stroke="#e8a92a" stroke-width="0.8"/>
<circle cx="435.65" cy="108.65" r="0.96" fill="#e8a92a" stroke="#e8a92a" stroke-width="0.8"/>
<circle cx="441.55" cy="108.64" r="0.96" fill="#e8a92a" stroke="#e8a92a" stroke-width="0.8"/>
<circle cx="447.44" cy="108.63" r="0.96" fill="#e8a92a" stroke="#e8a92a" stroke-width="0.8"/>
<circle cx="453.33" cy="108.61" r="0.96" fill="#e8a92a" stroke="#e8a92a" stroke-width="0.8"/>
<circle cx="459.23" cy="108.60" r="0.96" fill="#e8a92a" stroke="#e8a92a" stroke-width="0.8"/>
<circle cx="465.12" cy="108.59" r="0.96" fill="#e8a92a" stroke="#e8a92a" stroke-width="0.8"/>
<circle cx="471.02" cy="108.58" r="0.96" fill="#e8a92a" stroke="#e8a92a" stroke-width="0.8"/>
<polyline points="363.24,109.40 363.45,108.30 364.92,100.57 366.40,92.84 367.45,87.32 367.87,84.17 369.34,73.13 370.40,65.24 370.82,64.63 371.66,63.40 372.29,65.37 373.76,69.97 374.61,72.60 375.24,77.73 376.71,89.69 377.55,96.52 378.19,98.89 379.66,104.41 380.50,107.56 381.13,107.77 382.61,108.28 384.08,108.78 384.29,108.85 385.55,108.86 387.03,108.87 388.50,108.88 389.97,108.89 391.45,108.90 392.92,108.91 394.39,108.92 395.87,108.93 397.34,108.94 398.81,108.95 400.29,108.96 401.76,108.98 403.24,108.99 406.18,109.01 409.13,109.03 409.55,109.03 412.08,109.04 415.02,109.04 417.97,109.05 420.92,109.05 423.86,109.06 426.81,109.06 429.76,109.07 432.70,109.07 435.65,109.08 438.60,109.08 441.55,109.09 444.49,109.09 447.44,109.10 450.39,109.10 453.33,109.11 456.28,109.11 459.23,109.12 462.17,109.12 465.12,109.13 468.07,109.13 471.02,109.14" fill="none" stroke="#c4121c" stroke-width="1.1" stroke-linejoin="round" />
<polygon points="362.25,108.30 364.17,107.16 364.17,109.44" fill="#c4121c" stroke="#c4121c" stroke-width="0.8"/>
<polygon points="365.20,92.84 367.12,91.70 367.12,93.98" fill="#c4121c" stroke="#c4121c" stroke-width="0.8"/>
<polygon points="368.14,73.13 370.06,71.99 370.06,74.27" fill="#c4121c" stroke="#c4121c" stroke-width="0.8"/>
<polygon points="371.09,65.37 373.01,64.23 373.01,66.51" fill="#c4121c" stroke="#c4121c" stroke-width="0.8"/>
<polygon points="374.04,77.73 375.96,76.59 375.96,78.87" fill="#c4121c" stroke="#c4121c" stroke-width="0.8"/>
<polygon points="376.99,98.89 378.91,97.75 378.91,100.03" fill="#c4121c" stroke="#c4121c" stroke-width="0.8"/>
<polygon points="379.93,107.77 381.85,106.63 381.85,108.91" fill="#c4121c" stroke="#c4121c" stroke-width="0.8"/>
<polygon points="382.88,108.78 384.80,107.64 384.80,109.92" fill="#c4121c" stroke="#c4121c" stroke-width="0.8"/>
<polygon points="385.83,108.87 387.75,107.73 387.75,110.01" fill="#c4121c" stroke="#c4121c" stroke-width="0.8"/>
<polygon points="388.77,108.89 390.69,107.75 390.69,110.03" fill="#c4121c" stroke="#c4121c" stroke-width="0.8"/>
<polygon points="391.72,108.91 393.64,107.77 393.64,110.05" fill="#c4121c" stroke="#c4121c" stroke-width="0.8"/>
<polygon points="394.67,108.93 396.59,107.79 396.59,110.07" fill="#c4121c" stroke="#c4121c" stroke-width="0.8"/>
<polygon points="397.61,108.95 399.53,107.81 399.53,110.09" fill="#c4121c" stroke="#c4121c" stroke-width="0.8"/>
<polygon points="400.56,108.98 402.48,107.84 402.48,110.12" fill="#c4121c" stroke="#c4121c" stroke-width="0.8"/>
<polygon points="404.98,109.01 406.90,107.87 406.90,110.15" fill="#c4121c" stroke="#c4121c" stroke-width="0.8"/>
<polygon points="410.88,109.04 412.80,107.90 412.80,110.18" fill="#c4121c" stroke="#c4121c" stroke-width="0.8"/>
<polygon points="416.77,109.05 418.69,107.91 418.69,110.19" fill="#c4121c" stroke="#c4121c" stroke-width="0.8"/>
<polygon points="422.66,109.06 424.58,107.92 424.58,110.20" fill="#c4121c" stroke="#c4121c" stroke-width="0.8"/>
<polygon points="428.56,109.07 430.48,107.93 430.48,110.21" fill="#c4121c" stroke="#c4121c" stroke-width="0.8"/>
<polygon points="434.45,109.08 436.37,107.94 436.37,110.22" fill="#c4121c" stroke="#c4121c" stroke-width="0.8"/>
<polygon points="440.35,109.09 442.27,107.95 442.27,110.23" fill="#c4121c" stroke="#c4121c" stroke-width="0.8"/>
<polygon points="446.24,109.10 448.16,107.96 448.16,110.24" fill="#c4121c" stroke="#c4121c" stroke-width="0.8"/>
<polygon points="452.13,109.11 454.05,107.97 454.05,110.25" fill="#c4121c" stroke="#c4121c" stroke-width="0.8"/>
<polygon points="458.03,109.12 459.95,107.98 459.95,110.26" fill="#c4121c" stroke="#c4121c" stroke-width="0.8"/>
<polygon points="463.92,109.13 465.84,107.99 465.84,110.27" fill="#c4121c" stroke="#c4121c" stroke-width="0.8"/>
<polygon points="469.82,109.14 471.74,108.00 471.74,110.28" fill="#c4121c" stroke="#c4121c" stroke-width="0.8"/>
<polyline points="363.45,109.40 364.92,109.40 366.40,109.40 367.45,109.40 367.87,109.35 369.34,109.16 370.40,109.03 370.82,108.61 372.29,107.13 373.76,105.65 374.61,104.80 375.24,104.01 376.71,102.17 377.55,101.12 378.19,101.45 379.66,102.21 381.13,102.97 382.19,103.51 382.61,103.77 384.08,104.69 385.55,105.61 387.03,106.53 388.08,107.19 388.50,107.23 389.97,107.37 391.45,107.51 392.92,107.65 394.39,107.78 395.87,107.92 397.34,108.06 398.81,108.20 399.87,108.30 400.29,108.31 401.76,108.37 403.24,108.43 406.18,108.55 409.13,108.66 412.08,108.78 413.76,108.85 415.02,108.89 417.97,108.98 420.92,109.07 423.86,109.16 425.55,109.22 426.81,109.16 429.76,109.04 432.70,108.91 435.65,108.79 438.60,108.66 441.55,108.54 444.49,108.41 447.44,108.29 450.39,108.16 453.33,108.04 455.86,107.93 456.28,107.91 459.23,107.77 462.17,107.63 465.12,107.48 468.07,107.34 471.02,107.20" fill="none" stroke="#3c3c3c" stroke-width="1.1" stroke-linejoin="round" />
<polygon points="363.45,108.20 364.41,109.40 363.45,110.60 362.49,109.40" fill="#3c3c3c" stroke="#3c3c3c" stroke-width="0.8"/>
<polygon points="366.40,108.20 367.36,109.40 366.40,110.60 365.44,109.40" fill="#3c3c3c" stroke="#3c3c3c" stroke-width="0.8"/>
<polygon points="369.34,107.96 370.30,109.16 369.34,110.36 368.38,109.16" fill="#3c3c3c" stroke="#3c3c3c" stroke-width="0.8"/>
<polygon points="372.29,105.93 373.25,107.13 372.29,108.33 371.33,107.13" fill="#3c3c3c" stroke="#3c3c3c" stroke-width="0.8"/>
<polygon points="375.24,102.81 376.20,104.01 375.24,105.21 374.28,104.01" fill="#3c3c3c" stroke="#3c3c3c" stroke-width="0.8"/>
<polygon points="378.19,100.25 379.15,101.45 378.19,102.65 377.23,101.45" fill="#3c3c3c" stroke="#3c3c3c" stroke-width="0.8"/>
<polygon points="381.13,101.77 382.09,102.97 381.13,104.17 380.17,102.97" fill="#3c3c3c" stroke="#3c3c3c" stroke-width="0.8"/>
<polygon points="384.08,103.49 385.04,104.69 384.08,105.89 383.12,104.69" fill="#3c3c3c" stroke="#3c3c3c" stroke-width="0.8"/>
<polygon points="387.03,105.33 387.99,106.53 387.03,107.73 386.07,106.53" fill="#3c3c3c" stroke="#3c3c3c" stroke-width="0.8"/>
<polygon points="389.97,106.17 390.93,107.37 389.97,108.57 389.01,107.37" fill="#3c3c3c" stroke="#3c3c3c" stroke-width="0.8"/>
<polygon points="392.92,106.45 393.88,107.65 392.92,108.85 391.96,107.65" fill="#3c3c3c" stroke="#3c3c3c" stroke-width="0.8"/>
<polygon points="395.87,106.72 396.83,107.92 395.87,109.12 394.91,107.92" fill="#3c3c3c" stroke="#3c3c3c" stroke-width="0.8"/>
<polygon points="398.81,107.00 399.77,108.20 398.81,109.40 397.85,108.20" fill="#3c3c3c" stroke="#3c3c3c" stroke-width="0.8"/>
<polygon points="401.76,107.17 402.72,108.37 401.76,109.57 400.80,108.37" fill="#3c3c3c" stroke="#3c3c3c" stroke-width="0.8"/>
<polygon points="406.18,107.35 407.14,108.55 406.18,109.75 405.22,108.55" fill="#3c3c3c" stroke="#3c3c3c" stroke-width="0.8"/>
<polygon points="412.08,107.58 413.04,108.78 412.08,109.98 411.12,108.78" fill="#3c3c3c" stroke="#3c3c3c" stroke-width="0.8"/>
<polygon points="417.97,107.78 418.93,108.98 417.97,110.18 417.01,108.98" fill="#3c3c3c" stroke="#3c3c3c" stroke-width="0.8"/>
<polygon points="423.86,107.96 424.82,109.16 423.86,110.36 422.90,109.16" fill="#3c3c3c" stroke="#3c3c3c" stroke-width="0.8"/>
<polygon points="429.76,107.84 430.72,109.04 429.76,110.24 428.80,109.04" fill="#3c3c3c" stroke="#3c3c3c" stroke-width="0.8"/>
<polygon points="435.65,107.59 436.61,108.79 435.65,109.99 434.69,108.79" fill="#3c3c3c" stroke="#3c3c3c" stroke-width="0.8"/>
<polygon points="441.55,107.34 442.51,108.54 441.55,109.74 440.59,108.54" fill="#3c3c3c" stroke="#3c3c3c" stroke-width="0.8"/>
<polygon points="447.44,107.09 448.40,108.29 447.44,109.49 446.48,108.29" fill="#3c3c3c" stroke="#3c3c3c" stroke-width="0.8"/>
<polygon points="453.33,106.84 454.29,108.04 453.33,109.24 452.37,108.04" fill="#3c3c3c" stroke="#3c3c3c" stroke-width="0.8"/>
<polygon points="459.23,106.57 460.19,107.77 459.23,108.97 458.27,107.77" fill="#3c3c3c" stroke="#3c3c3c" stroke-width="0.8"/>
<polygon points="465.12,106.28 466.08,107.48 465.12,108.68 464.16,107.48" fill="#3c3c3c" stroke="#3c3c3c" stroke-width="0.8"/>
<polygon points="471.02,106.00 471.98,107.20 471.02,108.40 470.06,107.20" fill="#3c3c3c" stroke="#3c3c3c" stroke-width="0.8"/>
</g>
<text x="403.30" y="128.70" font-size="9.4" text-anchor="middle" font-weight="normal" fill="#1e1e1e" >Pore width (nm)</text>
<text x="0" y="0" font-size="9.2" text-anchor="middle" fill="#1e1e1e" transform="translate(332.59999999999997,68.9) rotate(-90)">dv(log d)(cm<tspan font-size="6" dy="-3">3</tspan><tspan dy="3"> nm</tspan><tspan font-size="6" dy="-3">-1</tspan><tspan dy="3"> g</tspan><tspan font-size="6" dy="-3">-1</tspan><tspan dy="3">)</tspan></text>
<line x1="417.0" y1="32.20" x2="427.2" y2="32.20" stroke="#1428b4" stroke-width="1.2"/>
<circle cx="422.1" cy="32.20" r="1.2" fill="#1428b4"/>
<text x="430.70" y="37.10" font-size="14.0" text-anchor="start" font-weight="normal" fill="#1e1e1e" >0h</text>
<line x1="417.0" y1="49.10" x2="427.2" y2="49.10" stroke="#e8a92a" stroke-width="1.2"/>
<circle cx="422.1" cy="49.10" r="1.2" fill="#e8a92a"/>
<text x="430.70" y="54.00" font-size="14.0" text-anchor="start" font-weight="normal" fill="#1e1e1e" >1h</text>
<line x1="417.0" y1="66.00" x2="427.2" y2="66.00" stroke="#c4121c" stroke-width="1.2"/>
<circle cx="422.1" cy="66.00" r="1.2" fill="#c4121c"/>
<text x="430.70" y="70.90" font-size="14.0" text-anchor="start" font-weight="normal" fill="#1e1e1e" >5h</text>
<line x1="417.0" y1="82.90" x2="427.2" y2="82.90" stroke="#3c3c3c" stroke-width="1.2"/>
<circle cx="422.1" cy="82.90" r="1.2" fill="#3c3c3c"/>
<text x="430.70" y="87.80" font-size="14.0" text-anchor="start" font-weight="normal" fill="#1e1e1e" >20h</text>
<text x="281.00" y="11.20" font-size="15.0" text-anchor="start" font-weight="bold" fill="#000" >b</text>
<text x="0" y="0" font-size="15" text-anchor="middle" fill="#1e1e1e" transform="translate(264.8,94.7) rotate(-90)">dv(log d)(cm<tspan font-size="9.6" dy="-5.6">3</tspan><tspan dy="5.6"> nm</tspan><tspan font-size="9.6" dy="-5.6">-1</tspan><tspan dy="5.6"> g</tspan><tspan font-size="9.6" dy="-5.6">-1</tspan><tspan dy="5.6">)</tspan></text>
<text x="375.75" y="202.25" font-size="15" text-anchor="middle" font-weight="normal" fill="#1e1e1e" >Pore width (nm)</text>
<rect x="283.1" y="224.1" width="186.39999999999998" height="152.9" fill="none" stroke="#000" stroke-width="1.3"/>
<line x1="283.10" y1="377.0" x2="283.10" y2="379.6" stroke="#000" stroke-width="1.105"/>
<line x1="320.38" y1="377.0" x2="320.38" y2="379.6" stroke="#000" stroke-width="1.105"/>
<line x1="357.66" y1="377.0" x2="357.66" y2="379.6" stroke="#000" stroke-width="1.105"/>
<line x1="394.94" y1="377.0" x2="394.94" y2="379.6" stroke="#000" stroke-width="1.105"/>
<line x1="432.22" y1="377.0" x2="432.22" y2="379.6" stroke="#000" stroke-width="1.105"/>
<line x1="469.50" y1="377.0" x2="469.50" y2="379.6" stroke="#000" stroke-width="1.105"/>
<line x1="301.74" y1="377.0" x2="301.74" y2="378.5" stroke="#000" stroke-width="1.105"/>
<line x1="339.02" y1="377.0" x2="339.02" y2="378.5" stroke="#000" stroke-width="1.105"/>
<line x1="376.30" y1="377.0" x2="376.30" y2="378.5" stroke="#000" stroke-width="1.105"/>
<line x1="413.58" y1="377.0" x2="413.58" y2="378.5" stroke="#000" stroke-width="1.105"/>
<line x1="450.86" y1="377.0" x2="450.86" y2="378.5" stroke="#000" stroke-width="1.105"/>
<line x1="280.5" y1="377.00" x2="283.1" y2="377.00" stroke="#000" stroke-width="1.105"/>
<line x1="280.5" y1="346.42" x2="283.1" y2="346.42" stroke="#000" stroke-width="1.105"/>
<line x1="280.5" y1="315.84" x2="283.1" y2="315.84" stroke="#000" stroke-width="1.105"/>
<line x1="280.5" y1="285.26" x2="283.1" y2="285.26" stroke="#000" stroke-width="1.105"/>
<line x1="280.5" y1="254.68" x2="283.1" y2="254.68" stroke="#000" stroke-width="1.105"/>
<line x1="280.5" y1="224.10" x2="283.1" y2="224.10" stroke="#000" stroke-width="1.105"/>
<line x1="281.6" y1="361.71" x2="283.1" y2="361.71" stroke="#000" stroke-width="1.105"/>
<line x1="281.6" y1="331.13" x2="283.1" y2="331.13" stroke="#000" stroke-width="1.105"/>
<line x1="281.6" y1="300.55" x2="283.1" y2="300.55" stroke="#000" stroke-width="1.105"/>
<line x1="281.6" y1="269.97" x2="283.1" y2="269.97" stroke="#000" stroke-width="1.105"/>
<line x1="281.6" y1="239.39" x2="283.1" y2="239.39" stroke="#000" stroke-width="1.105"/>
<text x="283.10" y="391.70" font-size="13.2" text-anchor="middle" font-weight="normal" fill="#1e1e1e" >0</text>
<text x="320.38" y="391.70" font-size="13.2" text-anchor="middle" font-weight="normal" fill="#1e1e1e" >4</text>
<text x="357.66" y="391.70" font-size="13.2" text-anchor="middle" font-weight="normal" fill="#1e1e1e" >8</text>
<text x="394.94" y="391.70" font-size="13.2" text-anchor="middle" font-weight="normal" fill="#1e1e1e" >12</text>
<text x="432.22" y="391.70" font-size="13.2" text-anchor="middle" font-weight="normal" fill="#1e1e1e" >16</text>
<text x="469.50" y="391.70" font-size="13.2" text-anchor="middle" font-weight="normal" fill="#1e1e1e" >20</text>
<text x="279.40" y="381.16" font-size="13.2" text-anchor="end" font-weight="normal" fill="#1e1e1e" >0</text>
<text x="279.40" y="350.58" font-size="13.2" text-anchor="end" font-weight="normal" fill="#1e1e1e" >1</text>
<text x="279.40" y="320.00" font-size="13.2" text-anchor="end" font-weight="normal" fill="#1e1e1e" >2</text>
<text x="279.40" y="289.42" font-size="13.2" text-anchor="end" font-weight="normal" fill="#1e1e1e" >3</text>
<text x="279.40" y="258.84" font-size="13.2" text-anchor="end" font-weight="normal" fill="#1e1e1e" >4</text>
<text x="279.40" y="228.26" font-size="13.2" text-anchor="end" font-weight="normal" fill="#1e1e1e" >5</text>
<clipPath id="clipe"><rect x="283.1" y="224.1" width="186.39999999999998" height="154.9"/></clipPath>
<g clip-path="url(#clipe)">
<polyline points="285.90,377.00 286.36,377.00 286.83,377.00 287.29,377.00 287.76,377.00 288.23,377.00 288.69,377.00 289.16,377.00 289.62,366.81 290.09,356.61 290.56,346.42 291.02,325.57 291.49,304.72 291.58,300.55 291.95,293.75 292.42,285.26 292.89,290.82 293.35,296.38 293.45,297.49 293.82,315.84 294.28,338.77 294.38,343.36 294.75,360.84 295.03,373.94 295.22,374.20 295.68,374.83 296.15,375.47 296.15,375.47 296.61,373.94 297.08,372.41 297.55,370.88 298.01,372.41 298.48,373.94 298.94,375.47 302.30,373.94 305.65,373.94 309.01,373.94 312.36,373.94 315.72,373.94 319.08,373.94 322.43,373.45 325.79,372.64 329.14,371.83 332.50,371.03 335.85,370.58 339.21,370.58 342.56,370.58 345.92,370.58 349.27,370.67 352.63,371.00 355.98,371.33 359.34,371.66 362.69,371.99 366.05,372.32 369.40,372.68 372.76,373.04 376.11,373.41 379.47,373.78 382.82,374.15 386.18,374.51 389.53,374.88 392.89,375.25 396.24,375.48 399.60,375.51 402.96,375.54 406.31,375.56 409.67,375.59 413.02,375.62 416.38,375.65 419.73,375.67 423.09,375.70 426.44,375.73 429.80,375.76 433.15,375.78 436.51,375.81 439.86,375.84 443.22,375.87 446.57,375.89 449.93,375.92 453.28,375.95 456.64,375.98 459.99,376.00 463.35,376.03 466.70,376.06 470.06,376.08" fill="none" stroke="#3c3c3c" stroke-width="1.3" stroke-linejoin="round" />
<polygon points="289.62,365.66 290.54,366.81 289.62,367.96 288.70,366.81" fill="#3c3c3c" stroke="#3c3c3c" stroke-width="0.8"/>
<polygon points="290.09,355.46 291.01,356.61 290.09,357.76 289.17,356.61" fill="#3c3c3c" stroke="#3c3c3c" stroke-width="0.8"/>
<polygon points="290.56,345.27 291.48,346.42 290.56,347.57 289.64,346.42" fill="#3c3c3c" stroke="#3c3c3c" stroke-width="0.8"/>
<polygon points="291.02,324.42 291.94,325.57 291.02,326.72 290.10,325.57" fill="#3c3c3c" stroke="#3c3c3c" stroke-width="0.8"/>
<polygon points="291.49,303.57 292.41,304.72 291.49,305.87 290.57,304.72" fill="#3c3c3c" stroke="#3c3c3c" stroke-width="0.8"/>
<polygon points="291.95,292.60 292.87,293.75 291.95,294.90 291.03,293.75" fill="#3c3c3c" stroke="#3c3c3c" stroke-width="0.8"/>
<polygon points="292.42,284.11 293.34,285.26 292.42,286.41 291.50,285.26" fill="#3c3c3c" stroke="#3c3c3c" stroke-width="0.8"/>
<polygon points="292.89,289.67 293.81,290.82 292.89,291.97 291.97,290.82" fill="#3c3c3c" stroke="#3c3c3c" stroke-width="0.8"/>
<polygon points="293.35,295.23 294.27,296.38 293.35,297.53 292.43,296.38" fill="#3c3c3c" stroke="#3c3c3c" stroke-width="0.8"/>
<polygon points="293.82,314.69 294.74,315.84 293.82,316.99 292.90,315.84" fill="#3c3c3c" stroke="#3c3c3c" stroke-width="0.8"/>
<polygon points="294.28,337.62 295.20,338.77 294.28,339.92 293.36,338.77" fill="#3c3c3c" stroke="#3c3c3c" stroke-width="0.8"/>
<polygon points="294.75,359.69 295.67,360.84 294.75,361.99 293.83,360.84" fill="#3c3c3c" stroke="#3c3c3c" stroke-width="0.8"/>
<polygon points="295.22,373.05 296.14,374.20 295.22,375.35 294.30,374.20" fill="#3c3c3c" stroke="#3c3c3c" stroke-width="0.8"/>
<polygon points="295.68,373.68 296.60,374.83 295.68,375.98 294.76,374.83" fill="#3c3c3c" stroke="#3c3c3c" stroke-width="0.8"/>
<polygon points="296.15,374.32 297.07,375.47 296.15,376.62 295.23,375.47" fill="#3c3c3c" stroke="#3c3c3c" stroke-width="0.8"/>
<polygon points="296.61,372.79 297.53,373.94 296.61,375.09 295.69,373.94" fill="#3c3c3c" stroke="#3c3c3c" stroke-width="0.8"/>
<polygon points="297.08,371.26 298.00,372.41 297.08,373.56 296.16,372.41" fill="#3c3c3c" stroke="#3c3c3c" stroke-width="0.8"/>
<polygon points="297.55,369.73 298.47,370.88 297.55,372.03 296.63,370.88" fill="#3c3c3c" stroke="#3c3c3c" stroke-width="0.8"/>
<polygon points="298.01,371.26 298.93,372.41 298.01,373.56 297.09,372.41" fill="#3c3c3c" stroke="#3c3c3c" stroke-width="0.8"/>
<polygon points="298.48,372.79 299.40,373.94 298.48,375.09 297.56,373.94" fill="#3c3c3c" stroke="#3c3c3c" stroke-width="0.8"/>
<polygon points="298.94,374.32 299.86,375.47 298.94,376.62 298.02,375.47" fill="#3c3c3c" stroke="#3c3c3c" stroke-width="0.8"/>
<polygon points="302.30,372.79 303.22,373.94 302.30,375.09 301.38,373.94" fill="#3c3c3c" stroke="#3c3c3c" stroke-width="0.8"/>
<polygon points="305.65,372.79 306.57,373.94 305.65,375.09 304.73,373.94" fill="#3c3c3c" stroke="#3c3c3c" stroke-width="0.8"/>
<polygon points="309.01,372.79 309.93,373.94 309.01,375.09 308.09,373.94" fill="#3c3c3c" stroke="#3c3c3c" stroke-width="0.8"/>
<polygon points="312.36,372.79 313.28,373.94 312.36,375.09 311.44,373.94" fill="#3c3c3c" stroke="#3c3c3c" stroke-width="0.8"/>
<polygon points="315.72,372.79 316.64,373.94 315.72,375.09 314.80,373.94" fill="#3c3c3c" stroke="#3c3c3c" stroke-width="0.8"/>
<polygon points="319.08,372.79 320.00,373.94 319.08,375.09 318.16,373.94" fill="#3c3c3c" stroke="#3c3c3c" stroke-width="0.8"/>
<polygon points="322.43,372.30 323.35,373.45 322.43,374.60 321.51,373.45" fill="#3c3c3c" stroke="#3c3c3c" stroke-width="0.8"/>
<polygon points="325.79,371.49 326.71,372.64 325.79,373.79 324.87,372.64" fill="#3c3c3c" stroke="#3c3c3c" stroke-width="0.8"/>
<polygon points="329.14,370.68 330.06,371.83 329.14,372.98 328.22,371.83" fill="#3c3c3c" stroke="#3c3c3c" stroke-width="0.8"/>
<polygon points="332.50,369.88 333.42,371.03 332.50,372.18 331.58,371.03" fill="#3c3c3c" stroke="#3c3c3c" stroke-width="0.8"/>
<polygon points="335.85,369.43 336.77,370.58 335.85,371.73 334.93,370.58" fill="#3c3c3c" stroke="#3c3c3c" stroke-width="0.8"/>
<polygon points="339.21,369.43 340.13,370.58 339.21,371.73 338.29,370.58" fill="#3c3c3c" stroke="#3c3c3c" stroke-width="0.8"/>
<polygon points="342.56,369.43 343.48,370.58 342.56,371.73 341.64,370.58" fill="#3c3c3c" stroke="#3c3c3c" stroke-width="0.8"/>
<polygon points="345.92,369.43 346.84,370.58 345.92,371.73 345.00,370.58" fill="#3c3c3c" stroke="#3c3c3c" stroke-width="0.8"/>
<polygon points="349.27,369.52 350.19,370.67 349.27,371.82 348.35,370.67" fill="#3c3c3c" stroke="#3c3c3c" stroke-width="0.8"/>
<polygon points="352.63,369.85 353.55,371.00 352.63,372.15 351.71,371.00" fill="#3c3c3c" stroke="#3c3c3c" stroke-width="0.8"/>
<polygon points="355.98,370.18 356.90,371.33 355.98,372.48 355.06,371.33" fill="#3c3c3c" stroke="#3c3c3c" stroke-width="0.8"/>
<polygon points="359.34,370.51 360.26,371.66 359.34,372.81 358.42,371.66" fill="#3c3c3c" stroke="#3c3c3c" stroke-width="0.8"/>
<polygon points="362.69,370.84 363.61,371.99 362.69,373.14 361.77,371.99" fill="#3c3c3c" stroke="#3c3c3c" stroke-width="0.8"/>
<polygon points="366.05,371.17 366.97,372.32 366.05,373.47 365.13,372.32" fill="#3c3c3c" stroke="#3c3c3c" stroke-width="0.8"/>
<polygon points="369.40,371.53 370.32,372.68 369.40,373.83 368.48,372.68" fill="#3c3c3c" stroke="#3c3c3c" stroke-width="0.8"/>
<polygon points="372.76,371.89 373.68,373.04 372.76,374.19 371.84,373.04" fill="#3c3c3c" stroke="#3c3c3c" stroke-width="0.8"/>
<polygon points="376.11,372.26 377.03,373.41 376.11,374.56 375.19,373.41" fill="#3c3c3c" stroke="#3c3c3c" stroke-width="0.8"/>
<polygon points="379.47,372.63 380.39,373.78 379.47,374.93 378.55,373.78" fill="#3c3c3c" stroke="#3c3c3c" stroke-width="0.8"/>
<polygon points="382.82,373.00 383.74,374.15 382.82,375.30 381.90,374.15" fill="#3c3c3c" stroke="#3c3c3c" stroke-width="0.8"/>
<polygon points="386.18,373.36 387.10,374.51 386.18,375.66 385.26,374.51" fill="#3c3c3c" stroke="#3c3c3c" stroke-width="0.8"/>
<polygon points="389.53,373.73 390.45,374.88 389.53,376.03 388.61,374.88" fill="#3c3c3c" stroke="#3c3c3c" stroke-width="0.8"/>
<polygon points="392.89,374.10 393.81,375.25 392.89,376.40 391.97,375.25" fill="#3c3c3c" stroke="#3c3c3c" stroke-width="0.8"/>
<polygon points="396.24,374.33 397.16,375.48 396.24,376.63 395.32,375.48" fill="#3c3c3c" stroke="#3c3c3c" stroke-width="0.8"/>
<polygon points="399.60,374.36 400.52,375.51 399.60,376.66 398.68,375.51" fill="#3c3c3c" stroke="#3c3c3c" stroke-width="0.8"/>
<polygon points="402.96,374.39 403.88,375.54 402.96,376.69 402.04,375.54" fill="#3c3c3c" stroke="#3c3c3c" stroke-width="0.8"/>
<polygon points="406.31,374.41 407.23,375.56 406.31,376.71 405.39,375.56" fill="#3c3c3c" stroke="#3c3c3c" stroke-width="0.8"/>
<polygon points="409.67,374.44 410.59,375.59 409.67,376.74 408.75,375.59" fill="#3c3c3c" stroke="#3c3c3c" stroke-width="0.8"/>
<polygon points="413.02,374.47 413.94,375.62 413.02,376.77 412.10,375.62" fill="#3c3c3c" stroke="#3c3c3c" stroke-width="0.8"/>
<polygon points="416.38,374.50 417.30,375.65 416.38,376.80 415.46,375.65" fill="#3c3c3c" stroke="#3c3c3c" stroke-width="0.8"/>
<polygon points="419.73,374.52 420.65,375.67 419.73,376.82 418.81,375.67" fill="#3c3c3c" stroke="#3c3c3c" stroke-width="0.8"/>
<polygon points="423.09,374.55 424.01,375.70 423.09,376.85 422.17,375.70" fill="#3c3c3c" stroke="#3c3c3c" stroke-width="0.8"/>
<polygon points="426.44,374.58 427.36,375.73 426.44,376.88 425.52,375.73" fill="#3c3c3c" stroke="#3c3c3c" stroke-width="0.8"/>
<polygon points="429.80,374.61 430.72,375.76 429.80,376.91 428.88,375.76" fill="#3c3c3c" stroke="#3c3c3c" stroke-width="0.8"/>
<polygon points="433.15,374.63 434.07,375.78 433.15,376.93 432.23,375.78" fill="#3c3c3c" stroke="#3c3c3c" stroke-width="0.8"/>
<polygon points="436.51,374.66 437.43,375.81 436.51,376.96 435.59,375.81" fill="#3c3c3c" stroke="#3c3c3c" stroke-width="0.8"/>
<polygon points="439.86,374.69 440.78,375.84 439.86,376.99 438.94,375.84" fill="#3c3c3c" stroke="#3c3c3c" stroke-width="0.8"/>
<polygon points="443.22,374.72 444.14,375.87 443.22,377.02 442.30,375.87" fill="#3c3c3c" stroke="#3c3c3c" stroke-width="0.8"/>
<polygon points="446.57,374.74 447.49,375.89 446.57,377.04 445.65,375.89" fill="#3c3c3c" stroke="#3c3c3c" stroke-width="0.8"/>
<polygon points="449.93,374.77 450.85,375.92 449.93,377.07 449.01,375.92" fill="#3c3c3c" stroke="#3c3c3c" stroke-width="0.8"/>
<polygon points="453.28,374.80 454.20,375.95 453.28,377.10 452.36,375.95" fill="#3c3c3c" stroke="#3c3c3c" stroke-width="0.8"/>
<polygon points="456.64,374.83 457.56,375.98 456.64,377.13 455.72,375.98" fill="#3c3c3c" stroke="#3c3c3c" stroke-width="0.8"/>
<polygon points="459.99,374.85 460.91,376.00 459.99,377.15 459.07,376.00" fill="#3c3c3c" stroke="#3c3c3c" stroke-width="0.8"/>
<polygon points="463.35,374.88 464.27,376.03 463.35,377.18 462.43,376.03" fill="#3c3c3c" stroke="#3c3c3c" stroke-width="0.8"/>
<polygon points="466.70,374.91 467.62,376.06 466.70,377.21 465.78,376.06" fill="#3c3c3c" stroke="#3c3c3c" stroke-width="0.8"/>
<polygon points="470.06,374.93 470.98,376.08 470.06,377.23 469.14,376.08" fill="#3c3c3c" stroke="#3c3c3c" stroke-width="0.8"/>
<polyline points="285.90,377.00 286.36,377.00 286.83,377.00 287.29,377.00 287.76,377.00 288.23,377.00 288.69,377.00 288.69,377.00 288.97,376.39 289.16,371.17 289.62,358.13 290.09,345.09 290.56,332.05 291.02,302.44 291.49,272.83 291.58,266.91 291.95,251.38 292.42,231.96 292.51,228.08 292.89,241.53 293.35,258.35 293.45,261.71 293.82,288.87 294.28,322.81 294.38,329.60 294.75,354.94 295.03,373.94 295.22,374.20 295.68,374.83 296.15,375.47 296.15,375.47 296.61,373.94 297.08,372.41 297.55,370.88 298.01,372.41 298.48,373.94 298.94,375.47 302.30,376.39 305.65,376.39 309.01,376.39 312.36,376.39 315.72,376.39 319.08,376.39 322.43,376.39 325.79,376.39 329.14,376.39 332.50,376.33 335.85,376.25 339.21,376.18 342.56,376.11 345.92,376.03 349.27,375.96 352.63,375.89 355.98,375.81 359.34,375.76 362.69,375.72 366.05,375.69 369.40,375.65 372.76,375.61 376.11,375.57 379.47,375.54 382.82,375.50 386.18,375.51 389.53,375.73 392.89,375.95 396.24,376.09 399.60,376.10 402.96,376.12 406.31,376.13 409.67,376.14 413.02,376.16 416.38,376.17 419.73,376.18 423.09,376.20 426.44,376.21 429.80,376.23 433.15,376.24 436.51,376.25 439.86,376.27 443.22,376.28 446.57,376.29 449.93,376.31 453.28,376.32 456.64,376.34 459.99,376.35 463.35,376.36 466.70,376.38 470.06,376.39" fill="none" stroke="#1428b4" stroke-width="1.3" stroke-linejoin="round" />
<polygon points="289.16,370.02 288.07,371.86 290.25,371.86" fill="#1428b4" stroke="#1428b4" stroke-width="0.8"/>
<polygon points="289.62,356.98 288.53,358.82 290.72,358.82" fill="#1428b4" stroke="#1428b4" stroke-width="0.8"/>
<polygon points="290.09,343.94 289.00,345.78 291.18,345.78" fill="#1428b4" stroke="#1428b4" stroke-width="0.8"/>
<polygon points="290.56,330.90 289.46,332.74 291.65,332.74" fill="#1428b4" stroke="#1428b4" stroke-width="0.8"/>
<polygon points="291.02,301.29 289.93,303.13 292.11,303.13" fill="#1428b4" stroke="#1428b4" stroke-width="0.8"/>
<polygon points="291.49,271.68 290.40,273.52 292.58,273.52" fill="#1428b4" stroke="#1428b4" stroke-width="0.8"/>
<polygon points="291.95,250.23 290.86,252.07 293.05,252.07" fill="#1428b4" stroke="#1428b4" stroke-width="0.8"/>
<polygon points="292.42,230.81 291.33,232.65 293.51,232.65" fill="#1428b4" stroke="#1428b4" stroke-width="0.8"/>
<polygon points="292.89,240.38 291.79,242.22 293.98,242.22" fill="#1428b4" stroke="#1428b4" stroke-width="0.8"/>
<polygon points="293.35,257.20 292.26,259.04 294.44,259.04" fill="#1428b4" stroke="#1428b4" stroke-width="0.8"/>
<polygon points="293.82,287.72 292.73,289.56 294.91,289.56" fill="#1428b4" stroke="#1428b4" stroke-width="0.8"/>
<polygon points="294.28,321.66 293.19,323.50 295.38,323.50" fill="#1428b4" stroke="#1428b4" stroke-width="0.8"/>
<polygon points="294.75,353.79 293.66,355.63 295.84,355.63" fill="#1428b4" stroke="#1428b4" stroke-width="0.8"/>
<polygon points="295.22,373.05 294.12,374.89 296.31,374.89" fill="#1428b4" stroke="#1428b4" stroke-width="0.8"/>
<polygon points="295.68,373.68 294.59,375.52 296.77,375.52" fill="#1428b4" stroke="#1428b4" stroke-width="0.8"/>
<polygon points="296.15,374.32 295.06,376.16 297.24,376.16" fill="#1428b4" stroke="#1428b4" stroke-width="0.8"/>
<polygon points="296.61,372.79 295.52,374.63 297.71,374.63" fill="#1428b4" stroke="#1428b4" stroke-width="0.8"/>
<polygon points="297.08,371.26 295.99,373.10 298.17,373.10" fill="#1428b4" stroke="#1428b4" stroke-width="0.8"/>
<polygon points="297.55,369.73 296.45,371.57 298.64,371.57" fill="#1428b4" stroke="#1428b4" stroke-width="0.8"/>
<polygon points="298.01,371.26 296.92,373.10 299.10,373.10" fill="#1428b4" stroke="#1428b4" stroke-width="0.8"/>
<polygon points="298.48,372.79 297.39,374.63 299.57,374.63" fill="#1428b4" stroke="#1428b4" stroke-width="0.8"/>
<polygon points="298.94,374.32 297.85,376.16 300.04,376.16" fill="#1428b4" stroke="#1428b4" stroke-width="0.8"/>
<polygon points="302.30,375.24 301.21,377.08 303.39,377.08" fill="#1428b4" stroke="#1428b4" stroke-width="0.8"/>
<polygon points="305.65,375.24 304.56,377.08 306.75,377.08" fill="#1428b4" stroke="#1428b4" stroke-width="0.8"/>
<polygon points="309.01,375.24 307.92,377.08 310.10,377.08" fill="#1428b4" stroke="#1428b4" stroke-width="0.8"/>
<polygon points="312.36,375.24 311.27,377.08 313.46,377.08" fill="#1428b4" stroke="#1428b4" stroke-width="0.8"/>
<polygon points="315.72,375.24 314.63,377.08 316.81,377.08" fill="#1428b4" stroke="#1428b4" stroke-width="0.8"/>
<polygon points="319.08,375.24 317.98,377.08 320.17,377.08" fill="#1428b4" stroke="#1428b4" stroke-width="0.8"/>
<polygon points="322.43,375.24 321.34,377.08 323.52,377.08" fill="#1428b4" stroke="#1428b4" stroke-width="0.8"/>
<polygon points="325.79,375.24 324.69,377.08 326.88,377.08" fill="#1428b4" stroke="#1428b4" stroke-width="0.8"/>
<polygon points="329.14,375.24 328.05,377.08 330.23,377.08" fill="#1428b4" stroke="#1428b4" stroke-width="0.8"/>
<polygon points="332.50,375.18 331.40,377.02 333.59,377.02" fill="#1428b4" stroke="#1428b4" stroke-width="0.8"/>
<polygon points="335.85,375.10 334.76,376.94 336.94,376.94" fill="#1428b4" stroke="#1428b4" stroke-width="0.8"/>
<polygon points="339.21,375.03 338.11,376.87 340.30,376.87" fill="#1428b4" stroke="#1428b4" stroke-width="0.8"/>
<polygon points="342.56,374.96 341.47,376.80 343.65,376.80" fill="#1428b4" stroke="#1428b4" stroke-width="0.8"/>
<polygon points="345.92,374.88 344.82,376.72 347.01,376.72" fill="#1428b4" stroke="#1428b4" stroke-width="0.8"/>
<polygon points="349.27,374.81 348.18,376.65 350.36,376.65" fill="#1428b4" stroke="#1428b4" stroke-width="0.8"/>
<polygon points="352.63,374.74 351.53,376.58 353.72,376.58" fill="#1428b4" stroke="#1428b4" stroke-width="0.8"/>
<polygon points="355.98,374.66 354.89,376.50 357.07,376.50" fill="#1428b4" stroke="#1428b4" stroke-width="0.8"/>
<polygon points="359.34,374.61 358.25,376.45 360.43,376.45" fill="#1428b4" stroke="#1428b4" stroke-width="0.8"/>
<polygon points="362.69,374.57 361.60,376.41 363.79,376.41" fill="#1428b4" stroke="#1428b4" stroke-width="0.8"/>
<polygon points="366.05,374.54 364.96,376.38 367.14,376.38" fill="#1428b4" stroke="#1428b4" stroke-width="0.8"/>
<polygon points="369.40,374.50 368.31,376.34 370.50,376.34" fill="#1428b4" stroke="#1428b4" stroke-width="0.8"/>
<polygon points="372.76,374.46 371.67,376.30 373.85,376.30" fill="#1428b4" stroke="#1428b4" stroke-width="0.8"/>
<polygon points="376.11,374.42 375.02,376.26 377.21,376.26" fill="#1428b4" stroke="#1428b4" stroke-width="0.8"/>
<polygon points="379.47,374.39 378.38,376.23 380.56,376.23" fill="#1428b4" stroke="#1428b4" stroke-width="0.8"/>
<polygon points="382.82,374.35 381.73,376.19 383.92,376.19" fill="#1428b4" stroke="#1428b4" stroke-width="0.8"/>
<polygon points="386.18,374.36 385.09,376.20 387.27,376.20" fill="#1428b4" stroke="#1428b4" stroke-width="0.8"/>
<polygon points="389.53,374.58 388.44,376.42 390.63,376.42" fill="#1428b4" stroke="#1428b4" stroke-width="0.8"/>
<polygon points="392.89,374.80 391.80,376.64 393.98,376.64" fill="#1428b4" stroke="#1428b4" stroke-width="0.8"/>
<polygon points="396.24,374.94 395.15,376.78 397.34,376.78" fill="#1428b4" stroke="#1428b4" stroke-width="0.8"/>
<polygon points="399.60,374.95 398.51,376.79 400.69,376.79" fill="#1428b4" stroke="#1428b4" stroke-width="0.8"/>
<polygon points="402.96,374.97 401.86,376.81 404.05,376.81" fill="#1428b4" stroke="#1428b4" stroke-width="0.8"/>
<polygon points="406.31,374.98 405.22,376.82 407.40,376.82" fill="#1428b4" stroke="#1428b4" stroke-width="0.8"/>
<polygon points="409.67,374.99 408.57,376.83 410.76,376.83" fill="#1428b4" stroke="#1428b4" stroke-width="0.8"/>
<polygon points="413.02,375.01 411.93,376.85 414.11,376.85" fill="#1428b4" stroke="#1428b4" stroke-width="0.8"/>
<polygon points="416.38,375.02 415.28,376.86 417.47,376.86" fill="#1428b4" stroke="#1428b4" stroke-width="0.8"/>
<polygon points="419.73,375.03 418.64,376.87 420.82,376.87" fill="#1428b4" stroke="#1428b4" stroke-width="0.8"/>
<polygon points="423.09,375.05 421.99,376.89 424.18,376.89" fill="#1428b4" stroke="#1428b4" stroke-width="0.8"/>
<polygon points="426.44,375.06 425.35,376.90 427.53,376.90" fill="#1428b4" stroke="#1428b4" stroke-width="0.8"/>
<polygon points="429.80,375.08 428.70,376.92 430.89,376.92" fill="#1428b4" stroke="#1428b4" stroke-width="0.8"/>
<polygon points="433.15,375.09 432.06,376.93 434.24,376.93" fill="#1428b4" stroke="#1428b4" stroke-width="0.8"/>
<polygon points="436.51,375.10 435.41,376.94 437.60,376.94" fill="#1428b4" stroke="#1428b4" stroke-width="0.8"/>
<polygon points="439.86,375.12 438.77,376.96 440.95,376.96" fill="#1428b4" stroke="#1428b4" stroke-width="0.8"/>
<polygon points="443.22,375.13 442.13,376.97 444.31,376.97" fill="#1428b4" stroke="#1428b4" stroke-width="0.8"/>
<polygon points="446.57,375.14 445.48,376.98 447.67,376.98" fill="#1428b4" stroke="#1428b4" stroke-width="0.8"/>
<polygon points="449.93,375.16 448.84,377.00 451.02,377.00" fill="#1428b4" stroke="#1428b4" stroke-width="0.8"/>
<polygon points="453.28,375.17 452.19,377.01 454.38,377.01" fill="#1428b4" stroke="#1428b4" stroke-width="0.8"/>
<polygon points="456.64,375.19 455.55,377.03 457.73,377.03" fill="#1428b4" stroke="#1428b4" stroke-width="0.8"/>
<polygon points="459.99,375.20 458.90,377.04 461.09,377.04" fill="#1428b4" stroke="#1428b4" stroke-width="0.8"/>
<polygon points="463.35,375.21 462.26,377.05 464.44,377.05" fill="#1428b4" stroke="#1428b4" stroke-width="0.8"/>
<polygon points="466.70,375.23 465.61,377.07 467.80,377.07" fill="#1428b4" stroke="#1428b4" stroke-width="0.8"/>
<polygon points="470.06,375.24 468.97,377.08 471.15,377.08" fill="#1428b4" stroke="#1428b4" stroke-width="0.8"/>
<polyline points="285.90,377.00 286.36,377.00 286.83,377.00 287.29,377.00 287.76,377.00 288.23,377.00 288.69,377.00 288.69,377.00 289.16,367.06 289.62,357.12 290.09,347.18 290.56,337.25 291.02,309.45 291.49,281.65 291.58,276.09 291.95,269.46 292.42,261.18 292.70,256.21 292.89,259.65 293.35,268.25 293.45,269.97 293.82,295.66 294.28,327.77 294.38,334.19 294.75,356.90 295.03,373.94 295.22,374.20 295.68,374.83 296.15,375.47 296.15,375.47 296.61,373.33 297.08,371.19 297.55,369.05 298.01,371.19 298.48,373.33 298.94,375.47 302.30,375.77 305.65,375.71 309.01,375.66 312.36,375.60 315.72,375.55 319.08,375.49 322.43,375.30 325.79,375.03 329.14,374.75 332.50,374.48 335.85,374.20 339.21,373.93 342.56,373.65 345.92,373.38 349.27,373.10 352.63,372.83 355.98,372.55 359.34,372.41 362.69,372.41 366.05,372.41 369.40,372.41 372.76,372.41 376.11,372.41 379.47,372.67 382.82,372.95 386.18,373.22 389.53,373.50 392.89,373.77 396.24,374.01 399.60,374.17 402.96,374.34 406.31,374.50 409.67,374.67 413.02,374.83 416.38,374.89 419.73,374.93 423.09,374.96 426.44,375.00 429.80,375.04 433.15,375.07 436.51,375.11 439.86,375.15 443.22,375.18 446.57,375.22 449.93,375.26 453.28,375.29 456.64,375.33 459.99,375.37 463.35,375.40 466.70,375.44 470.06,375.47" fill="none" stroke="#c4121c" stroke-width="1.3" stroke-linejoin="round" />
<polygon points="288.01,367.06 289.85,365.97 289.85,368.15" fill="#c4121c" stroke="#c4121c" stroke-width="0.8"/>
<polygon points="288.47,357.12 290.31,356.03 290.31,358.22" fill="#c4121c" stroke="#c4121c" stroke-width="0.8"/>
<polygon points="288.94,347.18 290.78,346.09 290.78,348.28" fill="#c4121c" stroke="#c4121c" stroke-width="0.8"/>
<polygon points="289.41,337.25 291.25,336.15 291.25,338.34" fill="#c4121c" stroke="#c4121c" stroke-width="0.8"/>
<polygon points="289.87,309.45 291.71,308.35 291.71,310.54" fill="#c4121c" stroke="#c4121c" stroke-width="0.8"/>
<polygon points="290.34,281.65 292.18,280.55 292.18,282.74" fill="#c4121c" stroke="#c4121c" stroke-width="0.8"/>
<polygon points="290.80,269.46 292.64,268.37 292.64,270.55" fill="#c4121c" stroke="#c4121c" stroke-width="0.8"/>
<polygon points="291.27,261.18 293.11,260.09 293.11,262.27" fill="#c4121c" stroke="#c4121c" stroke-width="0.8"/>
<polygon points="291.74,259.65 293.58,258.56 293.58,260.74" fill="#c4121c" stroke="#c4121c" stroke-width="0.8"/>
<polygon points="292.20,268.25 294.04,267.16 294.04,269.34" fill="#c4121c" stroke="#c4121c" stroke-width="0.8"/>
<polygon points="292.67,295.66 294.51,294.56 294.51,296.75" fill="#c4121c" stroke="#c4121c" stroke-width="0.8"/>
<polygon points="293.13,327.77 294.97,326.67 294.97,328.86" fill="#c4121c" stroke="#c4121c" stroke-width="0.8"/>
<polygon points="293.60,356.90 295.44,355.81 295.44,358.00" fill="#c4121c" stroke="#c4121c" stroke-width="0.8"/>
<polygon points="294.07,374.20 295.91,373.10 295.91,375.29" fill="#c4121c" stroke="#c4121c" stroke-width="0.8"/>
<polygon points="294.53,374.83 296.37,373.74 296.37,375.93" fill="#c4121c" stroke="#c4121c" stroke-width="0.8"/>
<polygon points="295.00,375.47 296.84,374.38 296.84,376.56" fill="#c4121c" stroke="#c4121c" stroke-width="0.8"/>
<polygon points="295.46,373.33 297.30,372.24 297.30,374.42" fill="#c4121c" stroke="#c4121c" stroke-width="0.8"/>
<polygon points="295.93,371.19 297.77,370.10 297.77,372.28" fill="#c4121c" stroke="#c4121c" stroke-width="0.8"/>
<polygon points="296.40,369.05 298.24,367.96 298.24,370.14" fill="#c4121c" stroke="#c4121c" stroke-width="0.8"/>
<polygon points="296.86,371.19 298.70,370.10 298.70,372.28" fill="#c4121c" stroke="#c4121c" stroke-width="0.8"/>
<polygon points="297.33,373.33 299.17,372.24 299.17,374.42" fill="#c4121c" stroke="#c4121c" stroke-width="0.8"/>
<polygon points="297.79,375.47 299.63,374.38 299.63,376.56" fill="#c4121c" stroke="#c4121c" stroke-width="0.8"/>
<polygon points="301.15,375.77 302.99,374.68 302.99,376.86" fill="#c4121c" stroke="#c4121c" stroke-width="0.8"/>
<polygon points="304.50,375.71 306.34,374.62 306.34,376.81" fill="#c4121c" stroke="#c4121c" stroke-width="0.8"/>
<polygon points="307.86,375.66 309.70,374.57 309.70,376.75" fill="#c4121c" stroke="#c4121c" stroke-width="0.8"/>
<polygon points="311.21,375.60 313.05,374.51 313.05,376.69" fill="#c4121c" stroke="#c4121c" stroke-width="0.8"/>
<polygon points="314.57,375.55 316.41,374.45 316.41,376.64" fill="#c4121c" stroke="#c4121c" stroke-width="0.8"/>
<polygon points="317.93,375.49 319.77,374.40 319.77,376.58" fill="#c4121c" stroke="#c4121c" stroke-width="0.8"/>
<polygon points="321.28,375.30 323.12,374.21 323.12,376.40" fill="#c4121c" stroke="#c4121c" stroke-width="0.8"/>
<polygon points="324.64,375.03 326.48,373.94 326.48,376.12" fill="#c4121c" stroke="#c4121c" stroke-width="0.8"/>
<polygon points="327.99,374.75 329.83,373.66 329.83,375.84" fill="#c4121c" stroke="#c4121c" stroke-width="0.8"/>
<polygon points="331.35,374.48 333.19,373.38 333.19,375.57" fill="#c4121c" stroke="#c4121c" stroke-width="0.8"/>
<polygon points="334.70,374.20 336.54,373.11 336.54,375.29" fill="#c4121c" stroke="#c4121c" stroke-width="0.8"/>
<polygon points="338.06,373.93 339.90,372.83 339.90,375.02" fill="#c4121c" stroke="#c4121c" stroke-width="0.8"/>
<polygon points="341.41,373.65 343.25,372.56 343.25,374.74" fill="#c4121c" stroke="#c4121c" stroke-width="0.8"/>
<polygon points="344.77,373.38 346.61,372.28 346.61,374.47" fill="#c4121c" stroke="#c4121c" stroke-width="0.8"/>
<polygon points="348.12,373.10 349.96,372.01 349.96,374.19" fill="#c4121c" stroke="#c4121c" stroke-width="0.8"/>
<polygon points="351.48,372.83 353.32,371.73 353.32,373.92" fill="#c4121c" stroke="#c4121c" stroke-width="0.8"/>
<polygon points="354.83,372.55 356.67,371.46 356.67,373.64" fill="#c4121c" stroke="#c4121c" stroke-width="0.8"/>
<polygon points="358.19,372.41 360.03,371.32 360.03,373.51" fill="#c4121c" stroke="#c4121c" stroke-width="0.8"/>
<polygon points="361.54,372.41 363.38,371.32 363.38,373.51" fill="#c4121c" stroke="#c4121c" stroke-width="0.8"/>
<polygon points="364.90,372.41 366.74,371.32 366.74,373.51" fill="#c4121c" stroke="#c4121c" stroke-width="0.8"/>
<polygon points="368.25,372.41 370.09,371.32 370.09,373.51" fill="#c4121c" stroke="#c4121c" stroke-width="0.8"/>
<polygon points="371.61,372.41 373.45,371.32 373.45,373.51" fill="#c4121c" stroke="#c4121c" stroke-width="0.8"/>
<polygon points="374.96,372.41 376.80,371.32 376.80,373.51" fill="#c4121c" stroke="#c4121c" stroke-width="0.8"/>
<polygon points="378.32,372.67 380.16,371.58 380.16,373.77" fill="#c4121c" stroke="#c4121c" stroke-width="0.8"/>
<polygon points="381.67,372.95 383.51,371.86 383.51,374.04" fill="#c4121c" stroke="#c4121c" stroke-width="0.8"/>
<polygon points="385.03,373.22 386.87,372.13 386.87,374.32" fill="#c4121c" stroke="#c4121c" stroke-width="0.8"/>
<polygon points="388.38,373.50 390.22,372.41 390.22,374.59" fill="#c4121c" stroke="#c4121c" stroke-width="0.8"/>
<polygon points="391.74,373.77 393.58,372.68 393.58,374.87" fill="#c4121c" stroke="#c4121c" stroke-width="0.8"/>
<polygon points="395.09,374.01 396.93,372.91 396.93,375.10" fill="#c4121c" stroke="#c4121c" stroke-width="0.8"/>
<polygon points="398.45,374.17 400.29,373.08 400.29,375.26" fill="#c4121c" stroke="#c4121c" stroke-width="0.8"/>
<polygon points="401.81,374.34 403.65,373.24 403.65,375.43" fill="#c4121c" stroke="#c4121c" stroke-width="0.8"/>
<polygon points="405.16,374.50 407.00,373.41 407.00,375.59" fill="#c4121c" stroke="#c4121c" stroke-width="0.8"/>
<polygon points="408.52,374.67 410.36,373.57 410.36,375.76" fill="#c4121c" stroke="#c4121c" stroke-width="0.8"/>
<polygon points="411.87,374.83 413.71,373.74 413.71,375.92" fill="#c4121c" stroke="#c4121c" stroke-width="0.8"/>
<polygon points="415.23,374.89 417.07,373.80 417.07,375.98" fill="#c4121c" stroke="#c4121c" stroke-width="0.8"/>
<polygon points="418.58,374.93 420.42,373.83 420.42,376.02" fill="#c4121c" stroke="#c4121c" stroke-width="0.8"/>
<polygon points="421.94,374.96 423.78,373.87 423.78,376.06" fill="#c4121c" stroke="#c4121c" stroke-width="0.8"/>
<polygon points="425.29,375.00 427.13,373.91 427.13,376.09" fill="#c4121c" stroke="#c4121c" stroke-width="0.8"/>
<polygon points="428.65,375.04 430.49,373.94 430.49,376.13" fill="#c4121c" stroke="#c4121c" stroke-width="0.8"/>
<polygon points="432.00,375.07 433.84,373.98 433.84,376.17" fill="#c4121c" stroke="#c4121c" stroke-width="0.8"/>
<polygon points="435.36,375.11 437.20,374.02 437.20,376.20" fill="#c4121c" stroke="#c4121c" stroke-width="0.8"/>
<polygon points="438.71,375.15 440.55,374.05 440.55,376.24" fill="#c4121c" stroke="#c4121c" stroke-width="0.8"/>
<polygon points="442.07,375.18 443.91,374.09 443.91,376.28" fill="#c4121c" stroke="#c4121c" stroke-width="0.8"/>
<polygon points="445.42,375.22 447.26,374.13 447.26,376.31" fill="#c4121c" stroke="#c4121c" stroke-width="0.8"/>
<polygon points="448.78,375.26 450.62,374.16 450.62,376.35" fill="#c4121c" stroke="#c4121c" stroke-width="0.8"/>
<polygon points="452.13,375.29 453.97,374.20 453.97,376.39" fill="#c4121c" stroke="#c4121c" stroke-width="0.8"/>
<polygon points="455.49,375.33 457.33,374.24 457.33,376.42" fill="#c4121c" stroke="#c4121c" stroke-width="0.8"/>
<polygon points="458.84,375.37 460.68,374.27 460.68,376.46" fill="#c4121c" stroke="#c4121c" stroke-width="0.8"/>
<polygon points="462.20,375.40 464.04,374.31 464.04,376.50" fill="#c4121c" stroke="#c4121c" stroke-width="0.8"/>
<polygon points="465.55,375.44 467.39,374.35 467.39,376.53" fill="#c4121c" stroke="#c4121c" stroke-width="0.8"/>
<polygon points="468.91,375.47 470.75,374.38 470.75,376.56" fill="#c4121c" stroke="#c4121c" stroke-width="0.8"/>
<polyline points="285.90,377.00 286.36,377.00 286.83,377.00 287.29,377.00 287.76,377.00 288.23,377.00 288.69,377.00 288.69,377.00 289.16,366.30 289.62,355.59 290.09,344.89 290.56,334.19 291.02,307.78 291.49,281.37 291.58,276.09 291.95,270.38 292.42,263.24 292.89,269.08 293.35,274.92 293.45,276.09 293.82,300.55 294.28,331.13 294.38,337.25 294.75,358.22 295.03,373.94 295.22,374.20 295.68,374.83 296.15,375.47 296.15,375.47 296.61,373.74 297.08,372.01 297.55,370.27 298.01,372.01 298.48,373.74 298.94,375.47 302.30,375.46 305.65,375.41 309.01,375.35 312.36,375.30 315.72,375.24 319.08,375.19 322.43,374.86 325.79,374.37 329.14,373.87 332.50,373.38 335.85,372.88 339.21,372.39 342.56,372.03 345.92,371.66 349.27,371.29 352.63,370.92 355.98,370.88 359.34,370.88 362.69,370.88 366.05,370.88 369.40,371.08 372.76,371.36 376.11,371.63 379.47,371.91 382.82,372.18 386.18,372.54 389.53,373.31 392.89,374.08 396.24,374.56 399.60,374.59 402.96,374.62 406.31,374.65 409.67,374.67 413.02,374.70 416.38,374.73 419.73,374.76 423.09,374.78 426.44,374.81 429.80,374.84 433.15,374.87 436.51,374.89 439.86,374.92 443.22,374.95 446.57,374.98 449.93,375.00 453.28,375.03 456.64,375.06 459.99,375.09 463.35,375.11 466.70,375.14 470.06,375.17" fill="none" stroke="#e8a92a" stroke-width="1.3" stroke-linejoin="round" />
<circle cx="289.16" cy="366.30" r="0.92" fill="#e8a92a" stroke="#e8a92a" stroke-width="0.8"/>
<circle cx="289.62" cy="355.59" r="0.92" fill="#e8a92a" stroke="#e8a92a" stroke-width="0.8"/>
<circle cx="290.09" cy="344.89" r="0.92" fill="#e8a92a" stroke="#e8a92a" stroke-width="0.8"/>
<circle cx="290.56" cy="334.19" r="0.92" fill="#e8a92a" stroke="#e8a92a" stroke-width="0.8"/>
<circle cx="291.02" cy="307.78" r="0.92" fill="#e8a92a" stroke="#e8a92a" stroke-width="0.8"/>
<circle cx="291.49" cy="281.37" r="0.92" fill="#e8a92a" stroke="#e8a92a" stroke-width="0.8"/>
<circle cx="291.95" cy="270.38" r="0.92" fill="#e8a92a" stroke="#e8a92a" stroke-width="0.8"/>
<circle cx="292.42" cy="263.24" r="0.92" fill="#e8a92a" stroke="#e8a92a" stroke-width="0.8"/>
<circle cx="292.89" cy="269.08" r="0.92" fill="#e8a92a" stroke="#e8a92a" stroke-width="0.8"/>
<circle cx="293.35" cy="274.92" r="0.92" fill="#e8a92a" stroke="#e8a92a" stroke-width="0.8"/>
<circle cx="293.82" cy="300.55" r="0.92" fill="#e8a92a" stroke="#e8a92a" stroke-width="0.8"/>
<circle cx="294.28" cy="331.13" r="0.92" fill="#e8a92a" stroke="#e8a92a" stroke-width="0.8"/>
<circle cx="294.75" cy="358.22" r="0.92" fill="#e8a92a" stroke="#e8a92a" stroke-width="0.8"/>
<circle cx="295.22" cy="374.20" r="0.92" fill="#e8a92a" stroke="#e8a92a" stroke-width="0.8"/>
<circle cx="295.68" cy="374.83" r="0.92" fill="#e8a92a" stroke="#e8a92a" stroke-width="0.8"/>
<circle cx="296.15" cy="375.47" r="0.92" fill="#e8a92a" stroke="#e8a92a" stroke-width="0.8"/>
<circle cx="296.61" cy="373.74" r="0.92" fill="#e8a92a" stroke="#e8a92a" stroke-width="0.8"/>
<circle cx="297.08" cy="372.01" r="0.92" fill="#e8a92a" stroke="#e8a92a" stroke-width="0.8"/>
<circle cx="297.55" cy="370.27" r="0.92" fill="#e8a92a" stroke="#e8a92a" stroke-width="0.8"/>
<circle cx="298.01" cy="372.01" r="0.92" fill="#e8a92a" stroke="#e8a92a" stroke-width="0.8"/>
<circle cx="298.48" cy="373.74" r="0.92" fill="#e8a92a" stroke="#e8a92a" stroke-width="0.8"/>
<circle cx="298.94" cy="375.47" r="0.92" fill="#e8a92a" stroke="#e8a92a" stroke-width="0.8"/>
<circle cx="302.30" cy="375.46" r="0.92" fill="#e8a92a" stroke="#e8a92a" stroke-width="0.8"/>
<circle cx="305.65" cy="375.41" r="0.92" fill="#e8a92a" stroke="#e8a92a" stroke-width="0.8"/>
<circle cx="309.01" cy="375.35" r="0.92" fill="#e8a92a" stroke="#e8a92a" stroke-width="0.8"/>
<circle cx="312.36" cy="375.30" r="0.92" fill="#e8a92a" stroke="#e8a92a" stroke-width="0.8"/>
<circle cx="315.72" cy="375.24" r="0.92" fill="#e8a92a" stroke="#e8a92a" stroke-width="0.8"/>
<circle cx="319.08" cy="375.19" r="0.92" fill="#e8a92a" stroke="#e8a92a" stroke-width="0.8"/>
<circle cx="322.43" cy="374.86" r="0.92" fill="#e8a92a" stroke="#e8a92a" stroke-width="0.8"/>
<circle cx="325.79" cy="374.37" r="0.92" fill="#e8a92a" stroke="#e8a92a" stroke-width="0.8"/>
<circle cx="329.14" cy="373.87" r="0.92" fill="#e8a92a" stroke="#e8a92a" stroke-width="0.8"/>
<circle cx="332.50" cy="373.38" r="0.92" fill="#e8a92a" stroke="#e8a92a" stroke-width="0.8"/>
<circle cx="335.85" cy="372.88" r="0.92" fill="#e8a92a" stroke="#e8a92a" stroke-width="0.8"/>
<circle cx="339.21" cy="372.39" r="0.92" fill="#e8a92a" stroke="#e8a92a" stroke-width="0.8"/>
<circle cx="342.56" cy="372.03" r="0.92" fill="#e8a92a" stroke="#e8a92a" stroke-width="0.8"/>
<circle cx="345.92" cy="371.66" r="0.92" fill="#e8a92a" stroke="#e8a92a" stroke-width="0.8"/>
<circle cx="349.27" cy="371.29" r="0.92" fill="#e8a92a" stroke="#e8a92a" stroke-width="0.8"/>
<circle cx="352.63" cy="370.92" r="0.92" fill="#e8a92a" stroke="#e8a92a" stroke-width="0.8"/>
<circle cx="355.98" cy="370.88" r="0.92" fill="#e8a92a" stroke="#e8a92a" stroke-width="0.8"/>
<circle cx="359.34" cy="370.88" r="0.92" fill="#e8a92a" stroke="#e8a92a" stroke-width="0.8"/>
<circle cx="362.69" cy="370.88" r="0.92" fill="#e8a92a" stroke="#e8a92a" stroke-width="0.8"/>
<circle cx="366.05" cy="370.88" r="0.92" fill="#e8a92a" stroke="#e8a92a" stroke-width="0.8"/>
<circle cx="369.40" cy="371.08" r="0.92" fill="#e8a92a" stroke="#e8a92a" stroke-width="0.8"/>
<circle cx="372.76" cy="371.36" r="0.92" fill="#e8a92a" stroke="#e8a92a" stroke-width="0.8"/>
<circle cx="376.11" cy="371.63" r="0.92" fill="#e8a92a" stroke="#e8a92a" stroke-width="0.8"/>
<circle cx="379.47" cy="371.91" r="0.92" fill="#e8a92a" stroke="#e8a92a" stroke-width="0.8"/>
<circle cx="382.82" cy="372.18" r="0.92" fill="#e8a92a" stroke="#e8a92a" stroke-width="0.8"/>
<circle cx="386.18" cy="372.54" r="0.92" fill="#e8a92a" stroke="#e8a92a" stroke-width="0.8"/>
<circle cx="389.53" cy="373.31" r="0.92" fill="#e8a92a" stroke="#e8a92a" stroke-width="0.8"/>
<circle cx="392.89" cy="374.08" r="0.92" fill="#e8a92a" stroke="#e8a92a" stroke-width="0.8"/>
<circle cx="396.24" cy="374.56" r="0.92" fill="#e8a92a" stroke="#e8a92a" stroke-width="0.8"/>
<circle cx="399.60" cy="374.59" r="0.92" fill="#e8a92a" stroke="#e8a92a" stroke-width="0.8"/>
<circle cx="402.96" cy="374.62" r="0.92" fill="#e8a92a" stroke="#e8a92a" stroke-width="0.8"/>
<circle cx="406.31" cy="374.65" r="0.92" fill="#e8a92a" stroke="#e8a92a" stroke-width="0.8"/>
<circle cx="409.67" cy="374.67" r="0.92" fill="#e8a92a" stroke="#e8a92a" stroke-width="0.8"/>
<circle cx="413.02" cy="374.70" r="0.92" fill="#e8a92a" stroke="#e8a92a" stroke-width="0.8"/>
<circle cx="416.38" cy="374.73" r="0.92" fill="#e8a92a" stroke="#e8a92a" stroke-width="0.8"/>
<circle cx="419.73" cy="374.76" r="0.92" fill="#e8a92a" stroke="#e8a92a" stroke-width="0.8"/>
<circle cx="423.09" cy="374.78" r="0.92" fill="#e8a92a" stroke="#e8a92a" stroke-width="0.8"/>
<circle cx="426.44" cy="374.81" r="0.92" fill="#e8a92a" stroke="#e8a92a" stroke-width="0.8"/>
<circle cx="429.80" cy="374.84" r="0.92" fill="#e8a92a" stroke="#e8a92a" stroke-width="0.8"/>
<circle cx="433.15" cy="374.87" r="0.92" fill="#e8a92a" stroke="#e8a92a" stroke-width="0.8"/>
<circle cx="436.51" cy="374.89" r="0.92" fill="#e8a92a" stroke="#e8a92a" stroke-width="0.8"/>
<circle cx="439.86" cy="374.92" r="0.92" fill="#e8a92a" stroke="#e8a92a" stroke-width="0.8"/>
<circle cx="443.22" cy="374.95" r="0.92" fill="#e8a92a" stroke="#e8a92a" stroke-width="0.8"/>
<circle cx="446.57" cy="374.98" r="0.92" fill="#e8a92a" stroke="#e8a92a" stroke-width="0.8"/>
<circle cx="449.93" cy="375.00" r="0.92" fill="#e8a92a" stroke="#e8a92a" stroke-width="0.8"/>
<circle cx="453.28" cy="375.03" r="0.92" fill="#e8a92a" stroke="#e8a92a" stroke-width="0.8"/>
<circle cx="456.64" cy="375.06" r="0.92" fill="#e8a92a" stroke="#e8a92a" stroke-width="0.8"/>
<circle cx="459.99" cy="375.09" r="0.92" fill="#e8a92a" stroke="#e8a92a" stroke-width="0.8"/>
<circle cx="463.35" cy="375.11" r="0.92" fill="#e8a92a" stroke="#e8a92a" stroke-width="0.8"/>
<circle cx="466.70" cy="375.14" r="0.92" fill="#e8a92a" stroke="#e8a92a" stroke-width="0.8"/>
<circle cx="470.06" cy="375.17" r="0.92" fill="#e8a92a" stroke="#e8a92a" stroke-width="0.8"/>
</g>
<rect x="345.5" y="224.1" width="124.0" height="91.29999999999998" fill="#fff"/>
<path d="M345.5,224.1 V315.4 H469.5" fill="none" stroke="#000" stroke-width="1.1"/>
<line x1="343.7" y1="315.40" x2="345.5" y2="315.40" stroke="#000" stroke-width="0.9"/>
<text x="342.90" y="318.40" font-size="8.6" text-anchor="end" font-weight="normal" fill="#1e1e1e" >0</text>
<line x1="343.7" y1="296.65" x2="345.5" y2="296.65" stroke="#000" stroke-width="0.9"/>
<text x="342.90" y="299.65" font-size="8.6" text-anchor="end" font-weight="normal" fill="#1e1e1e" >1</text>
<line x1="343.7" y1="277.90" x2="345.5" y2="277.90" stroke="#000" stroke-width="0.9"/>
<text x="342.90" y="280.90" font-size="8.6" text-anchor="end" font-weight="normal" fill="#1e1e1e" >2</text>
<line x1="343.7" y1="259.15" x2="345.5" y2="259.15" stroke="#000" stroke-width="0.9"/>
<text x="342.90" y="262.15" font-size="8.6" text-anchor="end" font-weight="normal" fill="#1e1e1e" >3</text>
<line x1="343.7" y1="240.40" x2="345.5" y2="240.40" stroke="#000" stroke-width="0.9"/>
<text x="342.90" y="243.40" font-size="8.6" text-anchor="end" font-weight="normal" fill="#1e1e1e" >4</text>
<line x1="344.5" y1="306.02" x2="345.5" y2="306.02" stroke="#000" stroke-width="0.9"/>
<line x1="344.5" y1="287.27" x2="345.5" y2="287.27" stroke="#000" stroke-width="0.9"/>
<line x1="344.5" y1="268.52" x2="345.5" y2="268.52" stroke="#000" stroke-width="0.9"/>
<line x1="344.5" y1="249.77" x2="345.5" y2="249.77" stroke="#000" stroke-width="0.9"/>
<line x1="344.5" y1="231.02" x2="345.5" y2="231.02" stroke="#000" stroke-width="0.9"/>
<line x1="345.50" y1="315.4" x2="345.50" y2="317.2" stroke="#000" stroke-width="0.9"/>
<text x="345.50" y="324.80" font-size="8.6" text-anchor="middle" font-weight="normal" fill="#1e1e1e" >0</text>
<line x1="388.30" y1="315.4" x2="388.30" y2="317.2" stroke="#000" stroke-width="0.9"/>
<text x="388.30" y="324.80" font-size="8.6" text-anchor="middle" font-weight="normal" fill="#1e1e1e" >1</text>
<line x1="431.10" y1="315.4" x2="431.10" y2="317.2" stroke="#000" stroke-width="0.9"/>
<text x="431.10" y="324.80" font-size="8.6" text-anchor="middle" font-weight="normal" fill="#1e1e1e" >2</text>
<line x1="366.90" y1="315.4" x2="366.90" y2="316.4" stroke="#000" stroke-width="0.9"/>
<line x1="409.70" y1="315.4" x2="409.70" y2="316.4" stroke="#000" stroke-width="0.9"/>
<line x1="452.50" y1="315.4" x2="452.50" y2="316.4" stroke="#000" stroke-width="0.9"/>
<clipPath id="iclipe"><rect x="345.5" y="224.1" width="124.0" height="92.79999999999998"/></clipPath>
<g clip-path="url(#iclipe)">
<polyline points="370.32,315.40 371.82,315.40 373.32,315.40 374.82,311.02 376.32,306.65 377.81,302.27 379.31,297.90 379.74,296.65 380.81,290.26 382.31,281.31 383.81,272.36 384.45,268.52 385.30,266.44 386.80,262.80 388.30,259.15 389.80,261.54 391.30,263.92 392.79,266.31 393.01,266.65 394.29,275.09 395.79,284.93 397.29,294.77 397.29,294.78 398.79,304.15 400.28,313.52 401.78,313.80 403.28,314.07 405.42,314.46 406.28,314.09 409.27,312.77 411.84,311.65 412.27,311.84 415.26,313.15 418.26,314.46 418.26,314.46 421.26,314.24 424.25,314.02 427.25,313.81 430.24,313.59 431.10,313.52 433.24,313.52 436.24,313.52 439.23,313.52 442.23,313.52 445.22,313.52 448.22,313.52 451.22,313.52 454.21,313.52 457.21,313.52 460.20,313.52 463.20,313.52 466.20,313.52 469.19,313.52 472.19,313.52" fill="none" stroke="#3c3c3c" stroke-width="1.1" stroke-linejoin="round" />
<polygon points="370.32,314.20 371.28,315.40 370.32,316.60 369.36,315.40" fill="#3c3c3c" stroke="#3c3c3c" stroke-width="0.8"/>
<polygon points="373.32,314.20 374.28,315.40 373.32,316.60 372.36,315.40" fill="#3c3c3c" stroke="#3c3c3c" stroke-width="0.8"/>
<polygon points="376.32,305.45 377.28,306.65 376.32,307.85 375.36,306.65" fill="#3c3c3c" stroke="#3c3c3c" stroke-width="0.8"/>
<polygon points="379.31,296.70 380.27,297.90 379.31,299.10 378.35,297.90" fill="#3c3c3c" stroke="#3c3c3c" stroke-width="0.8"/>
<polygon points="382.31,280.11 383.27,281.31 382.31,282.51 381.35,281.31" fill="#3c3c3c" stroke="#3c3c3c" stroke-width="0.8"/>
<polygon points="385.30,265.24 386.26,266.44 385.30,267.64 384.34,266.44" fill="#3c3c3c" stroke="#3c3c3c" stroke-width="0.8"/>
<polygon points="388.30,257.95 389.26,259.15 388.30,260.35 387.34,259.15" fill="#3c3c3c" stroke="#3c3c3c" stroke-width="0.8"/>
<polygon points="391.30,262.72 392.26,263.92 391.30,265.12 390.34,263.92" fill="#3c3c3c" stroke="#3c3c3c" stroke-width="0.8"/>
<polygon points="394.29,273.89 395.25,275.09 394.29,276.29 393.33,275.09" fill="#3c3c3c" stroke="#3c3c3c" stroke-width="0.8"/>
<polygon points="397.29,293.58 398.25,294.78 397.29,295.98 396.33,294.78" fill="#3c3c3c" stroke="#3c3c3c" stroke-width="0.8"/>
<polygon points="400.28,312.32 401.24,313.52 400.28,314.72 399.32,313.52" fill="#3c3c3c" stroke="#3c3c3c" stroke-width="0.8"/>
<polygon points="403.28,312.87 404.24,314.07 403.28,315.27 402.32,314.07" fill="#3c3c3c" stroke="#3c3c3c" stroke-width="0.8"/>
<polygon points="409.27,311.57 410.23,312.77 409.27,313.97 408.31,312.77" fill="#3c3c3c" stroke="#3c3c3c" stroke-width="0.8"/>
<polygon points="415.26,311.95 416.22,313.15 415.26,314.35 414.30,313.15" fill="#3c3c3c" stroke="#3c3c3c" stroke-width="0.8"/>
<polygon points="421.26,313.04 422.22,314.24 421.26,315.44 420.30,314.24" fill="#3c3c3c" stroke="#3c3c3c" stroke-width="0.8"/>
<polygon points="427.25,312.61 428.21,313.81 427.25,315.01 426.29,313.81" fill="#3c3c3c" stroke="#3c3c3c" stroke-width="0.8"/>
<polygon points="433.24,312.32 434.20,313.52 433.24,314.72 432.28,313.52" fill="#3c3c3c" stroke="#3c3c3c" stroke-width="0.8"/>
<polygon points="439.23,312.32 440.19,313.52 439.23,314.72 438.27,313.52" fill="#3c3c3c" stroke="#3c3c3c" stroke-width="0.8"/>
<polygon points="445.22,312.32 446.18,313.52 445.22,314.72 444.26,313.52" fill="#3c3c3c" stroke="#3c3c3c" stroke-width="0.8"/>
<polygon points="451.22,312.32 452.18,313.52 451.22,314.72 450.26,313.52" fill="#3c3c3c" stroke="#3c3c3c" stroke-width="0.8"/>
<polygon points="457.21,312.32 458.17,313.52 457.21,314.72 456.25,313.52" fill="#3c3c3c" stroke="#3c3c3c" stroke-width="0.8"/>
<polygon points="463.20,312.32 464.16,313.52 463.20,314.72 462.24,313.52" fill="#3c3c3c" stroke="#3c3c3c" stroke-width="0.8"/>
<polygon points="469.19,312.32 470.15,313.52 469.19,314.72 468.23,313.52" fill="#3c3c3c" stroke="#3c3c3c" stroke-width="0.8"/>
<polyline points="370.32,315.40 371.18,315.40 371.82,315.21 372.46,315.02 373.32,311.83 374.82,306.23 376.32,300.63 377.81,295.03 379.31,289.44 379.74,287.84 380.81,278.76 382.31,266.05 383.81,253.35 384.45,247.90 385.30,243.14 386.80,234.80 388.30,226.47 388.73,224.09 389.80,229.24 391.30,236.46 392.79,243.68 393.01,244.71 394.29,257.20 395.79,271.77 397.29,286.34 397.29,286.34 398.79,299.93 400.28,313.52 401.78,313.80 403.28,314.07 405.42,314.46 406.28,314.09 409.27,312.77 411.84,311.65 412.27,311.84 415.26,313.15 418.26,314.46 418.26,314.46 421.26,314.59 424.25,314.72 427.25,314.86 430.24,314.99 431.10,315.02 433.24,315.02 436.24,315.02 439.23,315.02 442.23,315.02 445.22,315.02 448.22,315.02 451.22,315.02 454.21,315.02 457.21,315.02 460.20,315.02 463.20,315.02 466.20,315.02 469.19,315.02 472.19,315.02" fill="none" stroke="#1428b4" stroke-width="1.1" stroke-linejoin="round" />
<polygon points="370.32,314.20 369.18,316.12 371.46,316.12" fill="#1428b4" stroke="#1428b4" stroke-width="0.8"/>
<polygon points="373.32,310.63 372.18,312.55 374.46,312.55" fill="#1428b4" stroke="#1428b4" stroke-width="0.8"/>
<polygon points="376.32,299.43 375.18,301.35 377.46,301.35" fill="#1428b4" stroke="#1428b4" stroke-width="0.8"/>
<polygon points="379.31,288.24 378.17,290.16 380.45,290.16" fill="#1428b4" stroke="#1428b4" stroke-width="0.8"/>
<polygon points="382.31,264.85 381.17,266.77 383.45,266.77" fill="#1428b4" stroke="#1428b4" stroke-width="0.8"/>
<polygon points="385.30,241.94 384.16,243.86 386.44,243.86" fill="#1428b4" stroke="#1428b4" stroke-width="0.8"/>
<polygon points="388.30,225.27 387.16,227.19 389.44,227.19" fill="#1428b4" stroke="#1428b4" stroke-width="0.8"/>
<polygon points="391.30,235.26 390.16,237.18 392.44,237.18" fill="#1428b4" stroke="#1428b4" stroke-width="0.8"/>
<polygon points="394.29,256.00 393.15,257.92 395.43,257.92" fill="#1428b4" stroke="#1428b4" stroke-width="0.8"/>
<polygon points="397.29,285.14 396.15,287.06 398.43,287.06" fill="#1428b4" stroke="#1428b4" stroke-width="0.8"/>
<polygon points="400.28,312.32 399.14,314.25 401.42,314.25" fill="#1428b4" stroke="#1428b4" stroke-width="0.8"/>
<polygon points="403.28,312.87 402.14,314.79 404.42,314.79" fill="#1428b4" stroke="#1428b4" stroke-width="0.8"/>
<polygon points="409.27,311.57 408.13,313.50 410.41,313.50" fill="#1428b4" stroke="#1428b4" stroke-width="0.8"/>
<polygon points="415.26,311.95 414.12,313.87 416.40,313.87" fill="#1428b4" stroke="#1428b4" stroke-width="0.8"/>
<polygon points="421.26,313.39 420.12,315.31 422.40,315.31" fill="#1428b4" stroke="#1428b4" stroke-width="0.8"/>
<polygon points="427.25,313.66 426.11,315.58 428.39,315.58" fill="#1428b4" stroke="#1428b4" stroke-width="0.8"/>
<polygon points="433.24,313.82 432.10,315.75 434.38,315.75" fill="#1428b4" stroke="#1428b4" stroke-width="0.8"/>
<polygon points="439.23,313.82 438.09,315.75 440.37,315.75" fill="#1428b4" stroke="#1428b4" stroke-width="0.8"/>
<polygon points="445.22,313.82 444.08,315.75 446.36,315.75" fill="#1428b4" stroke="#1428b4" stroke-width="0.8"/>
<polygon points="451.22,313.82 450.08,315.75 452.36,315.75" fill="#1428b4" stroke="#1428b4" stroke-width="0.8"/>
<polygon points="457.21,313.82 456.07,315.75 458.35,315.75" fill="#1428b4" stroke="#1428b4" stroke-width="0.8"/>
<polygon points="463.20,313.82 462.06,315.75 464.34,315.75" fill="#1428b4" stroke="#1428b4" stroke-width="0.8"/>
<polygon points="469.19,313.82 468.05,315.75 470.33,315.75" fill="#1428b4" stroke="#1428b4" stroke-width="0.8"/>
<polyline points="370.32,315.40 371.18,315.40 371.82,313.57 373.32,309.31 374.82,305.04 376.32,300.77 377.81,296.51 379.31,292.24 379.74,291.02 380.81,282.50 382.31,270.57 383.81,258.64 384.45,253.52 385.30,251.49 386.80,247.94 388.30,244.38 389.58,241.34 389.80,241.86 391.30,245.56 392.79,249.25 393.01,249.77 394.29,261.59 395.79,275.37 397.29,289.15 397.29,289.15 398.79,301.34 400.28,313.52 401.78,313.80 403.28,314.07 405.42,314.46 406.28,313.94 409.27,312.10 411.84,310.52 412.27,310.79 415.26,312.62 418.26,314.46 418.26,314.46 421.26,314.51 424.25,314.55 427.25,314.59 430.24,314.64 431.10,314.65 433.24,314.65 436.24,314.64 439.23,314.63 442.23,314.63 445.22,314.62 448.22,314.61 451.22,314.61 454.21,314.60 457.21,314.59 460.20,314.59 463.20,314.58 466.20,314.57 469.19,314.57 472.19,314.56" fill="none" stroke="#c4121c" stroke-width="1.1" stroke-linejoin="round" />
<polygon points="369.12,315.40 371.04,314.26 371.04,316.54" fill="#c4121c" stroke="#c4121c" stroke-width="0.8"/>
<polygon points="372.12,309.31 374.04,308.17 374.04,310.45" fill="#c4121c" stroke="#c4121c" stroke-width="0.8"/>
<polygon points="375.12,300.77 377.04,299.63 377.04,301.91" fill="#c4121c" stroke="#c4121c" stroke-width="0.8"/>
<polygon points="378.11,292.24 380.03,291.10 380.03,293.38" fill="#c4121c" stroke="#c4121c" stroke-width="0.8"/>
<polygon points="381.11,270.57 383.03,269.43 383.03,271.71" fill="#c4121c" stroke="#c4121c" stroke-width="0.8"/>
<polygon points="384.10,251.49 386.02,250.35 386.02,252.63" fill="#c4121c" stroke="#c4121c" stroke-width="0.8"/>
<polygon points="387.10,244.38 389.02,243.24 389.02,245.52" fill="#c4121c" stroke="#c4121c" stroke-width="0.8"/>
<polygon points="390.10,245.56 392.02,244.42 392.02,246.70" fill="#c4121c" stroke="#c4121c" stroke-width="0.8"/>
<polygon points="393.09,261.59 395.01,260.45 395.01,262.73" fill="#c4121c" stroke="#c4121c" stroke-width="0.8"/>
<polygon points="396.09,289.15 398.01,288.01 398.01,290.29" fill="#c4121c" stroke="#c4121c" stroke-width="0.8"/>
<polygon points="399.08,313.52 401.00,312.38 401.00,314.66" fill="#c4121c" stroke="#c4121c" stroke-width="0.8"/>
<polygon points="402.08,314.07 404.00,312.93 404.00,315.21" fill="#c4121c" stroke="#c4121c" stroke-width="0.8"/>
<polygon points="408.07,312.10 409.99,310.96 409.99,313.24" fill="#c4121c" stroke="#c4121c" stroke-width="0.8"/>
<polygon points="414.06,312.62 415.98,311.49 415.98,313.76" fill="#c4121c" stroke="#c4121c" stroke-width="0.8"/>
<polygon points="420.06,314.51 421.98,313.37 421.98,315.65" fill="#c4121c" stroke="#c4121c" stroke-width="0.8"/>
<polygon points="426.05,314.59 427.97,313.45 427.97,315.73" fill="#c4121c" stroke="#c4121c" stroke-width="0.8"/>
<polygon points="432.04,314.65 433.96,313.51 433.96,315.79" fill="#c4121c" stroke="#c4121c" stroke-width="0.8"/>
<polygon points="438.03,314.63 439.95,313.49 439.95,315.77" fill="#c4121c" stroke="#c4121c" stroke-width="0.8"/>
<polygon points="444.02,314.62 445.94,313.48 445.94,315.76" fill="#c4121c" stroke="#c4121c" stroke-width="0.8"/>
<polygon points="450.02,314.61 451.94,313.47 451.94,315.75" fill="#c4121c" stroke="#c4121c" stroke-width="0.8"/>
<polygon points="456.01,314.59 457.93,313.45 457.93,315.73" fill="#c4121c" stroke="#c4121c" stroke-width="0.8"/>
<polygon points="462.00,314.58 463.92,313.44 463.92,315.72" fill="#c4121c" stroke="#c4121c" stroke-width="0.8"/>
<polygon points="467.99,314.57 469.91,313.43 469.91,315.71" fill="#c4121c" stroke="#c4121c" stroke-width="0.8"/>
<polyline points="370.32,315.40 371.18,315.40 371.82,313.43 373.32,308.84 374.82,304.24 376.32,299.65 377.81,295.06 379.31,290.46 379.74,289.15 380.81,281.05 382.31,269.72 383.81,258.38 384.45,253.52 385.30,251.77 386.80,248.71 388.30,245.65 389.80,248.16 391.30,250.66 392.79,253.17 393.01,253.52 394.29,264.77 395.79,277.90 397.29,291.02 397.29,291.03 398.79,302.28 400.28,313.52 401.78,313.80 403.28,314.07 405.42,314.46 406.28,314.04 409.27,312.55 411.84,311.27 412.27,311.49 415.26,312.97 418.26,314.46 418.26,314.46 421.26,314.46 424.25,314.46 427.25,314.46 430.24,314.46 431.10,314.46 433.24,314.46 436.24,314.45 439.23,314.44 442.23,314.44 445.22,314.43 448.22,314.42 451.22,314.42 454.21,314.41 457.21,314.41 460.20,314.40 463.20,314.39 466.20,314.39 469.19,314.38 472.19,314.37" fill="none" stroke="#e8a92a" stroke-width="1.1" stroke-linejoin="round" />
<circle cx="370.32" cy="315.40" r="0.96" fill="#e8a92a" stroke="#e8a92a" stroke-width="0.8"/>
<circle cx="373.32" cy="308.84" r="0.96" fill="#e8a92a" stroke="#e8a92a" stroke-width="0.8"/>
<circle cx="376.32" cy="299.65" r="0.96" fill="#e8a92a" stroke="#e8a92a" stroke-width="0.8"/>
<circle cx="379.31" cy="290.46" r="0.96" fill="#e8a92a" stroke="#e8a92a" stroke-width="0.8"/>
<circle cx="382.31" cy="269.72" r="0.96" fill="#e8a92a" stroke="#e8a92a" stroke-width="0.8"/>
<circle cx="385.30" cy="251.77" r="0.96" fill="#e8a92a" stroke="#e8a92a" stroke-width="0.8"/>
<circle cx="388.30" cy="245.65" r="0.96" fill="#e8a92a" stroke="#e8a92a" stroke-width="0.8"/>
<circle cx="391.30" cy="250.66" r="0.96" fill="#e8a92a" stroke="#e8a92a" stroke-width="0.8"/>
<circle cx="394.29" cy="264.77" r="0.96" fill="#e8a92a" stroke="#e8a92a" stroke-width="0.8"/>
<circle cx="397.29" cy="291.03" r="0.96" fill="#e8a92a" stroke="#e8a92a" stroke-width="0.8"/>
<circle cx="400.28" cy="313.52" r="0.96" fill="#e8a92a" stroke="#e8a92a" stroke-width="0.8"/>
<circle cx="403.28" cy="314.07" r="0.96" fill="#e8a92a" stroke="#e8a92a" stroke-width="0.8"/>
<circle cx="409.27" cy="312.55" r="0.96" fill="#e8a92a" stroke="#e8a92a" stroke-width="0.8"/>
<circle cx="415.26" cy="312.97" r="0.96" fill="#e8a92a" stroke="#e8a92a" stroke-width="0.8"/>
<circle cx="421.26" cy="314.46" r="0.96" fill="#e8a92a" stroke="#e8a92a" stroke-width="0.8"/>
<circle cx="427.25" cy="314.46" r="0.96" fill="#e8a92a" stroke="#e8a92a" stroke-width="0.8"/>
<circle cx="433.24" cy="314.46" r="0.96" fill="#e8a92a" stroke="#e8a92a" stroke-width="0.8"/>
<circle cx="439.23" cy="314.44" r="0.96" fill="#e8a92a" stroke="#e8a92a" stroke-width="0.8"/>
<circle cx="445.22" cy="314.43" r="0.96" fill="#e8a92a" stroke="#e8a92a" stroke-width="0.8"/>
<circle cx="451.22" cy="314.42" r="0.96" fill="#e8a92a" stroke="#e8a92a" stroke-width="0.8"/>
<circle cx="457.21" cy="314.41" r="0.96" fill="#e8a92a" stroke="#e8a92a" stroke-width="0.8"/>
<circle cx="463.20" cy="314.39" r="0.96" fill="#e8a92a" stroke="#e8a92a" stroke-width="0.8"/>
<circle cx="469.19" cy="314.38" r="0.96" fill="#e8a92a" stroke="#e8a92a" stroke-width="0.8"/>
</g>
<text x="402.40" y="334.70" font-size="9.4" text-anchor="middle" font-weight="normal" fill="#1e1e1e" >Pore width (nm)</text>
<text x="0" y="0" font-size="9.2" text-anchor="middle" fill="#1e1e1e" transform="translate(331.7,270.2) rotate(-90)">dv(log d)(cm<tspan font-size="6" dy="-3">3</tspan><tspan dy="3"> nm</tspan><tspan font-size="6" dy="-3">-1</tspan><tspan dy="3"> g</tspan><tspan font-size="6" dy="-3">-1</tspan><tspan dy="3">)</tspan></text>
<line x1="416.4" y1="238.20" x2="426.59999999999997" y2="238.20" stroke="#1428b4" stroke-width="1.2"/>
<circle cx="421.5" cy="238.20" r="1.2" fill="#1428b4"/>
<text x="430.10" y="243.10" font-size="14.0" text-anchor="start" font-weight="normal" fill="#1e1e1e" >0h</text>
<line x1="416.4" y1="255.10" x2="426.59999999999997" y2="255.10" stroke="#c4121c" stroke-width="1.2"/>
<circle cx="421.5" cy="255.10" r="1.2" fill="#c4121c"/>
<text x="430.10" y="260.00" font-size="14.0" text-anchor="start" font-weight="normal" fill="#1e1e1e" >1h</text>
<line x1="416.4" y1="272.00" x2="426.59999999999997" y2="272.00" stroke="#e8a92a" stroke-width="1.2"/>
<circle cx="421.5" cy="272.00" r="1.2" fill="#e8a92a"/>
<text x="430.10" y="276.90" font-size="14.0" text-anchor="start" font-weight="normal" fill="#1e1e1e" >5h</text>
<line x1="416.4" y1="288.90" x2="426.59999999999997" y2="288.90" stroke="#3c3c3c" stroke-width="1.2"/>
<circle cx="421.5" cy="288.90" r="1.2" fill="#3c3c3c"/>
<text x="430.10" y="293.80" font-size="14.0" text-anchor="start" font-weight="normal" fill="#1e1e1e" >20h</text>
<text x="281.80" y="214.20" font-size="15.0" text-anchor="start" font-weight="bold" fill="#000" >e</text>
<text x="0" y="0" font-size="15" text-anchor="middle" fill="#1e1e1e" transform="translate(265.5,299.6) rotate(-90)">dv(log d)(cm<tspan font-size="9.6" dy="-5.6">3</tspan><tspan dy="5.6"> nm</tspan><tspan font-size="9.6" dy="-5.6">-1</tspan><tspan dy="5.6"> g</tspan><tspan font-size="9.6" dy="-5.6">-1</tspan><tspan dy="5.6">)</tspan></text>
<text x="376.30" y="406.80" font-size="15" text-anchor="middle" font-weight="normal" fill="#1e1e1e" >Pore width (nm)</text>
<defs><g id="ring"><circle cx="8.02" cy="2.15" r="1.3" fill="#f6f4ee" stroke="#b2a274" stroke-width="0.5"/><circle cx="5.87" cy="5.87" r="1.3" fill="#f6f4ee" stroke="#b2a274" stroke-width="0.5"/><circle cx="2.15" cy="8.02" r="1.3" fill="#f6f4ee" stroke="#b2a274" stroke-width="0.5"/><circle cx="-2.15" cy="8.02" r="1.3" fill="#f6f4ee" stroke="#b2a274" stroke-width="0.5"/><circle cx="-5.87" cy="5.87" r="1.3" fill="#f6f4ee" stroke="#b2a274" stroke-width="0.5"/><circle cx="-8.02" cy="2.15" r="1.3" fill="#f6f4ee" stroke="#b2a274" stroke-width="0.5"/><circle cx="-8.02" cy="-2.15" r="1.3" fill="#f6f4ee" stroke="#b2a274" stroke-width="0.5"/><circle cx="-5.87" cy="-5.87" r="1.3" fill="#f6f4ee" stroke="#b2a274" stroke-width="0.5"/><circle cx="-2.15" cy="-8.02" r="1.3" fill="#f6f4ee" stroke="#b2a274" stroke-width="0.5"/><circle cx="2.15" cy="-8.02" r="1.3" fill="#f6f4ee" stroke="#b2a274" stroke-width="0.5"/><circle cx="5.87" cy="-5.87" r="1.3" fill="#f6f4ee" stroke="#b2a274" stroke-width="0.5"/><circle cx="8.02" cy="-2.15" r="1.3" fill="#f6f4ee" stroke="#b2a274" stroke-width="0.5"/><line x1="3.4" y1="0" x2="6.4" y2="0" stroke="#a89a60" stroke-width="0.75"/><line x1="0" y1="3.4" x2="0" y2="6.4" stroke="#a89a60" stroke-width="0.75"/><line x1="-3.4" y1="0" x2="-6.4" y2="0" stroke="#a89a60" stroke-width="0.75"/><line x1="-0" y1="-3.4" x2="-0" y2="-6.4" stroke="#a89a60" stroke-width="0.75"/><circle cx="6.26" cy="2.39" r="0.72" fill="#2626d6"/><circle cx="2.39" cy="6.26" r="0.72" fill="#2626d6"/><circle cx="3.54" cy="3.54" r="0.95" fill="#f6f4ee" stroke="#b2a274" stroke-width="0.45"/><circle cx="-2.39" cy="6.26" r="0.72" fill="#2626d6"/><circle cx="-6.26" cy="2.39" r="0.72" fill="#2626d6"/><circle cx="-3.54" cy="3.54" r="0.95" fill="#f6f4ee" stroke="#b2a274" stroke-width="0.45"/><circle cx="-6.26" cy="-2.39" r="0.72" fill="#2626d6"/><circle cx="-2.39" cy="-6.26" r="0.72" fill="#2626d6"/><circle cx="-3.54" cy="-3.54" r="0.95" fill="#f6f4ee" stroke="#b2a274" stroke-width="0.45"/><circle cx="2.39" cy="-6.26" r="0.72" fill="#2626d6"/><circle cx="6.26" cy="-2.39" r="0.72" fill="#2626d6"/><circle cx="3.54" cy="-3.54" r="0.95" fill="#f6f4ee" stroke="#b2a274" stroke-width="0.45"/><circle r="3.55" fill="#fff" stroke="#8a7734" stroke-width="2.3" stroke-dasharray="3.2 0.5"/><circle cx="9.4" cy="-3.1" r="1.15" fill="#e3121a"/><circle cx="9.4" cy="3.1" r="1.15" fill="#e3121a"/><circle cx="3.1" cy="9.4" r="1.15" fill="#e3121a"/><circle cx="-3.1" cy="9.4" r="1.15" fill="#e3121a"/><circle cx="-9.4" cy="3.1" r="1.15" fill="#e3121a"/><circle cx="-9.4" cy="-3.1" r="1.15" fill="#e3121a"/><circle cx="-3.1" cy="-9.4" r="1.15" fill="#e3121a"/><circle cx="3.1" cy="-9.4" r="1.15" fill="#e3121a"/></g><g id="coreA"><circle cx="-2.7" cy="-2.4" r="2.1" fill="#7a6824"/><circle cx="2.5" cy="-2.7" r="2.0" fill="#8a7834"/><circle cx="-2.5" cy="2.7" r="2.0" fill="#8a7834"/><circle cx="2.7" cy="2.4" r="2.1" fill="#7a6824"/><circle cx="0" cy="0" r="2.3" fill="#7f6d28"/><circle cx="-0.6" cy="-0.4" r="0.8" fill="#b0a164"/><circle cx="-2.6" cy="2.6" r="0.6" fill="#b0a164"/><circle cx="2.6" cy="-2.4" r="0.6" fill="#b0a164"/><circle cx="1.1" cy="-4.78" r="1.55" fill="#e3121a"/><circle cx="4.78" cy="-1.1" r="1.55" fill="#e3121a"/><circle cx="-1.1" cy="4.78" r="1.55" fill="#e3121a"/><circle cx="-4.78" cy="1.1" r="1.55" fill="#e3121a"/><circle cx="4.38" cy="-4.38" r="0.72" fill="#2626d6"/><circle cx="4.38" cy="4.38" r="0.72" fill="#2626d6"/><circle cx="-4.38" cy="4.38" r="0.72" fill="#2626d6"/><circle cx="-4.38" cy="-4.38" r="0.72" fill="#2626d6"/></g><g id="tA0"><polygon points="6.73,-7.61 4.29,-11.51 0.97,-12.27 -2.73,-9.79 -0.48,-5.94 2.83,-5.17" fill="#2d7dc1" stroke="#2768a6" stroke-width="0.5" stroke-linejoin="round"/><polygon points="5.4,-8.33 2.36,-10.26 -0.77,-9.13 1.73,-7.53" fill="#7fb4de" opacity="0.75"/><circle cx="2.92" cy="-12.7" r="0.9" fill="#e3121a"/><circle cx="7.07" cy="-7.53" r="0.85" fill="#e3121a"/><circle cx="-3.07" cy="-9.87" r="0.85" fill="#e3121a"/></g><g id="tA1"><polygon points="9.79,2.73 12.23,-1.17 11.46,-4.48 7.61,-6.73 5.13,-3.03 5.89,0.29" fill="#2d7dc1" stroke="#2768a6" stroke-width="0.5" stroke-linejoin="round"/><polygon points="9.85,1.22 10.26,-2.36 7.88,-4.68 7.53,-1.73" fill="#7fb4de" opacity="0.75"/><circle cx="12.7" cy="-2.92" r="0.9" fill="#e3121a"/><circle cx="9.87" cy="3.07" r="0.85" fill="#e3121a"/><circle cx="7.53" cy="-7.07" r="0.85" fill="#e3121a"/></g><g id="tA2"><polygon points="-6.73,7.61 -4.29,11.51 -0.97,12.27 2.73,9.79 0.48,5.94 -2.83,5.17" fill="#2d7dc1" stroke="#2768a6" stroke-width="0.5" stroke-linejoin="round"/><polygon points="-5.4,8.33 -2.36,10.26 0.77,9.13 -1.73,7.53" fill="#7fb4de" opacity="0.75"/><circle cx="-2.92" cy="12.7" r="0.9" fill="#e3121a"/><circle cx="-7.07" cy="7.53" r="0.85" fill="#e3121a"/><circle cx="3.07" cy="9.87" r="0.85" fill="#e3121a"/></g><g id="tA3"><polygon points="-9.79,-2.73 -12.23,1.17 -11.46,4.48 -7.61,6.73 -5.13,3.03 -5.89,-0.29" fill="#2d7dc1" stroke="#2768a6" stroke-width="0.5" stroke-linejoin="round"/><polygon points="-9.85,-1.22 -10.26,2.36 -7.88,4.68 -7.53,1.73" fill="#7fb4de" opacity="0.75"/><circle cx="-12.7" cy="2.92" r="0.9" fill="#e3121a"/><circle cx="-9.87" cy="-3.07" r="0.85" fill="#e3121a"/><circle cx="-7.53" cy="7.07" r="0.85" fill="#e3121a"/></g><g id="coreM"><circle cx="-2.7" cy="-2.4" r="2.1" fill="#7a6824"/><circle cx="2.5" cy="-2.7" r="2.0" fill="#8a7834"/><circle cx="-2.5" cy="2.7" r="2.0" fill="#8a7834"/><circle cx="2.7" cy="2.4" r="2.1" fill="#7a6824"/><circle cx="0" cy="0" r="2.3" fill="#7f6d28"/><circle cx="-0.6" cy="-0.4" r="0.8" fill="#b0a164"/><circle cx="-2.6" cy="2.6" r="0.6" fill="#b0a164"/><circle cx="2.6" cy="-2.4" r="0.6" fill="#b0a164"/><circle cx="-1.1" cy="-4.78" r="1.55" fill="#e3121a"/><circle cx="-4.78" cy="-1.1" r="1.55" fill="#e3121a"/><circle cx="1.1" cy="4.78" r="1.55" fill="#e3121a"/><circle cx="4.78" cy="1.1" r="1.55" fill="#e3121a"/><circle cx="4.38" cy="4.38" r="0.72" fill="#2626d6"/><circle cx="-4.38" cy="4.38" r="0.72" fill="#2626d6"/><circle cx="-4.38" cy="-4.38" r="0.72" fill="#2626d6"/><circle cx="4.38" cy="-4.38" r="0.72" fill="#2626d6"/></g><g id="tM0"><polygon points="2.73,-9.79 -1.17,-12.23 -4.48,-11.46 -6.73,-7.61 -3.03,-5.13 0.29,-5.89" fill="#2d7dc1" stroke="#2768a6" stroke-width="0.5" stroke-linejoin="round"/><polygon points="1.22,-9.85 -2.36,-10.26 -4.68,-7.88 -1.73,-7.53" fill="#7fb4de" opacity="0.75"/><circle cx="-2.92" cy="-12.7" r="0.9" fill="#e3121a"/><circle cx="3.07" cy="-9.87" r="0.85" fill="#e3121a"/><circle cx="-7.07" cy="-7.53" r="0.85" fill="#e3121a"/></g><g id="tM1"><polygon points="-7.61,-6.73 -11.51,-4.29 -12.27,-0.97 -9.79,2.73 -5.94,0.48 -5.17,-2.83" fill="#2d7dc1" stroke="#2768a6" stroke-width="0.5" stroke-linejoin="round"/><polygon points="-8.33,-5.4 -10.26,-2.36 -9.13,0.77 -7.53,-1.73" fill="#7fb4de" opacity="0.75"/><circle cx="-12.7" cy="-2.92" r="0.9" fill="#e3121a"/><circle cx="-7.53" cy="-7.07" r="0.85" fill="#e3121a"/><circle cx="-9.87" cy="3.07" r="0.85" fill="#e3121a"/></g><g id="tM2"><polygon points="-2.73,9.79 1.17,12.23 4.48,11.46 6.73,7.61 3.03,5.13 -0.29,5.89" fill="#2d7dc1" stroke="#2768a6" stroke-width="0.5" stroke-linejoin="round"/><polygon points="-1.22,9.85 2.36,10.26 4.68,7.88 1.73,7.53" fill="#7fb4de" opacity="0.75"/><circle cx="2.92" cy="12.7" r="0.9" fill="#e3121a"/><circle cx="-3.07" cy="9.87" r="0.85" fill="#e3121a"/><circle cx="7.07" cy="7.53" r="0.85" fill="#e3121a"/></g><g id="tM3"><polygon points="7.61,6.73 11.51,4.29 12.27,0.97 9.79,-2.73 5.94,-0.48 5.17,2.83" fill="#2d7dc1" stroke="#2768a6" stroke-width="0.5" stroke-linejoin="round"/><polygon points="8.33,5.4 10.26,2.36 9.13,-0.77 7.53,1.73" fill="#7fb4de" opacity="0.75"/><circle cx="12.7" cy="2.92" r="0.9" fill="#e3121a"/><circle cx="7.53" cy="7.07" r="0.85" fill="#e3121a"/><circle cx="9.87" cy="-3.07" r="0.85" fill="#e3121a"/></g><g id="pore"><circle cx="0.8" cy="-9.0" r="1.0" fill="#e3121a"/><circle cx="9.6" cy="0.2" r="1.0" fill="#e3121a"/><circle cx="0.9" cy="9.0" r="1.0" fill="#e3121a"/><circle cx="-8.6" cy="0.2" r="1.0" fill="#e3121a"/><circle cx="-5.0" cy="-5.4" r="0.75" fill="#e3121a"/><circle cx="5.3" cy="-5.4" r="0.75" fill="#e3121a"/><circle cx="-5.0" cy="5.4" r="0.75" fill="#e3121a"/><circle cx="5.3" cy="5.4" r="0.75" fill="#e3121a"/></g><filter id="desat" color-interpolation-filters="sRGB"><feColorMatrix type="saturate" values="0.7"/></filter></defs>
<clipPath id="mclipc"><rect x="500.45" y="16.5" width="183.45" height="176"/></clipPath>
<g clip-path="url(#mclipc)"><g transform="translate(516.4,29.3) scale(0.9988,0.9948)">
<g filter="url(#desat)"><use href="#ring" x="75" y="50" opacity="0.2"/>
<use href="#ring" x="100" y="25" opacity="0.2"/>
<use href="#ring" x="100" y="75" opacity="0.2"/>
<use href="#ring" x="125" y="50" opacity="0.2"/>
<use href="#pore" x="75" y="25" opacity="0.2"/>
<use href="#pore" x="75" y="75" opacity="0.2"/>
<use href="#pore" x="100" y="50" opacity="0.2"/>
<use href="#pore" x="125" y="25" opacity="0.2"/>
<use href="#pore" x="125" y="75" opacity="0.2"/>
<use href="#tM2" x="62.5" y="12.5" opacity="0.2"/>
<use href="#tM3" x="62.5" y="12.5" opacity="0.2"/>
<use href="#coreM" x="62.5" y="12.5" opacity="0.2"/>
<use href="#tA0" x="62.5" y="37.5" opacity="0.2"/>
<use href="#tA1" x="62.5" y="37.5" opacity="0.2"/>
<use href="#coreA" x="62.5" y="37.5" opacity="0.2"/>
<use href="#tM2" x="62.5" y="62.5" opacity="0.2"/>
<use href="#tM3" x="62.5" y="62.5" opacity="0.2"/>
<use href="#coreM" x="62.5" y="62.5" opacity="0.2"/>
<use href="#tA0" x="62.5" y="87.5" opacity="0.2"/>
<use href="#tA1" x="62.5" y="87.5" opacity="0.2"/>
<use href="#coreA" x="62.5" y="87.5" opacity="0.2"/>
<use href="#tA2" x="87.5" y="12.5" opacity="0.2"/>
<use href="#tA3" x="87.5" y="12.5" opacity="0.2"/>
<use href="#coreA" x="87.5" y="12.5" opacity="0.2"/>
<use href="#tM0" x="87.5" y="37.5" opacity="0.2"/>
<use href="#tM1" x="87.5" y="37.5" opacity="0.2"/>
<use href="#tM2" x="87.5" y="37.5" opacity="0.2"/>
<use href="#tM3" x="87.5" y="37.5" opacity="0.2"/>
<use href="#coreM" x="87.5" y="37.5" opacity="0.2"/>
<use href="#tA0" x="87.5" y="62.5" opacity="0.2"/>
<use href="#tA1" x="87.5" y="62.5" opacity="0.2"/>
<use href="#tA2" x="87.5" y="62.5" opacity="0.2"/>
<use href="#tA3" x="87.5" y="62.5" opacity="0.2"/>
<use href="#coreA" x="87.5" y="62.5" opacity="0.2"/>
<use href="#tM0" x="87.5" y="87.5" opacity="0.2"/>
<use href="#tM1" x="87.5" y="87.5" opacity="0.2"/>
<use href="#coreM" x="87.5" y="87.5" opacity="0.2"/>
<use href="#tM2" x="112.5" y="12.5" opacity="0.2"/>
<use href="#tM3" x="112.5" y="12.5" opacity="0.2"/>
<use href="#coreM" x="112.5" y="12.5" opacity="0.2"/>
<use href="#tA0" x="112.5" y="37.5" opacity="0.2"/>
<use href="#tA1" x="112.5" y="37.5" opacity="0.2"/>
<use href="#tA2" x="112.5" y="37.5" opacity="0.2"/>
<use href="#tA3" x="112.5" y="37.5" opacity="0.2"/>
<use href="#coreA" x="112.5" y="37.5" opacity="0.2"/>
<use href="#tM0" x="112.5" y="62.5" opacity="0.2"/>
<use href="#tM1" x="112.5" y="62.5" opacity="0.2"/>
<use href="#tM2" x="112.5" y="62.5" opacity="0.2"/>
<use href="#tM3" x="112.5" y="62.5" opacity="0.2"/>
<use href="#coreM" x="112.5" y="62.5" opacity="0.2"/>
<use href="#tA0" x="112.5" y="87.5" opacity="0.2"/>
<use href="#tA1" x="112.5" y="87.5" opacity="0.2"/>
<use href="#coreA" x="112.5" y="87.5" opacity="0.2"/>
<use href="#tA2" x="137.5" y="12.5" opacity="0.2"/>
<use href="#tA3" x="137.5" y="12.5" opacity="0.2"/>
<use href="#coreA" x="137.5" y="12.5" opacity="0.2"/>
<use href="#tM0" x="137.5" y="37.5" opacity="0.2"/>
<use href="#tM1" x="137.5" y="37.5" opacity="0.2"/>
<use href="#coreM" x="137.5" y="37.5" opacity="0.2"/>
<use href="#tA2" x="137.5" y="62.5" opacity="0.2"/>
<use href="#tA3" x="137.5" y="62.5" opacity="0.2"/>
<use href="#coreA" x="137.5" y="62.5" opacity="0.2"/>
<use href="#tM0" x="137.5" y="87.5" opacity="0.2"/>
<use href="#tM1" x="137.5" y="87.5" opacity="0.2"/>
<use href="#coreM" x="137.5" y="87.5" opacity="0.2"/></g>
<use href="#ring" x="0" y="25"/>
<use href="#ring" x="0" y="75"/>
<use href="#ring" x="0" y="125"/>
<use href="#ring" x="25" y="0"/>
<use href="#ring" x="25" y="50"/>
<use href="#ring" x="25" y="100"/>
<use href="#ring" x="25" y="150"/>
<use href="#ring" x="50" y="25"/>
<use href="#ring" x="50" y="75"/>
<use href="#ring" x="50" y="125"/>
<use href="#ring" x="75" y="0"/>
<use href="#ring" x="75" y="100"/>
<use href="#ring" x="75" y="150"/>
<use href="#ring" x="100" y="125"/>
<use href="#ring" x="125" y="0"/>
<use href="#ring" x="125" y="100"/>
<use href="#ring" x="125" y="150"/>
<use href="#ring" x="150" y="25"/>
<use href="#ring" x="150" y="75"/>
<use href="#ring" x="150" y="125"/>
<use href="#pore" x="25" y="25"/>
<use href="#pore" x="25" y="75"/>
<use href="#pore" x="25" y="125"/>
<use href="#pore" x="50" y="50"/>
<use href="#pore" x="50" y="100"/>
<use href="#pore" x="75" y="125"/>
<use href="#pore" x="100" y="100"/>
<use href="#pore" x="125" y="125"/>
<use href="#tM0" x="12.5" y="12.5"/>
<use href="#tM1" x="12.5" y="12.5"/>
<use href="#tM2" x="12.5" y="12.5"/>
<use href="#tM3" x="12.5" y="12.5"/>
<use href="#coreM" x="12.5" y="12.5"/>
<use href="#tA0" x="12.5" y="37.5"/>
<use href="#tA1" x="12.5" y="37.5"/>
<use href="#tA2" x="12.5" y="37.5"/>
<use href="#tA3" x="12.5" y="37.5"/>
<use href="#coreA" x="12.5" y="37.5"/>
<use href="#tM0" x="12.5" y="62.5"/>
<use href="#tM1" x="12.5" y="62.5"/>
<use href="#tM2" x="12.5" y="62.5"/>
<use href="#tM3" x="12.5" y="62.5"/>
<use href="#coreM" x="12.5" y="62.5"/>
<use href="#tA0" x="12.5" y="87.5"/>
<use href="#tA1" x="12.5" y="87.5"/>
<use href="#tA2" x="12.5" y="87.5"/>
<use href="#tA3" x="12.5" y="87.5"/>
<use href="#coreA" x="12.5" y="87.5"/>
<use href="#tM0" x="12.5" y="112.5"/>
<use href="#tM1" x="12.5" y="112.5"/>
<use href="#tM2" x="12.5" y="112.5"/>
<use href="#tM3" x="12.5" y="112.5"/>
<use href="#coreM" x="12.5" y="112.5"/>
<use href="#tA0" x="12.5" y="137.5"/>
<use href="#tA1" x="12.5" y="137.5"/>
<use href="#tA2" x="12.5" y="137.5"/>
<use href="#tA3" x="12.5" y="137.5"/>
<use href="#coreA" x="12.5" y="137.5"/>
<use href="#tA0" x="37.5" y="12.5"/>
<use href="#tA1" x="37.5" y="12.5"/>
<use href="#tA2" x="37.5" y="12.5"/>
<use href="#tA3" x="37.5" y="12.5"/>
<use href="#coreA" x="37.5" y="12.5"/>
<use href="#tM0" x="37.5" y="37.5"/>
<use href="#tM1" x="37.5" y="37.5"/>
<use href="#tM2" x="37.5" y="37.5"/>
<use href="#tM3" x="37.5" y="37.5"/>
<use href="#coreM" x="37.5" y="37.5"/>
<use href="#tA0" x="37.5" y="62.5"/>
<use href="#tA1" x="37.5" y="62.5"/>
<use href="#tA2" x="37.5" y="62.5"/>
<use href="#tA3" x="37.5" y="62.5"/>
<use href="#coreA" x="37.5" y="62.5"/>
<use href="#tM0" x="37.5" y="87.5"/>
<use href="#tM1" x="37.5" y="87.5"/>
<use href="#tM2" x="37.5" y="87.5"/>
<use href="#tM3" x="37.5" y="87.5"/>
<use href="#coreM" x="37.5" y="87.5"/>
<use href="#tA0" x="37.5" y="112.5"/>
<use href="#tA1" x="37.5" y="112.5"/>
<use href="#tA2" x="37.5" y="112.5"/>
<use href="#tA3" x="37.5" y="112.5"/>
<use href="#coreA" x="37.5" y="112.5"/>
<use href="#tM0" x="37.5" y="137.5"/>
<use href="#tM1" x="37.5" y="137.5"/>
<use href="#tM2" x="37.5" y="137.5"/>
<use href="#tM3" x="37.5" y="137.5"/>
<use href="#coreM" x="37.5" y="137.5"/>
<use href="#tM0" x="62.5" y="12.5"/>
<use href="#tM1" x="62.5" y="12.5"/>
<use href="#tA2" x="62.5" y="37.5"/>
<use href="#tA3" x="62.5" y="37.5"/>
<use href="#tM0" x="62.5" y="62.5"/>
<use href="#tM1" x="62.5" y="62.5"/>
<use href="#tA2" x="62.5" y="87.5"/>
<use href="#tA3" x="62.5" y="87.5"/>
<use href="#tM0" x="62.5" y="112.5"/>
<use href="#tM1" x="62.5" y="112.5"/>
<use href="#tM2" x="62.5" y="112.5"/>
<use href="#tM3" x="62.5" y="112.5"/>
<use href="#coreM" x="62.5" y="112.5"/>
<use href="#tA0" x="62.5" y="137.5"/>
<use href="#tA1" x="62.5" y="137.5"/>
<use href="#tA2" x="62.5" y="137.5"/>
<use href="#tA3" x="62.5" y="137.5"/>
<use href="#coreA" x="62.5" y="137.5"/>
<use href="#tA0" x="87.5" y="12.5"/>
<use href="#tA1" x="87.5" y="12.5"/>
<use href="#tM2" x="87.5" y="87.5"/>
<use href="#tM3" x="87.5" y="87.5"/>
<use href="#tA0" x="87.5" y="112.5"/>
<use href="#tA1" x="87.5" y="112.5"/>
<use href="#tA2" x="87.5" y="112.5"/>
<use href="#tA3" x="87.5" y="112.5"/>
<use href="#coreA" x="87.5" y="112.5"/>
<use href="#tM0" x="87.5" y="137.5"/>
<use href="#tM1" x="87.5" y="137.5"/>
<use href="#tM2" x="87.5" y="137.5"/>
<use href="#tM3" x="87.5" y="137.5"/>
<use href="#coreM" x="87.5" y="137.5"/>
<use href="#tM0" x="112.5" y="12.5"/>
<use href="#tM1" x="112.5" y="12.5"/>
<use href="#tA2" x="112.5" y="87.5"/>
<use href="#tA3" x="112.5" y="87.5"/>
<use href="#tM0" x="112.5" y="112.5"/>
<use href="#tM1" x="112.5" y="112.5"/>
<use href="#tM2" x="112.5" y="112.5"/>
<use href="#tM3" x="112.5" y="112.5"/>
<use href="#coreM" x="112.5" y="112.5"/>
<use href="#tA0" x="112.5" y="137.5"/>
<use href="#tA1" x="112.5" y="137.5"/>
<use href="#tA2" x="112.5" y="137.5"/>
<use href="#tA3" x="112.5" y="137.5"/>
<use href="#coreA" x="112.5" y="137.5"/>
<use href="#tA0" x="137.5" y="12.5"/>
<use href="#tA1" x="137.5" y="12.5"/>
<use href="#tM2" x="137.5" y="37.5"/>
<use href="#tM3" x="137.5" y="37.5"/>
<use href="#tA0" x="137.5" y="62.5"/>
<use href="#tA1" x="137.5" y="62.5"/>
<use href="#tM2" x="137.5" y="87.5"/>
<use href="#tM3" x="137.5" y="87.5"/>
<use href="#tA0" x="137.5" y="112.5"/>
<use href="#tA1" x="137.5" y="112.5"/>
<use href="#tA2" x="137.5" y="112.5"/>
<use href="#tA3" x="137.5" y="112.5"/>
<use href="#coreA" x="137.5" y="112.5"/>
<use href="#tM0" x="137.5" y="137.5"/>
<use href="#tM1" x="137.5" y="137.5"/>
<use href="#tM2" x="137.5" y="137.5"/>
<use href="#tM3" x="137.5" y="137.5"/>
<use href="#coreM" x="137.5" y="137.5"/>
</g></g>
<rect x="500.45" y="16.5" width="183.45" height="176" fill="none" stroke="#000" stroke-width="1.25"/>
<text x="499.50" y="10.90" font-size="15.0" text-anchor="start" font-weight="bold" fill="#000" >c</text>
<text x="0" y="0" font-size="14.8" text-anchor="middle" fill="#1e1e1e" transform="translate(497.3,101.9) rotate(-90)">Cavities</text>
<clipPath id="mclipf"><rect x="500.45" y="218.5" width="183.45" height="176"/></clipPath>
<g clip-path="url(#mclipf)"><g transform="translate(516.2,231.0) scale(1.0220,1.0072)">
<g filter="url(#desat)"><use href="#ring" x="25" y="50" opacity="0.2"/>
<use href="#ring" x="50" y="75" opacity="0.2"/>
<use href="#ring" x="75" y="0" opacity="0.2"/>
<use href="#ring" x="75" y="100" opacity="0.2"/>
<use href="#ring" x="125" y="50" opacity="0.2"/>
<use href="#ring" x="125" y="100" opacity="0.2"/>
<use href="#ring" x="150" y="125" opacity="0.2"/>
<use href="#pore" x="25" y="125" opacity="0.2"/>
<use href="#pore" x="75" y="25" opacity="0.2"/>
<use href="#pore" x="100" y="100" opacity="0.2"/>
<use href="#tA2" x="12.5" y="37.5" opacity="0.2"/>
<use href="#tM0" x="12.5" y="62.5" opacity="0.2"/>
<use href="#tM2" x="12.5" y="112.5" opacity="0.2"/>
<use href="#tM3" x="12.5" y="112.5" opacity="0.2"/>
<use href="#tA0" x="12.5" y="137.5" opacity="0.2"/>
<use href="#tA1" x="12.5" y="137.5" opacity="0.2"/>
<use href="#tM2" x="37.5" y="37.5" opacity="0.2"/>
<use href="#tA0" x="37.5" y="62.5" opacity="0.2"/>
<use href="#tA2" x="37.5" y="112.5" opacity="0.2"/>
<use href="#tA3" x="37.5" y="112.5" opacity="0.2"/>
<use href="#tM0" x="37.5" y="137.5" opacity="0.2"/>
<use href="#tM1" x="37.5" y="137.5" opacity="0.2"/>
<use href="#tM2" x="62.5" y="12.5" opacity="0.2"/>
<use href="#tM3" x="62.5" y="12.5" opacity="0.2"/>
<use href="#tA0" x="62.5" y="37.5" opacity="0.2"/>
<use href="#tA1" x="62.5" y="37.5" opacity="0.2"/>
<use href="#tA2" x="87.5" y="12.5" opacity="0.2"/>
<use href="#tA3" x="87.5" y="12.5" opacity="0.2"/>
<use href="#tM0" x="87.5" y="37.5" opacity="0.2"/>
<use href="#tM1" x="87.5" y="37.5" opacity="0.2"/>
<use href="#tM2" x="87.5" y="87.5" opacity="0.2"/>
<use href="#tA0" x="87.5" y="112.5" opacity="0.2"/>
<use href="#tA2" x="112.5" y="87.5" opacity="0.2"/>
<use href="#tM0" x="112.5" y="112.5" opacity="0.2"/>
<use href="#tM2" x="137.5" y="37.5" opacity="0.2"/>
<use href="#tM3" x="137.5" y="37.5" opacity="0.2"/>
<use href="#coreM" x="137.5" y="37.5" opacity="0.2"/>
<use href="#tA0" x="137.5" y="62.5" opacity="0.2"/>
<use href="#tA1" x="137.5" y="112.5" opacity="0.2"/>
<use href="#tA2" x="137.5" y="112.5" opacity="0.2"/>
<use href="#coreA" x="137.5" y="112.5" opacity="0.2"/></g>
<use href="#ring" x="0" y="25"/>
<use href="#ring" x="0" y="75"/>
<use href="#ring" x="0" y="125"/>
<use href="#ring" x="25" y="0"/>
<use href="#ring" x="25" y="100"/>
<use href="#ring" x="25" y="150"/>
<use href="#ring" x="50" y="25"/>
<use href="#ring" x="50" y="125"/>
<use href="#ring" x="75" y="50"/>
<use href="#ring" x="75" y="150"/>
<use href="#ring" x="100" y="25"/>
<use href="#ring" x="100" y="75"/>
<use href="#ring" x="100" y="125"/>
<use href="#ring" x="125" y="0"/>
<use href="#ring" x="125" y="150"/>
<use href="#ring" x="150" y="25"/>
<use href="#ring" x="150" y="75"/>
<use href="#pore" x="25" y="25"/>
<use href="#pore" x="25" y="75"/>
<use href="#pore" x="50" y="50"/>
<use href="#pore" x="50" y="100"/>
<use href="#pore" x="75" y="75"/>
<use href="#pore" x="75" y="125"/>
<use href="#pore" x="100" y="50"/>
<use href="#pore" x="125" y="25"/>
<use href="#pore" x="125" y="75"/>
<use href="#pore" x="125" y="125"/>
<use href="#tM0" x="12.5" y="12.5"/>
<use href="#tM1" x="12.5" y="12.5"/>
<use href="#tM2" x="12.5" y="12.5"/>
<use href="#tM3" x="12.5" y="12.5"/>
<use href="#coreM" x="12.5" y="12.5"/>
<use href="#tA0" x="12.5" y="37.5"/>
<use href="#tA1" x="12.5" y="37.5"/>
<use href="#tA3" x="12.5" y="37.5"/>
<use href="#coreA" x="12.5" y="37.5"/>
<use href="#tM1" x="12.5" y="62.5"/>
<use href="#tM2" x="12.5" y="62.5"/>
<use href="#tM3" x="12.5" y="62.5"/>
<use href="#coreM" x="12.5" y="62.5"/>
<use href="#tA0" x="12.5" y="87.5"/>
<use href="#tA1" x="12.5" y="87.5"/>
<use href="#tA2" x="12.5" y="87.5"/>
<use href="#tA3" x="12.5" y="87.5"/>
<use href="#coreA" x="12.5" y="87.5"/>
<use href="#tM0" x="12.5" y="112.5"/>
<use href="#tM1" x="12.5" y="112.5"/>
<use href="#coreM" x="12.5" y="112.5"/>
<use href="#tA2" x="12.5" y="137.5"/>
<use href="#tA3" x="12.5" y="137.5"/>
<use href="#coreA" x="12.5" y="137.5"/>
<use href="#tA0" x="37.5" y="12.5"/>
<use href="#tA1" x="37.5" y="12.5"/>
<use href="#tA2" x="37.5" y="12.5"/>
<use href="#tA3" x="37.5" y="12.5"/>
<use href="#coreA" x="37.5" y="12.5"/>
<use href="#tM0" x="37.5" y="37.5"/>
<use href="#tM1" x="37.5" y="37.5"/>
<use href="#tM3" x="37.5" y="37.5"/>
<use href="#coreM" x="37.5" y="37.5"/>
<use href="#tA1" x="37.5" y="62.5"/>
<use href="#tA2" x="37.5" y="62.5"/>
<use href="#tA3" x="37.5" y="62.5"/>
<use href="#coreA" x="37.5" y="62.5"/>
<use href="#tM0" x="37.5" y="87.5"/>
<use href="#tM1" x="37.5" y="87.5"/>
<use href="#tM2" x="37.5" y="87.5"/>
<use href="#tM3" x="37.5" y="87.5"/>
<use href="#coreM" x="37.5" y="87.5"/>
<use href="#tA0" x="37.5" y="112.5"/>
<use href="#tA1" x="37.5" y="112.5"/>
<use href="#coreA" x="37.5" y="112.5"/>
<use href="#tM2" x="37.5" y="137.5"/>
<use href="#tM3" x="37.5" y="137.5"/>
<use href="#coreM" x="37.5" y="137.5"/>
<use href="#tM0" x="62.5" y="12.5"/>
<use href="#tM1" x="62.5" y="12.5"/>
<use href="#coreM" x="62.5" y="12.5"/>
<use href="#tA2" x="62.5" y="37.5"/>
<use href="#tA3" x="62.5" y="37.5"/>
<use href="#coreA" x="62.5" y="37.5"/>
<use href="#tM0" x="62.5" y="62.5"/>
<use href="#tM1" x="62.5" y="62.5"/>
<use href="#tM2" x="62.5" y="62.5"/>
<use href="#tM3" x="62.5" y="62.5"/>
<use href="#coreM" x="62.5" y="62.5"/>
<use href="#tA0" x="62.5" y="87.5"/>
<use href="#tA1" x="62.5" y="87.5"/>
<use href="#tA2" x="62.5" y="87.5"/>
<use href="#tA3" x="62.5" y="87.5"/>
<use href="#coreA" x="62.5" y="87.5"/>
<use href="#tM0" x="62.5" y="112.5"/>
<use href="#tM1" x="62.5" y="112.5"/>
<use href="#tM2" x="62.5" y="112.5"/>
<use href="#tM3" x="62.5" y="112.5"/>
<use href="#coreM" x="62.5" y="112.5"/>
<use href="#tA0" x="62.5" y="137.5"/>
<use href="#tA1" x="62.5" y="137.5"/>
<use href="#tA2" x="62.5" y="137.5"/>
<use href="#tA3" x="62.5" y="137.5"/>
<use href="#coreA" x="62.5" y="137.5"/>
<use href="#tA0" x="87.5" y="12.5"/>
<use href="#tA1" x="87.5" y="12.5"/>
<use href="#coreA" x="87.5" y="12.5"/>
<use href="#tM2" x="87.5" y="37.5"/>
<use href="#tM3" x="87.5" y="37.5"/>
<use href="#coreM" x="87.5" y="37.5"/>
<use href="#tA0" x="87.5" y="62.5"/>
<use href="#tA1" x="87.5" y="62.5"/>
<use href="#tA2" x="87.5" y="62.5"/>
<use href="#tA3" x="87.5" y="62.5"/>
<use href="#coreA" x="87.5" y="62.5"/>
<use href="#tM0" x="87.5" y="87.5"/>
<use href="#tM1" x="87.5" y="87.5"/>
<use href="#tM3" x="87.5" y="87.5"/>
<use href="#coreM" x="87.5" y="87.5"/>
<use href="#tA1" x="87.5" y="112.5"/>
<use href="#tA2" x="87.5" y="112.5"/>
<use href="#tA3" x="87.5" y="112.5"/>
<use href="#coreA" x="87.5" y="112.5"/>
<use href="#tM0" x="87.5" y="137.5"/>
<use href="#tM1" x="87.5" y="137.5"/>
<use href="#tM2" x="87.5" y="137.5"/>
<use href="#tM3" x="87.5" y="137.5"/>
<use href="#coreM" x="87.5" y="137.5"/>
<use href="#tM0" x="112.5" y="12.5"/>
<use href="#tM1" x="112.5" y="12.5"/>
<use href="#tM2" x="112.5" y="12.5"/>
<use href="#tM3" x="112.5" y="12.5"/>
<use href="#coreM" x="112.5" y="12.5"/>
<use href="#tA0" x="112.5" y="37.5"/>
<use href="#tA1" x="112.5" y="37.5"/>
<use href="#tA2" x="112.5" y="37.5"/>
<use href="#tA3" x="112.5" y="37.5"/>
<use href="#coreA" x="112.5" y="37.5"/>
<use href="#tM0" x="112.5" y="62.5"/>
<use href="#tM1" x="112.5" y="62.5"/>
<use href="#tM2" x="112.5" y="62.5"/>
<use href="#tM3" x="112.5" y="62.5"/>
<use href="#coreM" x="112.5" y="62.5"/>
<use href="#tA0" x="112.5" y="87.5"/>
<use href="#tA1" x="112.5" y="87.5"/>
<use href="#tA3" x="112.5" y="87.5"/>
<use href="#coreA" x="112.5" y="87.5"/>
<use href="#tM1" x="112.5" y="112.5"/>
<use href="#tM2" x="112.5" y="112.5"/>
<use href="#tM3" x="112.5" y="112.5"/>
<use href="#coreM" x="112.5" y="112.5"/>
<use href="#tA0" x="112.5" y="137.5"/>
<use href="#tA1" x="112.5" y="137.5"/>
<use href="#tA2" x="112.5" y="137.5"/>
<use href="#tA3" x="112.5" y="137.5"/>
<use href="#coreA" x="112.5" y="137.5"/>
<use href="#tA0" x="137.5" y="12.5"/>
<use href="#tA1" x="137.5" y="12.5"/>
<use href="#tA2" x="137.5" y="12.5"/>
<use href="#tA3" x="137.5" y="12.5"/>
<use href="#coreA" x="137.5" y="12.5"/>
<use href="#tM0" x="137.5" y="37.5"/>
<use href="#tM1" x="137.5" y="37.5"/>
<use href="#tA1" x="137.5" y="62.5"/>
<use href="#tA2" x="137.5" y="62.5"/>
<use href="#tA3" x="137.5" y="62.5"/>
<use href="#coreA" x="137.5" y="62.5"/>
<use href="#tM0" x="137.5" y="87.5"/>
<use href="#tM1" x="137.5" y="87.5"/>
<use href="#tM2" x="137.5" y="87.5"/>
<use href="#tM3" x="137.5" y="87.5"/>
<use href="#coreM" x="137.5" y="87.5"/>
<use href="#tA0" x="137.5" y="112.5"/>
<use href="#tA3" x="137.5" y="112.5"/>
<use href="#tM0" x="137.5" y="137.5"/>
<use href="#tM1" x="137.5" y="137.5"/>
<use href="#tM2" x="137.5" y="137.5"/>
<use href="#tM3" x="137.5" y="137.5"/>
<use href="#coreM" x="137.5" y="137.5"/>
</g></g>
<rect x="500.45" y="218.5" width="183.45" height="176" fill="none" stroke="#000" stroke-width="1.25"/>
<text x="500.20" y="214.70" font-size="15.0" text-anchor="start" font-weight="bold" fill="#000" >f</text>
<text x="0" y="0" font-size="14.5" text-anchor="middle" fill="#1e1e1e" transform="translate(497.3,308.3) rotate(-90)">Fractures</text>
</svg>
</body></html>
